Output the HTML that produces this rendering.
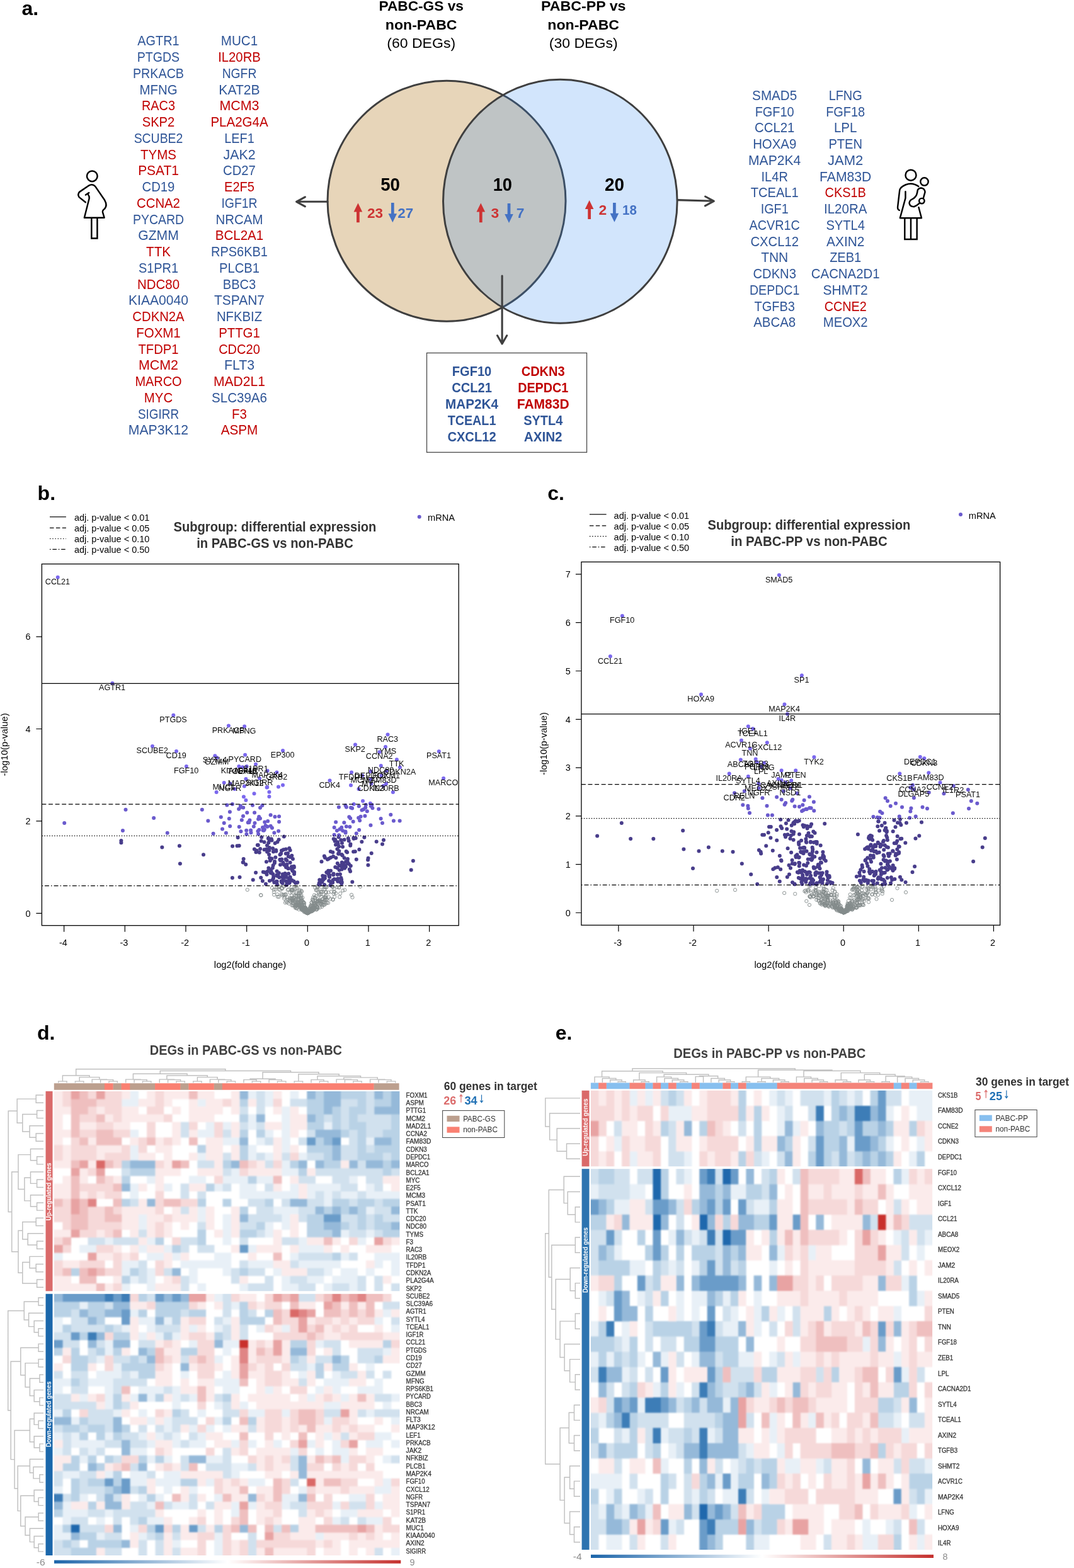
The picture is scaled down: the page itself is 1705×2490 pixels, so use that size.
<!DOCTYPE html>
<html lang="en"><head><meta charset="utf-8"><title>Figure: DEGs in PABC-GS and PABC-PP vs non-PABC</title>
<style>html,body{margin:0;padding:0;background:#fff}body{width:1705px;height:2490px;overflow:hidden}svg{display:block;font-family:"Liberation Sans",sans-serif}text{white-space:pre}</style>
</head><body>
<svg width="1705" height="2490" viewBox="0 0 1705 2490">
<rect width="1705" height="2490" fill="#fff"/>
<defs><filter id="soft" x="-2%" y="-2%" width="104%" height="104%" color-interpolation-filters="sRGB"><feGaussianBlur stdDeviation="1"/></filter></defs>
<g id="panel-a">
<text x="34.5" y="24.1" font-size="32" fill="#000" font-weight="bold">a.</text>
<g id="genes-gs">
<text x="251.5" y="72.4" font-size="22.1" fill="#2F5597" text-anchor="middle" textLength="66.28" lengthAdjust="spacingAndGlyphs">AGTR1</text>
<text x="251.5" y="98.15" font-size="22.1" fill="#2F5597" text-anchor="middle" textLength="67.35" lengthAdjust="spacingAndGlyphs">PTGDS</text>
<text x="251.5" y="123.9" font-size="22.1" fill="#2F5597" text-anchor="middle" textLength="81.04" lengthAdjust="spacingAndGlyphs">PRKACB</text>
<text x="251.5" y="149.65" font-size="22.1" fill="#2F5597" text-anchor="middle" textLength="60.15" lengthAdjust="spacingAndGlyphs">MFNG</text>
<text x="251.5" y="175.4" font-size="22.1" fill="#C00000" text-anchor="middle" textLength="52.91" lengthAdjust="spacingAndGlyphs">RAC3</text>
<text x="251.5" y="201.15" font-size="22.1" fill="#C00000" text-anchor="middle" textLength="51.46" lengthAdjust="spacingAndGlyphs">SKP2</text>
<text x="251.5" y="226.9" font-size="22.1" fill="#2F5597" text-anchor="middle" textLength="77.75" lengthAdjust="spacingAndGlyphs">SCUBE2</text>
<text x="251.5" y="252.65" font-size="22.1" fill="#C00000" text-anchor="middle" textLength="56.81" lengthAdjust="spacingAndGlyphs">TYMS</text>
<text x="251.5" y="278.4" font-size="22.1" fill="#C00000" text-anchor="middle" textLength="64.73" lengthAdjust="spacingAndGlyphs">PSAT1</text>
<text x="251.5" y="304.15" font-size="22.1" fill="#2F5597" text-anchor="middle" textLength="51.83" lengthAdjust="spacingAndGlyphs">CD19</text>
<text x="251.5" y="329.9" font-size="22.1" fill="#C00000" text-anchor="middle" textLength="68.86" lengthAdjust="spacingAndGlyphs">CCNA2</text>
<text x="251.5" y="355.65" font-size="22.1" fill="#2F5597" text-anchor="middle" textLength="81.19" lengthAdjust="spacingAndGlyphs">PYCARD</text>
<text x="251.5" y="381.4" font-size="22.1" fill="#2F5597" text-anchor="middle" textLength="64.54" lengthAdjust="spacingAndGlyphs">GZMM</text>
<text x="251.5" y="407.15" font-size="22.1" fill="#C00000" text-anchor="middle" textLength="38.83" lengthAdjust="spacingAndGlyphs">TTK</text>
<text x="251.5" y="432.9" font-size="22.1" fill="#2F5597" text-anchor="middle" textLength="63.2" lengthAdjust="spacingAndGlyphs">S1PR1</text>
<text x="251.5" y="458.65" font-size="22.1" fill="#C00000" text-anchor="middle" textLength="67.03" lengthAdjust="spacingAndGlyphs">NDC80</text>
<text x="251.5" y="484.4" font-size="22.1" fill="#2F5597" text-anchor="middle" textLength="94.91" lengthAdjust="spacingAndGlyphs">KIAA0040</text>
<text x="251.5" y="510.15" font-size="22.1" fill="#C00000" text-anchor="middle" textLength="82.34" lengthAdjust="spacingAndGlyphs">CDKN2A</text>
<text x="251.5" y="535.9" font-size="22.1" fill="#C00000" text-anchor="middle" textLength="70.43" lengthAdjust="spacingAndGlyphs">FOXM1</text>
<text x="251.5" y="561.65" font-size="22.1" fill="#C00000" text-anchor="middle" textLength="63.94" lengthAdjust="spacingAndGlyphs">TFDP1</text>
<text x="251.5" y="587.4" font-size="22.1" fill="#C00000" text-anchor="middle" textLength="63.1" lengthAdjust="spacingAndGlyphs">MCM2</text>
<text x="251.5" y="613.15" font-size="22.1" fill="#C00000" text-anchor="middle" textLength="74.22" lengthAdjust="spacingAndGlyphs">MARCO</text>
<text x="251.5" y="638.9" font-size="22.1" fill="#C00000" text-anchor="middle" textLength="45.32" lengthAdjust="spacingAndGlyphs">MYC</text>
<text x="251.5" y="664.65" font-size="22.1" fill="#2F5597" text-anchor="middle" textLength="65.05" lengthAdjust="spacingAndGlyphs">SIGIRR</text>
<text x="251.5" y="690.4" font-size="22.1" fill="#2F5597" text-anchor="middle" textLength="95.3" lengthAdjust="spacingAndGlyphs">MAP3K12</text>
<text x="380" y="72.4" font-size="22.1" fill="#2F5597" text-anchor="middle" textLength="58.31" lengthAdjust="spacingAndGlyphs">MUC1</text>
<text x="380" y="98.15" font-size="22.1" fill="#C00000" text-anchor="middle" textLength="67.65" lengthAdjust="spacingAndGlyphs">IL20RB</text>
<text x="380" y="123.9" font-size="22.1" fill="#2F5597" text-anchor="middle" textLength="54.66" lengthAdjust="spacingAndGlyphs">NGFR</text>
<text x="380" y="149.65" font-size="22.1" fill="#2F5597" text-anchor="middle" textLength="65.27" lengthAdjust="spacingAndGlyphs">KAT2B</text>
<text x="380" y="175.4" font-size="22.1" fill="#C00000" text-anchor="middle" textLength="63.1" lengthAdjust="spacingAndGlyphs">MCM3</text>
<text x="380" y="201.15" font-size="22.1" fill="#C00000" text-anchor="middle" textLength="91.25" lengthAdjust="spacingAndGlyphs">PLA2G4A</text>
<text x="380" y="226.9" font-size="22.1" fill="#2F5597" text-anchor="middle" textLength="47.37" lengthAdjust="spacingAndGlyphs">LEF1</text>
<text x="380" y="252.65" font-size="22.1" fill="#2F5597" text-anchor="middle" textLength="51.03" lengthAdjust="spacingAndGlyphs">JAK2</text>
<text x="380" y="278.4" font-size="22.1" fill="#2F5597" text-anchor="middle" textLength="51.83" lengthAdjust="spacingAndGlyphs">CD27</text>
<text x="380" y="304.15" font-size="22.1" fill="#C00000" text-anchor="middle" textLength="47.87" lengthAdjust="spacingAndGlyphs">E2F5</text>
<text x="380" y="329.9" font-size="22.1" fill="#2F5597" text-anchor="middle" textLength="57.23" lengthAdjust="spacingAndGlyphs">IGF1R</text>
<text x="380" y="355.65" font-size="22.1" fill="#2F5597" text-anchor="middle" textLength="74.76" lengthAdjust="spacingAndGlyphs">NRCAM</text>
<text x="380" y="381.4" font-size="22.1" fill="#C00000" text-anchor="middle" textLength="76.51" lengthAdjust="spacingAndGlyphs">BCL2A1</text>
<text x="380" y="407.15" font-size="22.1" fill="#2F5597" text-anchor="middle" textLength="89.85" lengthAdjust="spacingAndGlyphs">RPS6KB1</text>
<text x="380" y="432.9" font-size="22.1" fill="#2F5597" text-anchor="middle" textLength="64.07" lengthAdjust="spacingAndGlyphs">PLCB1</text>
<text x="380" y="458.65" font-size="22.1" fill="#2F5597" text-anchor="middle" textLength="52.42" lengthAdjust="spacingAndGlyphs">BBC3</text>
<text x="380" y="484.4" font-size="22.1" fill="#2F5597" text-anchor="middle" textLength="79.94" lengthAdjust="spacingAndGlyphs">TSPAN7</text>
<text x="380" y="510.15" font-size="22.1" fill="#2F5597" text-anchor="middle" textLength="72.22" lengthAdjust="spacingAndGlyphs">NFKBIZ</text>
<text x="380" y="535.9" font-size="22.1" fill="#C00000" text-anchor="middle" textLength="65.42" lengthAdjust="spacingAndGlyphs">PTTG1</text>
<text x="380" y="561.65" font-size="22.1" fill="#C00000" text-anchor="middle" textLength="65.71" lengthAdjust="spacingAndGlyphs">CDC20</text>
<text x="380" y="587.4" font-size="22.1" fill="#2F5597" text-anchor="middle" textLength="47.97" lengthAdjust="spacingAndGlyphs">FLT3</text>
<text x="380" y="613.15" font-size="22.1" fill="#C00000" text-anchor="middle" textLength="81.96" lengthAdjust="spacingAndGlyphs">MAD2L1</text>
<text x="380" y="638.9" font-size="22.1" fill="#2F5597" text-anchor="middle" textLength="87.86" lengthAdjust="spacingAndGlyphs">SLC39A6</text>
<text x="380" y="664.65" font-size="22.1" fill="#C00000" text-anchor="middle" textLength="23.77" lengthAdjust="spacingAndGlyphs">F3</text>
<text x="380" y="690.4" font-size="22.1" fill="#C00000" text-anchor="middle" textLength="58.65" lengthAdjust="spacingAndGlyphs">ASPM</text>
</g>
<g id="genes-pp">
<text x="1229.7" y="158.9" font-size="22.1" fill="#2F5597" text-anchor="middle" textLength="71.16" lengthAdjust="spacingAndGlyphs">SMAD5</text>
<text x="1229.7" y="184.65" font-size="22.1" fill="#2F5597" text-anchor="middle" textLength="62.06" lengthAdjust="spacingAndGlyphs">FGF10</text>
<text x="1229.7" y="210.4" font-size="22.1" fill="#2F5597" text-anchor="middle" textLength="63.2" lengthAdjust="spacingAndGlyphs">CCL21</text>
<text x="1229.7" y="236.15" font-size="22.1" fill="#2F5597" text-anchor="middle" textLength="69.14" lengthAdjust="spacingAndGlyphs">HOXA9</text>
<text x="1229.7" y="261.9" font-size="22.1" fill="#2F5597" text-anchor="middle" textLength="83.32" lengthAdjust="spacingAndGlyphs">MAP2K4</text>
<text x="1229.7" y="287.65" font-size="22.1" fill="#2F5597" text-anchor="middle" textLength="42.39" lengthAdjust="spacingAndGlyphs">IL4R</text>
<text x="1229.7" y="313.4" font-size="22.1" fill="#2F5597" text-anchor="middle" textLength="76.1" lengthAdjust="spacingAndGlyphs">TCEAL1</text>
<text x="1229.7" y="339.15" font-size="22.1" fill="#2F5597" text-anchor="middle" textLength="44.1" lengthAdjust="spacingAndGlyphs">IGF1</text>
<text x="1229.7" y="364.9" font-size="22.1" fill="#2F5597" text-anchor="middle" textLength="80.36" lengthAdjust="spacingAndGlyphs">ACVR1C</text>
<text x="1229.7" y="390.65" font-size="22.1" fill="#2F5597" text-anchor="middle" textLength="76.57" lengthAdjust="spacingAndGlyphs">CXCL12</text>
<text x="1229.7" y="416.4" font-size="22.1" fill="#2F5597" text-anchor="middle" textLength="43.14" lengthAdjust="spacingAndGlyphs">TNN</text>
<text x="1229.7" y="442.15" font-size="22.1" fill="#2F5597" text-anchor="middle" textLength="68.43" lengthAdjust="spacingAndGlyphs">CDKN3</text>
<text x="1229.7" y="467.9" font-size="22.1" fill="#2F5597" text-anchor="middle" textLength="79.41" lengthAdjust="spacingAndGlyphs">DEPDC1</text>
<text x="1229.7" y="493.65" font-size="22.1" fill="#2F5597" text-anchor="middle" textLength="64.3" lengthAdjust="spacingAndGlyphs">TGFB3</text>
<text x="1229.7" y="519.4" font-size="22.1" fill="#2F5597" text-anchor="middle" textLength="66.97" lengthAdjust="spacingAndGlyphs">ABCA8</text>
<text x="1342.2" y="158.9" font-size="22.1" fill="#2F5597" text-anchor="middle" textLength="53" lengthAdjust="spacingAndGlyphs">LFNG</text>
<text x="1342.2" y="184.65" font-size="22.1" fill="#2F5597" text-anchor="middle" textLength="62.06" lengthAdjust="spacingAndGlyphs">FGF18</text>
<text x="1342.2" y="210.4" font-size="22.1" fill="#2F5597" text-anchor="middle" textLength="36.41" lengthAdjust="spacingAndGlyphs">LPL</text>
<text x="1342.2" y="236.15" font-size="22.1" fill="#2F5597" text-anchor="middle" textLength="53.51" lengthAdjust="spacingAndGlyphs">PTEN</text>
<text x="1342.2" y="261.9" font-size="22.1" fill="#2F5597" text-anchor="middle" textLength="56.28" lengthAdjust="spacingAndGlyphs">JAM2</text>
<text x="1342.2" y="287.65" font-size="22.1" fill="#2F5597" text-anchor="middle" textLength="82.27" lengthAdjust="spacingAndGlyphs">FAM83D</text>
<text x="1342.2" y="313.4" font-size="22.1" fill="#C00000" text-anchor="middle" textLength="65.17" lengthAdjust="spacingAndGlyphs">CKS1B</text>
<text x="1342.2" y="339.15" font-size="22.1" fill="#2F5597" text-anchor="middle" textLength="68.28" lengthAdjust="spacingAndGlyphs">IL20RA</text>
<text x="1342.2" y="364.9" font-size="22.1" fill="#2F5597" text-anchor="middle" textLength="61.65" lengthAdjust="spacingAndGlyphs">SYTL4</text>
<text x="1342.2" y="390.65" font-size="22.1" fill="#2F5597" text-anchor="middle" textLength="60.27" lengthAdjust="spacingAndGlyphs">AXIN2</text>
<text x="1342.2" y="416.4" font-size="22.1" fill="#2F5597" text-anchor="middle" textLength="50.15" lengthAdjust="spacingAndGlyphs">ZEB1</text>
<text x="1342.2" y="442.15" font-size="22.1" fill="#2F5597" text-anchor="middle" textLength="108.74" lengthAdjust="spacingAndGlyphs">CACNA2D1</text>
<text x="1342.2" y="467.9" font-size="22.1" fill="#2F5597" text-anchor="middle" textLength="71.19" lengthAdjust="spacingAndGlyphs">SHMT2</text>
<text x="1342.2" y="493.65" font-size="22.1" fill="#C00000" text-anchor="middle" textLength="67.07" lengthAdjust="spacingAndGlyphs">CCNE2</text>
<text x="1342.2" y="519.4" font-size="22.1" fill="#2F5597" text-anchor="middle" textLength="70.76" lengthAdjust="spacingAndGlyphs">MEOX2</text>
</g>
<text x="668.7" y="17.3" font-size="22.8" fill="#000" font-weight="bold" text-anchor="middle" textLength="134.5" lengthAdjust="spacingAndGlyphs">PABC-GS vs</text>
<text x="668.7" y="46.5" font-size="22.8" fill="#000" font-weight="bold" text-anchor="middle" textLength="113.7" lengthAdjust="spacingAndGlyphs">non-PABC</text>
<text x="668.7" y="76.4" font-size="22.4" fill="#000" text-anchor="middle" textLength="108.8" lengthAdjust="spacingAndGlyphs">(60 DEGs)</text>
<text x="926.2" y="17.3" font-size="22.8" fill="#000" font-weight="bold" text-anchor="middle" textLength="134.5" lengthAdjust="spacingAndGlyphs">PABC-PP vs</text>
<text x="926.2" y="46.5" font-size="22.8" fill="#000" font-weight="bold" text-anchor="middle" textLength="113.7" lengthAdjust="spacingAndGlyphs">non-PABC</text>
<text x="926.2" y="76.4" font-size="22.4" fill="#000" text-anchor="middle" textLength="108.8" lengthAdjust="spacingAndGlyphs">(30 DEGs)</text>
<g id="venn">
<ellipse cx="709" cy="319.3" rx="189" ry="191" fill="#E7D5B9" stroke="#3F3F3F" stroke-width="3"/>
<ellipse cx="889.3" cy="319.8" rx="185.8" ry="193.5" fill="rgb(50,137,241)" fill-opacity="0.22" stroke="none"/>
<ellipse cx="889.3" cy="319.8" rx="185.8" ry="193.5" fill="none" stroke="#3F3F3F" stroke-width="3"/>
</g>
<path d="M520 320.3H471.5M484.3 312.8L470.6 320.3L484.3 327.8" fill="none" stroke="#3F3F3F" stroke-width="3.1" stroke-linecap="round" stroke-linejoin="round"/>
<path d="M1076 317.6L1132.5 319.3M1119.6 312L1133.3 319.4L1119.4 326.8" fill="none" stroke="#3F3F3F" stroke-width="3.1" stroke-linecap="round" stroke-linejoin="round"/>
<path d="M797.1 438V545M789.5 532.8L797.1 546L804.7 532.8" fill="none" stroke="#3F3F3F" stroke-width="3.1" stroke-linecap="round" stroke-linejoin="round"/>
<text x="619.6" y="303.2" font-size="29.3" fill="#000" font-weight="bold" text-anchor="middle" textLength="30.7" lengthAdjust="spacingAndGlyphs">50</text>
<text x="797.8" y="303.2" font-size="29.3" fill="#000" font-weight="bold" text-anchor="middle" textLength="30.3" lengthAdjust="spacingAndGlyphs">10</text>
<text x="975.5" y="303.2" font-size="29.3" fill="#000" font-weight="bold" text-anchor="middle" textLength="31" lengthAdjust="spacingAndGlyphs">20</text>
<path d="M568.4 322.6L575.2 336.6H570.75V353.3H566.05V336.6H561.6Z" fill="#CD3333"/>
<text x="595.5" y="345.8" font-size="22.8" fill="#CD3333" font-weight="bold" text-anchor="middle" textLength="25" lengthAdjust="spacingAndGlyphs">23</text>
<path d="M623.3 353.3L630.1 339.3H625.65V322H620.95V339.3H616.5Z" fill="#4472C4"/>
<text x="643.7" y="345.8" font-size="22.8" fill="#4472C4" font-weight="bold" text-anchor="middle" textLength="24.9" lengthAdjust="spacingAndGlyphs">27</text>
<path d="M763.3 322.6L770.1 336.6H765.65V353.3H760.95V336.6H756.5Z" fill="#CD3333"/>
<text x="785.8" y="345.8" font-size="22.8" fill="#CD3333" font-weight="bold" text-anchor="middle">3</text>
<path d="M808 354L814.8 340H810.35V323H805.65V340H801.2Z" fill="#4472C4"/>
<text x="826.2" y="345.8" font-size="22.8" fill="#4472C4" font-weight="bold" text-anchor="middle">7</text>
<path d="M935.6 317.9L942.4 331.9H937.95V348H933.25V331.9H928.8Z" fill="#CD3333"/>
<text x="956.8" y="340.9" font-size="22.8" fill="#CD3333" font-weight="bold" text-anchor="middle">2</text>
<path d="M975.4 352.8L982.2 338.8H977.75V322H973.05V338.8H968.6Z" fill="#4472C4"/>
<text x="999.5" y="340.9" font-size="22.8" fill="#4472C4" font-weight="bold" text-anchor="middle" textLength="22.8" lengthAdjust="spacingAndGlyphs">18</text>
<rect x="677.5" y="560.5" width="254" height="157.8" fill="#fff" stroke="#4A4A4A" stroke-width="1.3"/>
<g id="shared-genes">
<text x="749" y="597.3" font-size="22" fill="#2F5597" font-weight="bold" text-anchor="middle" textLength="62.56" lengthAdjust="spacingAndGlyphs">FGF10</text>
<text x="749" y="623.23" font-size="22" fill="#2F5597" font-weight="bold" text-anchor="middle" textLength="63.7" lengthAdjust="spacingAndGlyphs">CCL21</text>
<text x="749" y="649.16" font-size="22" fill="#2F5597" font-weight="bold" text-anchor="middle" textLength="83.99" lengthAdjust="spacingAndGlyphs">MAP2K4</text>
<text x="749" y="675.09" font-size="22" fill="#2F5597" font-weight="bold" text-anchor="middle" textLength="76.71" lengthAdjust="spacingAndGlyphs">TCEAL1</text>
<text x="749" y="701.02" font-size="22" fill="#2F5597" font-weight="bold" text-anchor="middle" textLength="77.18" lengthAdjust="spacingAndGlyphs">CXCL12</text>
<text x="862.2" y="597.3" font-size="22" fill="#C00000" font-weight="bold" text-anchor="middle" textLength="68.97" lengthAdjust="spacingAndGlyphs">CDKN3</text>
<text x="862.2" y="623.23" font-size="22" fill="#C00000" font-weight="bold" text-anchor="middle" textLength="80.05" lengthAdjust="spacingAndGlyphs">DEPDC1</text>
<text x="862.2" y="649.16" font-size="22" fill="#C00000" font-weight="bold" text-anchor="middle" textLength="82.93" lengthAdjust="spacingAndGlyphs">FAM83D</text>
<text x="862.2" y="675.09" font-size="22" fill="#2F5597" font-weight="bold" text-anchor="middle" textLength="62.14" lengthAdjust="spacingAndGlyphs">SYTL4</text>
<text x="862.2" y="701.02" font-size="22" fill="#2F5597" font-weight="bold" text-anchor="middle" textLength="60.75" lengthAdjust="spacingAndGlyphs">AXIN2</text>
</g>
<g id="icon-pregnant" transform="translate(100,240) scale(0.06887)" fill="none" stroke="#000" stroke-linecap="round" stroke-linejoin="round" stroke-width="36"><circle cx="672" cy="578" r="121"/><path d="M520 1180L372 1062Q330 1000 378 942L600 792Q680 745 745 815L960 1130Q1030 1250 960 1330Q905 1370 915 1410L952 1535H492L605 1090Q610 1040 580 1000M522 1010L598 960" stroke-linejoin="round"/><path d="M658 1535V2010H790V1535" stroke-linejoin="miter" stroke-linecap="butt"/></g>
<g id="icon-mother" transform="translate(1400,250) scale(0.06456)" fill="none" stroke="#000" stroke-linecap="round" stroke-linejoin="round" stroke-width="38"><circle cx="712" cy="437" r="132"/><circle cx="1045" cy="595" r="96"/><path d="M902 712C820 655 700 625 590 670C530 695 480 730 458 760Q440 782 436 815L388 1225Q385 1280 430 1300"/><path d="M580 840V1000L447 1490H975L905 1228"/><path d="M880 800Q910 750 965 750Q1050 760 1062 850L1020 1000M920 1130Q860 1190 790 1212Q690 1210 675 1130Q675 1060 740 1030Q850 980 870 860L880 800"/><circle cx="981" cy="1070" r="65"/><path d="M562 1490V2015H862V1490M712 1490V2015" stroke-linejoin="miter" stroke-linecap="butt"/></g>
</g>
<g id="panel-b">
<text x="59.6" y="793.9" font-size="32" fill="#000" font-weight="bold">b.</text>
<path d="M79 820.8H104.9" stroke="#000" stroke-width="1.2"/>
<text x="117.9" y="826.6" font-size="14.4" fill="#000" textLength="119.4" lengthAdjust="spacingAndGlyphs">adj. p-value &lt; 0.01</text>
<path d="M79 838.4H104.9" stroke="#000" stroke-width="1.2" stroke-dasharray="6.5 3.4"/>
<text x="117.9" y="844.2" font-size="14.4" fill="#000" textLength="119.4" lengthAdjust="spacingAndGlyphs">adj. p-value &lt; 0.05</text>
<path d="M79 855.5H104.9" stroke="#000" stroke-width="1.2" stroke-dasharray="1.5 2.7"/>
<text x="117.9" y="861" font-size="14.4" fill="#000" textLength="119.4" lengthAdjust="spacingAndGlyphs">adj. p-value &lt; 0.10</text>
<path d="M79 872.3H104.9" stroke="#000" stroke-width="1.2" stroke-dasharray="1.5 2.9 6.5 2.9"/>
<text x="117.9" y="878.1" font-size="14.4" fill="#000" textLength="119.4" lengthAdjust="spacingAndGlyphs">adj. p-value &lt; 0.50</text>
<text x="436.5" y="844.2" font-size="21.2" fill="#333" font-weight="bold" text-anchor="middle" textLength="321.8" lengthAdjust="spacingAndGlyphs">Subgroup: differential expression</text>
<text x="436.5" y="870" font-size="21.2" fill="#333" font-weight="bold" text-anchor="middle" textLength="248.6" lengthAdjust="spacingAndGlyphs">in PABC-GS vs non-PABC</text>
<circle cx="665.7" cy="820.8" r="3" fill="#6A5ACD"/>
<text x="679.1" y="826.6" font-size="14.4" fill="#000" textLength="43" lengthAdjust="spacingAndGlyphs">mRNA</text>
<text transform="translate(11.5 1182.4) rotate(-90)" font-size="14.4" text-anchor="middle" textLength="100" lengthAdjust="spacingAndGlyphs">-log10(p-value)</text>
<text x="397" y="1536.5" font-size="14.4" fill="#000" text-anchor="middle" textLength="114.3" lengthAdjust="spacingAndGlyphs">log2(fold change)</text>
<text x="100.32" y="1501.9" font-size="14.4" fill="#000" text-anchor="middle">-4</text>
<text x="196.99" y="1501.9" font-size="14.4" fill="#000" text-anchor="middle">-3</text>
<text x="293.66" y="1501.9" font-size="14.4" fill="#000" text-anchor="middle">-2</text>
<text x="390.33" y="1501.9" font-size="14.4" fill="#000" text-anchor="middle">-1</text>
<text x="487" y="1501.9" font-size="14.4" fill="#000" text-anchor="middle">0</text>
<text x="583.67" y="1501.9" font-size="14.4" fill="#000" text-anchor="middle">1</text>
<text x="680.34" y="1501.9" font-size="14.4" fill="#000" text-anchor="middle">2</text>
<text x="48.6" y="1455.5" font-size="14.4" fill="#000" text-anchor="end">0</text>
<text x="48.6" y="1309.1" font-size="14.4" fill="#000" text-anchor="end">2</text>
<text x="48.6" y="1162.7" font-size="14.4" fill="#000" text-anchor="end">4</text>
<text x="48.6" y="1016.3" font-size="14.4" fill="#000" text-anchor="end">6</text>
<path d="M101.62 1469.7v10M198.29 1469.7v10M294.96 1469.7v10M391.63 1469.7v10M488.3 1469.7v10M584.97 1469.7v10M681.64 1469.7v10M66.4 1450.3h-9M66.4 1303.9h-9M66.4 1157.5h-9M66.4 1011.1h-9" stroke="#000" stroke-width="1.2" fill="none"/>
<g fill="none" stroke="#838B8B" stroke-width="0.9">
<circle cx="392.7" cy="1413" r="2.6"/><circle cx="414" cy="1421.4" r="2.6"/><circle cx="414.4" cy="1421.6" r="2.6"/><circle cx="572" cy="1408" r="2.6"/><circle cx="558" cy="1421" r="2.6"/><circle cx="559.5" cy="1425" r="2.6"/><circle cx="466.2" cy="1426.32" r="2.6"/><circle cx="459.55" cy="1426.85" r="2.6"/><circle cx="488.81" cy="1449.17" r="2.6"/><circle cx="507.74" cy="1430.84" r="2.6"/><circle cx="477.95" cy="1426.89" r="2.6"/><circle cx="469.6" cy="1428.95" r="2.6"/><circle cx="516.86" cy="1422.51" r="2.6"/><circle cx="500.96" cy="1430.26" r="2.6"/><circle cx="482.87" cy="1441.95" r="2.6"/><circle cx="454.1" cy="1431.25" r="2.6"/><circle cx="473.92" cy="1425.44" r="2.6"/><circle cx="491.61" cy="1442.95" r="2.6"/><circle cx="480.33" cy="1425.52" r="2.6"/><circle cx="535.15" cy="1408.83" r="2.6"/><circle cx="494.6" cy="1433.38" r="2.6"/><circle cx="493.03" cy="1445.13" r="2.6"/><circle cx="494.65" cy="1433.55" r="2.6"/><circle cx="432.01" cy="1410.03" r="2.6"/><circle cx="521.27" cy="1417.2" r="2.6"/><circle cx="462.62" cy="1427.63" r="2.6"/><circle cx="447.98" cy="1421.56" r="2.6"/><circle cx="464.83" cy="1434.55" r="2.6"/><circle cx="500.76" cy="1442.13" r="2.6"/><circle cx="480.09" cy="1437.19" r="2.6"/><circle cx="496.18" cy="1441.83" r="2.6"/><circle cx="485.76" cy="1448.82" r="2.6"/><circle cx="483.08" cy="1434.18" r="2.6"/><circle cx="478.62" cy="1443.5" r="2.6"/><circle cx="484.28" cy="1442.32" r="2.6"/><circle cx="498.77" cy="1440.98" r="2.6"/><circle cx="487.92" cy="1449.56" r="2.6"/><circle cx="489.88" cy="1449.33" r="2.6"/><circle cx="496.63" cy="1441.18" r="2.6"/><circle cx="496.91" cy="1443.59" r="2.6"/><circle cx="499.79" cy="1437.18" r="2.6"/><circle cx="449.91" cy="1420.62" r="2.6"/><circle cx="451.15" cy="1426.96" r="2.6"/><circle cx="483.19" cy="1440.75" r="2.6"/><circle cx="473.91" cy="1432.32" r="2.6"/><circle cx="490.97" cy="1448.55" r="2.6"/><circle cx="501.64" cy="1422.82" r="2.6"/><circle cx="510.06" cy="1424.7" r="2.6"/><circle cx="464.46" cy="1426.73" r="2.6"/><circle cx="464.22" cy="1426.31" r="2.6"/><circle cx="482.67" cy="1448.02" r="2.6"/><circle cx="493.94" cy="1443.89" r="2.6"/><circle cx="519.19" cy="1433.19" r="2.6"/><circle cx="497.32" cy="1443.98" r="2.6"/><circle cx="499.99" cy="1426.39" r="2.6"/><circle cx="504.95" cy="1434.6" r="2.6"/><circle cx="507.75" cy="1441.19" r="2.6"/><circle cx="494.52" cy="1439.62" r="2.6"/><circle cx="518.3" cy="1408.88" r="2.6"/><circle cx="437.53" cy="1412.38" r="2.6"/><circle cx="492.56" cy="1447.26" r="2.6"/><circle cx="440.8" cy="1423.93" r="2.6"/><circle cx="504.42" cy="1412.86" r="2.6"/><circle cx="502.52" cy="1439.97" r="2.6"/><circle cx="478.87" cy="1443.25" r="2.6"/><circle cx="503.55" cy="1409.68" r="2.6"/><circle cx="465.31" cy="1428.11" r="2.6"/><circle cx="484.54" cy="1447.61" r="2.6"/><circle cx="484.39" cy="1441.03" r="2.6"/><circle cx="511.44" cy="1431.98" r="2.6"/><circle cx="496.41" cy="1442.31" r="2.6"/><circle cx="494.78" cy="1447.22" r="2.6"/><circle cx="478.56" cy="1438.47" r="2.6"/><circle cx="506.83" cy="1430.01" r="2.6"/><circle cx="508.7" cy="1434.4" r="2.6"/><circle cx="479.95" cy="1441.56" r="2.6"/><circle cx="510.21" cy="1416.37" r="2.6"/><circle cx="477.84" cy="1441.5" r="2.6"/><circle cx="516.51" cy="1428.04" r="2.6"/><circle cx="493.29" cy="1447.63" r="2.6"/><circle cx="463.15" cy="1416.17" r="2.6"/><circle cx="479.07" cy="1429.64" r="2.6"/><circle cx="511.9" cy="1416.2" r="2.6"/><circle cx="524.59" cy="1427.56" r="2.6"/><circle cx="482.22" cy="1442.22" r="2.6"/><circle cx="463.01" cy="1413.37" r="2.6"/><circle cx="494.61" cy="1445.04" r="2.6"/><circle cx="493.94" cy="1444.31" r="2.6"/><circle cx="475.68" cy="1437.4" r="2.6"/><circle cx="487.48" cy="1449.27" r="2.6"/><circle cx="469.03" cy="1441.94" r="2.6"/><circle cx="464.71" cy="1438.19" r="2.6"/><circle cx="479.03" cy="1415.92" r="2.6"/><circle cx="509.03" cy="1416.01" r="2.6"/><circle cx="466.25" cy="1437.37" r="2.6"/><circle cx="483.87" cy="1441.07" r="2.6"/><circle cx="499.89" cy="1424.94" r="2.6"/><circle cx="489.78" cy="1446.36" r="2.6"/><circle cx="485.43" cy="1442.26" r="2.6"/><circle cx="473.3" cy="1432.83" r="2.6"/><circle cx="516.05" cy="1425.21" r="2.6"/><circle cx="531.11" cy="1424.24" r="2.6"/><circle cx="483.7" cy="1444.42" r="2.6"/><circle cx="482.09" cy="1442.97" r="2.6"/><circle cx="462.73" cy="1408.72" r="2.6"/><circle cx="489.27" cy="1449.75" r="2.6"/><circle cx="471.62" cy="1422.12" r="2.6"/><circle cx="504.69" cy="1442.03" r="2.6"/><circle cx="476.6" cy="1431.47" r="2.6"/><circle cx="478.83" cy="1442.66" r="2.6"/><circle cx="493.46" cy="1446" r="2.6"/><circle cx="498.6" cy="1440.97" r="2.6"/><circle cx="504.45" cy="1431.57" r="2.6"/><circle cx="484.15" cy="1444.57" r="2.6"/><circle cx="482.75" cy="1446.12" r="2.6"/><circle cx="509.23" cy="1432.1" r="2.6"/><circle cx="488.63" cy="1450.15" r="2.6"/><circle cx="482.9" cy="1436.97" r="2.6"/><circle cx="459.43" cy="1429.77" r="2.6"/><circle cx="440.2" cy="1420.29" r="2.6"/><circle cx="487.51" cy="1448.67" r="2.6"/><circle cx="457.95" cy="1412.33" r="2.6"/><circle cx="483.53" cy="1446.95" r="2.6"/><circle cx="476.69" cy="1425.97" r="2.6"/><circle cx="529.78" cy="1419.44" r="2.6"/><circle cx="494.97" cy="1443.97" r="2.6"/><circle cx="512.71" cy="1431.77" r="2.6"/><circle cx="527.49" cy="1407.98" r="2.6"/><circle cx="488.29" cy="1450.29" r="2.6"/><circle cx="515.41" cy="1429.33" r="2.6"/><circle cx="515.93" cy="1412.16" r="2.6"/><circle cx="515.45" cy="1429.01" r="2.6"/><circle cx="488.23" cy="1450.24" r="2.6"/><circle cx="462.24" cy="1425.88" r="2.6"/><circle cx="482.4" cy="1433.38" r="2.6"/><circle cx="496.8" cy="1428.54" r="2.6"/><circle cx="499.5" cy="1442.46" r="2.6"/><circle cx="456.35" cy="1425.07" r="2.6"/><circle cx="475.73" cy="1413.58" r="2.6"/><circle cx="518.33" cy="1408.16" r="2.6"/><circle cx="540.16" cy="1418.85" r="2.6"/><circle cx="495.09" cy="1447.14" r="2.6"/><circle cx="528.68" cy="1408.74" r="2.6"/><circle cx="499.02" cy="1421.5" r="2.6"/><circle cx="467.24" cy="1429.18" r="2.6"/><circle cx="468.87" cy="1429.1" r="2.6"/><circle cx="500.47" cy="1437.15" r="2.6"/><circle cx="498.48" cy="1435.22" r="2.6"/><circle cx="505.7" cy="1417.05" r="2.6"/><circle cx="469.64" cy="1438.46" r="2.6"/><circle cx="447.86" cy="1411.29" r="2.6"/><circle cx="499.15" cy="1435.92" r="2.6"/><circle cx="458.79" cy="1434.85" r="2.6"/><circle cx="464.34" cy="1429.22" r="2.6"/><circle cx="500.06" cy="1409.4" r="2.6"/><circle cx="444.76" cy="1413.47" r="2.6"/><circle cx="480.92" cy="1444.12" r="2.6"/><circle cx="479.42" cy="1439.74" r="2.6"/><circle cx="494.69" cy="1436.45" r="2.6"/><circle cx="434.71" cy="1412.85" r="2.6"/><circle cx="439.37" cy="1409.3" r="2.6"/><circle cx="483.68" cy="1444.7" r="2.6"/><circle cx="471.4" cy="1437.15" r="2.6"/><circle cx="470.6" cy="1406.64" r="2.6"/><circle cx="491.41" cy="1447.38" r="2.6"/><circle cx="470.08" cy="1437.53" r="2.6"/><circle cx="487.08" cy="1449.75" r="2.6"/><circle cx="476.61" cy="1431.13" r="2.6"/><circle cx="463.92" cy="1413.81" r="2.6"/><circle cx="504.27" cy="1430.32" r="2.6"/><circle cx="504.37" cy="1428.1" r="2.6"/><circle cx="478.49" cy="1426.32" r="2.6"/><circle cx="497.43" cy="1441.72" r="2.6"/><circle cx="504.33" cy="1407.29" r="2.6"/><circle cx="510.18" cy="1408.78" r="2.6"/><circle cx="544.24" cy="1414.17" r="2.6"/><circle cx="496.98" cy="1442.17" r="2.6"/><circle cx="463.7" cy="1412.47" r="2.6"/><circle cx="486.65" cy="1449.37" r="2.6"/><circle cx="517.57" cy="1434.41" r="2.6"/><circle cx="450.83" cy="1407.77" r="2.6"/><circle cx="482.92" cy="1443.9" r="2.6"/><circle cx="530.83" cy="1416.78" r="2.6"/><circle cx="503.31" cy="1439.83" r="2.6"/><circle cx="517.88" cy="1417.26" r="2.6"/><circle cx="493.26" cy="1438.04" r="2.6"/><circle cx="474.61" cy="1444.18" r="2.6"/><circle cx="468.57" cy="1438.12" r="2.6"/><circle cx="478.07" cy="1429.57" r="2.6"/><circle cx="527.42" cy="1407.78" r="2.6"/><circle cx="497.56" cy="1442.81" r="2.6"/><circle cx="511.05" cy="1437.28" r="2.6"/><circle cx="499.07" cy="1443.9" r="2.6"/><circle cx="494.56" cy="1444.41" r="2.6"/><circle cx="487.35" cy="1449.78" r="2.6"/><circle cx="507.2" cy="1421.38" r="2.6"/><circle cx="518.11" cy="1428.95" r="2.6"/><circle cx="489.84" cy="1447.31" r="2.6"/><circle cx="483.63" cy="1446.02" r="2.6"/><circle cx="493.42" cy="1443.74" r="2.6"/><circle cx="547.26" cy="1413.34" r="2.6"/><circle cx="479.88" cy="1437.28" r="2.6"/><circle cx="484.54" cy="1444.57" r="2.6"/><circle cx="464.17" cy="1430.96" r="2.6"/><circle cx="500.52" cy="1438.31" r="2.6"/><circle cx="479.25" cy="1445.25" r="2.6"/><circle cx="503.55" cy="1438.67" r="2.6"/><circle cx="434.95" cy="1416.56" r="2.6"/><circle cx="487.41" cy="1448.19" r="2.6"/><circle cx="506.69" cy="1432.98" r="2.6"/><circle cx="479.52" cy="1432.56" r="2.6"/><circle cx="453.4" cy="1420.9" r="2.6"/><circle cx="464.2" cy="1429.39" r="2.6"/><circle cx="477.6" cy="1423.6" r="2.6"/><circle cx="467.63" cy="1411.89" r="2.6"/><circle cx="479.36" cy="1438.74" r="2.6"/><circle cx="478.24" cy="1443.56" r="2.6"/><circle cx="483.91" cy="1446" r="2.6"/><circle cx="490.77" cy="1447.42" r="2.6"/><circle cx="504.02" cy="1432.31" r="2.6"/><circle cx="485.2" cy="1441.51" r="2.6"/><circle cx="478.37" cy="1437.67" r="2.6"/><circle cx="518.52" cy="1428.17" r="2.6"/><circle cx="521.86" cy="1424.76" r="2.6"/><circle cx="492.06" cy="1441.19" r="2.6"/><circle cx="526" cy="1416.01" r="2.6"/><circle cx="514.93" cy="1433.58" r="2.6"/><circle cx="476.49" cy="1419.2" r="2.6"/><circle cx="473.48" cy="1428.8" r="2.6"/><circle cx="484.95" cy="1448.66" r="2.6"/><circle cx="487.95" cy="1449.93" r="2.6"/><circle cx="451.8" cy="1424.57" r="2.6"/><circle cx="494.82" cy="1444.54" r="2.6"/><circle cx="515.89" cy="1408.82" r="2.6"/><circle cx="497.41" cy="1445.64" r="2.6"/><circle cx="486.12" cy="1446.15" r="2.6"/><circle cx="509.69" cy="1432" r="2.6"/><circle cx="496.61" cy="1446.1" r="2.6"/><circle cx="497.76" cy="1443.26" r="2.6"/><circle cx="500.42" cy="1437.32" r="2.6"/><circle cx="478.22" cy="1432.2" r="2.6"/><circle cx="451.38" cy="1421.09" r="2.6"/><circle cx="513.87" cy="1420.54" r="2.6"/><circle cx="479.96" cy="1430.81" r="2.6"/><circle cx="504.23" cy="1407.85" r="2.6"/><circle cx="488.79" cy="1449.05" r="2.6"/><circle cx="488.22" cy="1450.24" r="2.6"/><circle cx="486.95" cy="1449.53" r="2.6"/><circle cx="502.1" cy="1444.59" r="2.6"/><circle cx="446.98" cy="1410.26" r="2.6"/><circle cx="490.24" cy="1449.13" r="2.6"/><circle cx="515.11" cy="1424.58" r="2.6"/><circle cx="455.85" cy="1433.32" r="2.6"/><circle cx="471.55" cy="1433.15" r="2.6"/><circle cx="473.02" cy="1436.58" r="2.6"/><circle cx="481.38" cy="1441.88" r="2.6"/><circle cx="528.81" cy="1428.73" r="2.6"/><circle cx="494.6" cy="1444.41" r="2.6"/><circle cx="471.08" cy="1442.57" r="2.6"/><circle cx="469.08" cy="1422.12" r="2.6"/><circle cx="492.15" cy="1447.87" r="2.6"/><circle cx="463.28" cy="1437.22" r="2.6"/><circle cx="537.66" cy="1409.13" r="2.6"/><circle cx="488.25" cy="1450.25" r="2.6"/><circle cx="471.26" cy="1437.83" r="2.6"/><circle cx="517.25" cy="1416.34" r="2.6"/><circle cx="510.03" cy="1434.54" r="2.6"/><circle cx="468.51" cy="1440.13" r="2.6"/><circle cx="451.08" cy="1406.72" r="2.6"/><circle cx="470.46" cy="1416.73" r="2.6"/><circle cx="512.02" cy="1427.77" r="2.6"/><circle cx="488.84" cy="1450.07" r="2.6"/><circle cx="470.77" cy="1435.7" r="2.6"/><circle cx="512.25" cy="1427.65" r="2.6"/><circle cx="469.1" cy="1439.84" r="2.6"/><circle cx="492.27" cy="1442.34" r="2.6"/><circle cx="503.4" cy="1441.16" r="2.6"/><circle cx="528.17" cy="1428.17" r="2.6"/><circle cx="474.12" cy="1437.74" r="2.6"/><circle cx="470.64" cy="1427.69" r="2.6"/><circle cx="514.05" cy="1412.46" r="2.6"/><circle cx="530.52" cy="1411.31" r="2.6"/><circle cx="509.23" cy="1430.85" r="2.6"/><circle cx="499.8" cy="1434.25" r="2.6"/><circle cx="482.05" cy="1446.13" r="2.6"/><circle cx="512.75" cy="1436.91" r="2.6"/><circle cx="485.01" cy="1444.16" r="2.6"/><circle cx="435.03" cy="1420.78" r="2.6"/><circle cx="484.36" cy="1448.42" r="2.6"/><circle cx="453.41" cy="1419.89" r="2.6"/><circle cx="483.71" cy="1443.87" r="2.6"/><circle cx="483.09" cy="1441.52" r="2.6"/><circle cx="476.36" cy="1436.76" r="2.6"/><circle cx="460.54" cy="1430.14" r="2.6"/><circle cx="442.15" cy="1408.51" r="2.6"/><circle cx="485.61" cy="1443.34" r="2.6"/><circle cx="468.57" cy="1432.4" r="2.6"/><circle cx="474.08" cy="1434.36" r="2.6"/><circle cx="533.19" cy="1418.49" r="2.6"/><circle cx="494.48" cy="1443.54" r="2.6"/><circle cx="477.44" cy="1440.55" r="2.6"/><circle cx="497.26" cy="1425.06" r="2.6"/><circle cx="482.14" cy="1442.15" r="2.6"/><circle cx="481.54" cy="1432.24" r="2.6"/><circle cx="514.02" cy="1436.83" r="2.6"/><circle cx="515.7" cy="1436.52" r="2.6"/><circle cx="493.77" cy="1445.97" r="2.6"/><circle cx="476.06" cy="1439.69" r="2.6"/><circle cx="509.5" cy="1435.94" r="2.6"/><circle cx="476.7" cy="1417.3" r="2.6"/><circle cx="465.19" cy="1413.75" r="2.6"/><circle cx="493.21" cy="1439.06" r="2.6"/><circle cx="477.64" cy="1440.79" r="2.6"/><circle cx="473.95" cy="1433.87" r="2.6"/><circle cx="501.21" cy="1437.07" r="2.6"/><circle cx="490.21" cy="1448.58" r="2.6"/><circle cx="469.97" cy="1435.28" r="2.6"/><circle cx="480.54" cy="1443.77" r="2.6"/><circle cx="504.4" cy="1441.13" r="2.6"/><circle cx="496.52" cy="1444.51" r="2.6"/><circle cx="490.89" cy="1447.67" r="2.6"/><circle cx="511.15" cy="1439.85" r="2.6"/><circle cx="490.36" cy="1446.7" r="2.6"/><circle cx="504.22" cy="1431.54" r="2.6"/><circle cx="471.69" cy="1410.04" r="2.6"/><circle cx="517.69" cy="1425.11" r="2.6"/><circle cx="516.52" cy="1425.53" r="2.6"/><circle cx="530.53" cy="1415.93" r="2.6"/><circle cx="456.77" cy="1413.33" r="2.6"/><circle cx="495.49" cy="1444.46" r="2.6"/><circle cx="491.01" cy="1446.29" r="2.6"/><circle cx="447.56" cy="1410.45" r="2.6"/><circle cx="504.66" cy="1431.3" r="2.6"/><circle cx="469.72" cy="1410.92" r="2.6"/><circle cx="473.07" cy="1427.82" r="2.6"/><circle cx="474.65" cy="1422.91" r="2.6"/><circle cx="497.44" cy="1442.9" r="2.6"/><circle cx="478.88" cy="1441.98" r="2.6"/><circle cx="462.84" cy="1422.32" r="2.6"/><circle cx="475.47" cy="1438.27" r="2.6"/><circle cx="481.4" cy="1433.35" r="2.6"/><circle cx="484.86" cy="1445.37" r="2.6"/><circle cx="497.03" cy="1437.62" r="2.6"/><circle cx="442.78" cy="1424.14" r="2.6"/><circle cx="489.43" cy="1447.4" r="2.6"/><circle cx="494.45" cy="1443.71" r="2.6"/><circle cx="506.54" cy="1419.49" r="2.6"/><circle cx="473.38" cy="1435.4" r="2.6"/><circle cx="452.91" cy="1433.42" r="2.6"/><circle cx="502.34" cy="1443.47" r="2.6"/><circle cx="482.74" cy="1443.57" r="2.6"/><circle cx="526.32" cy="1406.57" r="2.6"/><circle cx="470.14" cy="1422.86" r="2.6"/><circle cx="475.93" cy="1441.67" r="2.6"/><circle cx="492.38" cy="1443.6" r="2.6"/><circle cx="457.07" cy="1428.55" r="2.6"/><circle cx="503.27" cy="1432.81" r="2.6"/><circle cx="486.65" cy="1448.11" r="2.6"/><circle cx="538.48" cy="1409.52" r="2.6"/><circle cx="497.29" cy="1430.51" r="2.6"/><circle cx="471.48" cy="1442.14" r="2.6"/><circle cx="461.39" cy="1432.38" r="2.6"/><circle cx="474.91" cy="1422.17" r="2.6"/><circle cx="477.78" cy="1440.56" r="2.6"/><circle cx="499.26" cy="1434.06" r="2.6"/><circle cx="446.9" cy="1419.89" r="2.6"/><circle cx="503.26" cy="1444.04" r="2.6"/><circle cx="460.25" cy="1417.51" r="2.6"/><circle cx="497.53" cy="1431.57" r="2.6"/><circle cx="490.08" cy="1448.51" r="2.6"/><circle cx="506.15" cy="1429.72" r="2.6"/><circle cx="478.4" cy="1414.49" r="2.6"/><circle cx="490.29" cy="1449.08" r="2.6"/><circle cx="467.4" cy="1421.7" r="2.6"/><circle cx="539.14" cy="1424.39" r="2.6"/><circle cx="501.78" cy="1413.76" r="2.6"/><circle cx="466.88" cy="1431.49" r="2.6"/><circle cx="484.78" cy="1448.38" r="2.6"/><circle cx="491.92" cy="1446.18" r="2.6"/><circle cx="475.7" cy="1415.6" r="2.6"/><circle cx="478.34" cy="1421.65" r="2.6"/><circle cx="496.01" cy="1428.62" r="2.6"/><circle cx="481.98" cy="1436.69" r="2.6"/><circle cx="502.74" cy="1413.16" r="2.6"/><circle cx="462.49" cy="1413.79" r="2.6"/><circle cx="472.69" cy="1435.72" r="2.6"/><circle cx="465.57" cy="1433.98" r="2.6"/><circle cx="509.15" cy="1420.01" r="2.6"/><circle cx="487.98" cy="1449.91" r="2.6"/><circle cx="490.7" cy="1448.8" r="2.6"/><circle cx="442.97" cy="1412.29" r="2.6"/><circle cx="442.47" cy="1407.36" r="2.6"/><circle cx="521.06" cy="1433.86" r="2.6"/><circle cx="470.21" cy="1418.84" r="2.6"/><circle cx="493.5" cy="1443.51" r="2.6"/><circle cx="489.05" cy="1449.75" r="2.6"/><circle cx="490.31" cy="1446.19" r="2.6"/><circle cx="486.56" cy="1449.59" r="2.6"/><circle cx="499.47" cy="1441.13" r="2.6"/><circle cx="474.08" cy="1418.72" r="2.6"/><circle cx="480.63" cy="1445.02" r="2.6"/><circle cx="491.04" cy="1443" r="2.6"/><circle cx="496.1" cy="1438.99" r="2.6"/><circle cx="484.79" cy="1447.87" r="2.6"/><circle cx="516.1" cy="1408.27" r="2.6"/><circle cx="485.73" cy="1443.59" r="2.6"/>
</g>
<g fill="#483D8B"><circle cx="459.38" cy="1402.2" r="3"/><circle cx="425.98" cy="1331.5" r="3"/><circle cx="420.49" cy="1385.28" r="3"/><circle cx="454.07" cy="1377.22" r="3"/><circle cx="386.64" cy="1364.08" r="3"/><circle cx="444.53" cy="1357.36" r="3"/><circle cx="427.95" cy="1398.77" r="3"/><circle cx="439.92" cy="1404.58" r="3"/><circle cx="434.33" cy="1392.26" r="3"/><circle cx="427.09" cy="1356.99" r="3"/><circle cx="467.18" cy="1385.01" r="3"/><circle cx="431.47" cy="1334.42" r="3"/><circle cx="450.36" cy="1392.44" r="3"/><circle cx="427.6" cy="1334.87" r="3"/><circle cx="452.44" cy="1387.09" r="3"/><circle cx="422.93" cy="1368.42" r="3"/><circle cx="424.06" cy="1352.75" r="3"/><circle cx="444.35" cy="1364.9" r="3"/><circle cx="446.05" cy="1355.58" r="3"/><circle cx="430.65" cy="1384.36" r="3"/><circle cx="439.6" cy="1383.57" r="3"/><circle cx="469.1" cy="1402.37" r="3"/><circle cx="446.95" cy="1400.64" r="3"/><circle cx="457.86" cy="1401.4" r="3"/><circle cx="454.79" cy="1405.57" r="3"/><circle cx="447.15" cy="1350.81" r="3"/><circle cx="409.81" cy="1342.03" r="3"/><circle cx="456.93" cy="1354.99" r="3"/><circle cx="427.45" cy="1350.44" r="3"/><circle cx="435.89" cy="1370.41" r="3"/><circle cx="440.45" cy="1337.01" r="3"/><circle cx="455.55" cy="1372.63" r="3"/><circle cx="439.91" cy="1390.92" r="3"/><circle cx="406.42" cy="1353.19" r="3"/><circle cx="455.47" cy="1403.93" r="3"/><circle cx="423.16" cy="1348.62" r="3"/><circle cx="463.44" cy="1397.64" r="3"/><circle cx="415.24" cy="1329.42" r="3"/><circle cx="401.71" cy="1397.35" r="3"/><circle cx="439.67" cy="1399.78" r="3"/><circle cx="379.65" cy="1343.07" r="3"/><circle cx="454.37" cy="1388.75" r="3"/><circle cx="447.38" cy="1350.75" r="3"/><circle cx="449.44" cy="1369.87" r="3"/><circle cx="433.64" cy="1374.36" r="3"/><circle cx="458.64" cy="1395.21" r="3"/><circle cx="457.82" cy="1359.91" r="3"/><circle cx="433.19" cy="1388.02" r="3"/><circle cx="453.83" cy="1355.43" r="3"/><circle cx="436.6" cy="1339.11" r="3"/><circle cx="458.06" cy="1401.7" r="3"/><circle cx="460.72" cy="1393.34" r="3"/><circle cx="442.84" cy="1386.32" r="3"/><circle cx="450.82" cy="1328.6" r="3"/><circle cx="426" cy="1330.91" r="3"/><circle cx="457.69" cy="1379.36" r="3"/><circle cx="433.97" cy="1352.6" r="3"/><circle cx="417.83" cy="1384.76" r="3"/><circle cx="369.07" cy="1343.82" r="3"/><circle cx="446.61" cy="1399.18" r="3"/><circle cx="466.51" cy="1399.48" r="3"/><circle cx="459.07" cy="1395.33" r="3"/><circle cx="466.83" cy="1377.38" r="3"/><circle cx="428.07" cy="1362.59" r="3"/><circle cx="433.93" cy="1394.91" r="3"/><circle cx="390.2" cy="1372.76" r="3"/><circle cx="460.4" cy="1399.88" r="3"/><circle cx="437.29" cy="1361.52" r="3"/><circle cx="386.27" cy="1369.16" r="3"/><circle cx="448.35" cy="1402.39" r="3"/><circle cx="463.28" cy="1358.68" r="3"/><circle cx="424.82" cy="1383.66" r="3"/><circle cx="442.65" cy="1333.26" r="3"/><circle cx="447.72" cy="1392.84" r="3"/><circle cx="433.02" cy="1347.23" r="3"/><circle cx="444.98" cy="1373.27" r="3"/><circle cx="435.34" cy="1401.14" r="3"/><circle cx="460.58" cy="1350.33" r="3"/><circle cx="460.71" cy="1360.95" r="3"/><circle cx="427.74" cy="1345.99" r="3"/><circle cx="455.36" cy="1366.49" r="3"/><circle cx="436" cy="1368.05" r="3"/><circle cx="432.76" cy="1378.23" r="3"/><circle cx="459.26" cy="1347.1" r="3"/><circle cx="453.88" cy="1348.39" r="3"/><circle cx="456.12" cy="1377.64" r="3"/><circle cx="466.64" cy="1375.85" r="3"/><circle cx="423.99" cy="1342.48" r="3"/><circle cx="430.07" cy="1381.37" r="3"/><circle cx="459.08" cy="1398.23" r="3"/><circle cx="443.34" cy="1393.2" r="3"/><circle cx="451.7" cy="1392.67" r="3"/><circle cx="460.31" cy="1392.87" r="3"/><circle cx="449.83" cy="1395.4" r="3"/><circle cx="407.72" cy="1350.71" r="3"/><circle cx="453.54" cy="1364.55" r="3"/><circle cx="450.14" cy="1349.26" r="3"/><circle cx="447.15" cy="1364.55" r="3"/><circle cx="451.78" cy="1373.84" r="3"/><circle cx="403.85" cy="1348.47" r="3"/><circle cx="421.94" cy="1403.71" r="3"/><circle cx="419.5" cy="1337.19" r="3"/><circle cx="453.85" cy="1399.27" r="3"/><circle cx="472.24" cy="1401.35" r="3"/><circle cx="438.13" cy="1349.94" r="3"/><circle cx="441.54" cy="1390.23" r="3"/><circle cx="462.98" cy="1380.02" r="3"/><circle cx="458.11" cy="1401.95" r="3"/><circle cx="429.85" cy="1386.34" r="3"/><circle cx="438.34" cy="1351.78" r="3"/><circle cx="423.52" cy="1388.85" r="3"/><circle cx="416.86" cy="1398.89" r="3"/><circle cx="414.62" cy="1335.62" r="3"/><circle cx="431.41" cy="1363.58" r="3"/><circle cx="413.1" cy="1348" r="3"/><circle cx="426.4" cy="1378.43" r="3"/><circle cx="460.61" cy="1369.86" r="3"/><circle cx="450.4" cy="1372.62" r="3"/><circle cx="448.73" cy="1388.35" r="3"/><circle cx="457.28" cy="1400.9" r="3"/><circle cx="462.98" cy="1376.32" r="3"/><circle cx="432.57" cy="1397.23" r="3"/><circle cx="464.91" cy="1364.1" r="3"/><circle cx="406.05" cy="1385.86" r="3"/><circle cx="464.93" cy="1383.14" r="3"/><circle cx="458.09" cy="1387.29" r="3"/><circle cx="408.79" cy="1341.93" r="3"/><circle cx="411.8" cy="1353.82" r="3"/><circle cx="438.86" cy="1399.66" r="3"/><circle cx="414.21" cy="1393.84" r="3"/><circle cx="464.1" cy="1382.38" r="3"/><circle cx="430.77" cy="1332.14" r="3"/><circle cx="426.37" cy="1338.27" r="3"/><circle cx="419.57" cy="1349.33" r="3"/><circle cx="467" cy="1388.05" r="3"/><circle cx="445.36" cy="1366.5" r="3"/><circle cx="454.57" cy="1392.97" r="3"/><circle cx="448.06" cy="1399.33" r="3"/><circle cx="428.92" cy="1366.84" r="3"/><circle cx="439.25" cy="1389.57" r="3"/><circle cx="542.41" cy="1357.01" r="3"/><circle cx="518.37" cy="1385.32" r="3"/><circle cx="540.28" cy="1400.48" r="3"/><circle cx="584.4" cy="1373.79" r="3"/><circle cx="542.92" cy="1338.81" r="3"/><circle cx="574.33" cy="1336.79" r="3"/><circle cx="608.97" cy="1333.89" r="3"/><circle cx="542.21" cy="1403.25" r="3"/><circle cx="515.76" cy="1394.71" r="3"/><circle cx="532.26" cy="1376.99" r="3"/><circle cx="556.19" cy="1342.64" r="3"/><circle cx="553.95" cy="1371.9" r="3"/><circle cx="524.88" cy="1352.34" r="3"/><circle cx="508.14" cy="1404.84" r="3"/><circle cx="514.84" cy="1359.41" r="3"/><circle cx="553.74" cy="1335.36" r="3"/><circle cx="548.23" cy="1375.09" r="3"/><circle cx="541.4" cy="1394.05" r="3"/><circle cx="533.3" cy="1362.27" r="3"/><circle cx="526.55" cy="1400.78" r="3"/><circle cx="531.61" cy="1335.73" r="3"/><circle cx="522.14" cy="1363.44" r="3"/><circle cx="532.21" cy="1333.13" r="3"/><circle cx="522.15" cy="1398.63" r="3"/><circle cx="538.11" cy="1355.78" r="3"/><circle cx="544.01" cy="1344.74" r="3"/><circle cx="561.13" cy="1352.42" r="3"/><circle cx="525.12" cy="1400.69" r="3"/><circle cx="528.15" cy="1401.57" r="3"/><circle cx="525" cy="1382.78" r="3"/><circle cx="538.33" cy="1351.44" r="3"/><circle cx="541.24" cy="1333.97" r="3"/><circle cx="535.77" cy="1371.11" r="3"/><circle cx="542.66" cy="1401.42" r="3"/><circle cx="584.56" cy="1362.79" r="3"/><circle cx="549.14" cy="1368.25" r="3"/><circle cx="548.83" cy="1376.39" r="3"/><circle cx="515.91" cy="1361.88" r="3"/><circle cx="544.01" cy="1371.17" r="3"/><circle cx="506.17" cy="1404.41" r="3"/><circle cx="570.31" cy="1349.03" r="3"/><circle cx="512.23" cy="1390.65" r="3"/><circle cx="529.07" cy="1360.1" r="3"/><circle cx="565.76" cy="1364.67" r="3"/><circle cx="547.12" cy="1378.74" r="3"/><circle cx="522.43" cy="1390.83" r="3"/><circle cx="512.35" cy="1396" r="3"/><circle cx="537.08" cy="1355.81" r="3"/><circle cx="525.11" cy="1361.81" r="3"/><circle cx="597.66" cy="1336.45" r="3"/><circle cx="519.89" cy="1364.76" r="3"/><circle cx="530.68" cy="1395.96" r="3"/><circle cx="536" cy="1337.3" r="3"/><circle cx="578.36" cy="1329.68" r="3"/><circle cx="543.66" cy="1358.59" r="3"/><circle cx="556.79" cy="1374.95" r="3"/><circle cx="561.57" cy="1331.7" r="3"/><circle cx="536.44" cy="1395.32" r="3"/><circle cx="521.21" cy="1387.08" r="3"/><circle cx="528.39" cy="1397.83" r="3"/><circle cx="536.29" cy="1399.75" r="3"/><circle cx="551.94" cy="1364.11" r="3"/><circle cx="524.35" cy="1405.63" r="3"/><circle cx="537.64" cy="1329.35" r="3"/><circle cx="523.18" cy="1392.63" r="3"/><circle cx="559.29" cy="1400.42" r="3"/><circle cx="529.69" cy="1332.24" r="3"/><circle cx="556.41" cy="1340.49" r="3"/><circle cx="546.65" cy="1362.58" r="3"/><circle cx="563.76" cy="1352.14" r="3"/><circle cx="538.42" cy="1374.49" r="3"/><circle cx="507.3" cy="1397.32" r="3"/><circle cx="542.45" cy="1400.13" r="3"/><circle cx="535.48" cy="1378.19" r="3"/><circle cx="535.64" cy="1388.79" r="3"/><circle cx="542.06" cy="1396.73" r="3"/><circle cx="522.89" cy="1383.66" r="3"/><circle cx="506.82" cy="1401.97" r="3"/><circle cx="536.62" cy="1340.23" r="3"/><circle cx="556.09" cy="1383.76" r="3"/><circle cx="528.29" cy="1353.61" r="3"/><circle cx="561.37" cy="1330.57" r="3"/><circle cx="554.84" cy="1380.46" r="3"/><circle cx="545.15" cy="1371.21" r="3"/><circle cx="544.79" cy="1376.66" r="3"/><circle cx="539.94" cy="1388.18" r="3"/><circle cx="564.71" cy="1331.01" r="3"/><circle cx="533" cy="1341.51" r="3"/><circle cx="515.8" cy="1391.38" r="3"/><circle cx="535.4" cy="1348.31" r="3"/><circle cx="510.5" cy="1368.25" r="3"/><circle cx="541" cy="1375.27" r="3"/><circle cx="538.07" cy="1344.27" r="3"/><circle cx="551.11" cy="1353.57" r="3"/><circle cx="589.69" cy="1355" r="3"/><circle cx="542.59" cy="1380.52" r="3"/><circle cx="513.25" cy="1397.1" r="3"/><circle cx="542.58" cy="1373.12" r="3"/><circle cx="542.82" cy="1369.47" r="3"/><circle cx="520.65" cy="1386.7" r="3"/><circle cx="534.45" cy="1396.71" r="3"/><circle cx="513.32" cy="1393.76" r="3"/><circle cx="552.82" cy="1331.24" r="3"/><circle cx="521.18" cy="1382.87" r="3"/><circle cx="551.67" cy="1368.27" r="3"/><circle cx="529.51" cy="1387.55" r="3"/><circle cx="538.6" cy="1381.79" r="3"/><circle cx="584.05" cy="1365.39" r="3"/><circle cx="551.23" cy="1371.12" r="3"/><circle cx="549.62" cy="1351.94" r="3"/><circle cx="515.07" cy="1405.03" r="3"/><circle cx="546.54" cy="1333.43" r="3"/><circle cx="511.39" cy="1400.43" r="3"/><circle cx="523.44" cy="1389.7" r="3"/><circle cx="529.22" cy="1389.27" r="3"/><circle cx="192.4" cy="1335.1" r="3"/><circle cx="192.4" cy="1338.3" r="3"/><circle cx="257.3" cy="1345.4" r="3"/><circle cx="284.9" cy="1343.2" r="3"/><circle cx="323" cy="1357.3" r="3"/><circle cx="285.9" cy="1371.6" r="3"/><circle cx="377.6" cy="1330" r="3"/><circle cx="376.5" cy="1343.2" r="3"/><circle cx="385.7" cy="1369.5" r="3"/><circle cx="368.9" cy="1394.1" r="3"/><circle cx="380.5" cy="1393" r="3"/><circle cx="655.9" cy="1367" r="3"/><circle cx="652.7" cy="1381.4" r="3"/><circle cx="607" cy="1340.5" r="3"/></g>
<g fill="#6A5ACD"><circle cx="413.07" cy="1282.87" r="3"/><circle cx="394.84" cy="1305.61" r="3"/><circle cx="402.83" cy="1312.47" r="3"/><circle cx="413" cy="1299.66" r="3"/><circle cx="425.14" cy="1303.92" r="3"/><circle cx="416.38" cy="1278.97" r="3"/><circle cx="411.15" cy="1297.05" r="3"/><circle cx="398.08" cy="1318.41" r="3"/><circle cx="421.49" cy="1311.07" r="3"/><circle cx="396.41" cy="1302.52" r="3"/><circle cx="404.06" cy="1290.38" r="3"/><circle cx="400.97" cy="1278.69" r="3"/><circle cx="393.76" cy="1306.24" r="3"/><circle cx="404.47" cy="1307.08" r="3"/><circle cx="395.47" cy="1306.04" r="3"/><circle cx="410.07" cy="1300.86" r="3"/><circle cx="386.18" cy="1282.49" r="3"/><circle cx="391.16" cy="1318.76" r="3"/><circle cx="392.25" cy="1290.47" r="3"/><circle cx="436.46" cy="1296.99" r="3"/><circle cx="442.11" cy="1319.85" r="3"/><circle cx="411.39" cy="1317.64" r="3"/><circle cx="419.94" cy="1316.88" r="3"/><circle cx="398.45" cy="1322.26" r="3"/><circle cx="443.04" cy="1304.97" r="3"/><circle cx="416.98" cy="1314.05" r="3"/><circle cx="417.58" cy="1318.62" r="3"/><circle cx="410.16" cy="1324.55" r="3"/><circle cx="429.6" cy="1294.21" r="3"/><circle cx="431.95" cy="1314.86" r="3"/><circle cx="424.45" cy="1312.86" r="3"/><circle cx="385.97" cy="1295.92" r="3"/><circle cx="435.35" cy="1322.44" r="3"/><circle cx="443.04" cy="1296.4" r="3"/><circle cx="379.12" cy="1284.64" r="3"/><circle cx="418.9" cy="1318.75" r="3"/><circle cx="429.66" cy="1311.71" r="3"/><circle cx="409.43" cy="1320.11" r="3"/><circle cx="391.39" cy="1324.72" r="3"/><circle cx="420.24" cy="1305.57" r="3"/><circle cx="559.1" cy="1283.46" r="3"/><circle cx="548.44" cy="1279.12" r="3"/><circle cx="601.2" cy="1284.71" r="3"/><circle cx="556.21" cy="1299.44" r="3"/><circle cx="538.08" cy="1326.24" r="3"/><circle cx="548.45" cy="1320.44" r="3"/><circle cx="557.03" cy="1282.48" r="3"/><circle cx="569.79" cy="1280.25" r="3"/><circle cx="542.24" cy="1313.91" r="3"/><circle cx="574.47" cy="1286.54" r="3"/><circle cx="533.14" cy="1305.5" r="3"/><circle cx="548.56" cy="1322.43" r="3"/><circle cx="579.4" cy="1295.82" r="3"/><circle cx="544.17" cy="1319.37" r="3"/><circle cx="570.12" cy="1318.09" r="3"/><circle cx="569.15" cy="1298.63" r="3"/><circle cx="565.76" cy="1323.51" r="3"/><circle cx="530.57" cy="1325.67" r="3"/><circle cx="588.45" cy="1310.42" r="3"/><circle cx="555.39" cy="1313.12" r="3"/><circle cx="554.34" cy="1297.28" r="3"/><circle cx="591.38" cy="1283.2" r="3"/><circle cx="571.13" cy="1303.03" r="3"/><circle cx="588.83" cy="1279.9" r="3"/><circle cx="546.31" cy="1306.23" r="3"/><circle cx="560.67" cy="1304.68" r="3"/><circle cx="534.94" cy="1319.11" r="3"/><circle cx="530.65" cy="1313.88" r="3"/><circle cx="580.2" cy="1282.52" r="3"/><circle cx="539.5" cy="1316.71" r="3"/><circle cx="549.85" cy="1312.5" r="3"/><circle cx="572.58" cy="1296.78" r="3"/><circle cx="199.5" cy="1285.7" r="3"/><circle cx="102.2" cy="1307" r="3"/><circle cx="244.1" cy="1298.9" r="3"/><circle cx="194.9" cy="1318.9" r="3"/><circle cx="265.7" cy="1322.7" r="3"/><circle cx="320.8" cy="1285.7" r="3"/><circle cx="330.3" cy="1303.5" r="3"/><circle cx="338.6" cy="1323.8" r="3"/><circle cx="350.8" cy="1297.6" r="3"/><circle cx="355.7" cy="1307" r="3"/><circle cx="353" cy="1316.5" r="3"/><circle cx="358.9" cy="1322.7" r="3"/><circle cx="360.3" cy="1278.4" r="3"/><circle cx="368.9" cy="1277" r="3"/><circle cx="364.9" cy="1289.2" r="3"/><circle cx="363.8" cy="1300" r="3"/><circle cx="365.1" cy="1311.9" r="3"/><circle cx="381.9" cy="1281.9" r="3"/><circle cx="383.8" cy="1302.2" r="3"/><circle cx="379.7" cy="1313" r="3"/><circle cx="382.4" cy="1320.3" r="3"/><circle cx="381.8" cy="1279.8" r="3"/><circle cx="580.8" cy="1277.9" r="3"/><circle cx="590.4" cy="1277.9" r="3"/><circle cx="537.9" cy="1281.7" r="3"/><circle cx="549.9" cy="1281.7" r="3"/><circle cx="577.1" cy="1285.3" r="3"/><circle cx="582.8" cy="1288.3" r="3"/><circle cx="620.3" cy="1293.8" r="3"/><circle cx="624.9" cy="1303.5" r="3"/><circle cx="634.6" cy="1303.5" r="3"/><circle cx="604.6" cy="1300" r="3"/><circle cx="607" cy="1307" r="3"/></g>
<g fill="#7B68EE"><circle cx="91.7" cy="916.7" r="3"/><circle cx="178.4" cy="1085" r="3"/><circle cx="275.3" cy="1135.7" r="3"/><circle cx="362.9" cy="1152.6" r="3"/><circle cx="388.1" cy="1153.6" r="3"/><circle cx="242" cy="1184.9" r="3"/><circle cx="280" cy="1193.1" r="3"/><circle cx="341.3" cy="1200.3" r="3"/><circle cx="344.3" cy="1203.3" r="3"/><circle cx="389.1" cy="1198.8" r="3"/><circle cx="295.9" cy="1217" r="3"/><circle cx="449" cy="1192" r="3"/><circle cx="406" cy="1213.7" r="3"/><circle cx="379.3" cy="1216.9" r="3"/><circle cx="385" cy="1218.3" r="3"/><circle cx="391.6" cy="1216.9" r="3"/><circle cx="424.6" cy="1224" r="3"/><circle cx="439.4" cy="1226.5" r="3"/><circle cx="390.4" cy="1237" r="3"/><circle cx="412" cy="1236" r="3"/><circle cx="355.7" cy="1243.1" r="3"/><circle cx="365.5" cy="1244.6" r="3"/><circle cx="615.5" cy="1166.6" r="3"/><circle cx="564" cy="1182.4" r="3"/><circle cx="612" cy="1185.9" r="3"/><circle cx="602.5" cy="1194.2" r="3"/><circle cx="629.9" cy="1206.3" r="3"/><circle cx="604.8" cy="1215.9" r="3"/><circle cx="634.9" cy="1218.4" r="3"/><circle cx="558" cy="1226.6" r="3"/><circle cx="588.5" cy="1225" r="3"/><circle cx="613.5" cy="1224.4" r="3"/><circle cx="575.3" cy="1231.5" r="3"/><circle cx="605.5" cy="1231.5" r="3"/><circle cx="588.4" cy="1237.5" r="3"/><circle cx="589.4" cy="1244.5" r="3"/><circle cx="613" cy="1244.5" r="3"/><circle cx="523.5" cy="1239.5" r="3"/><circle cx="696.8" cy="1193.2" r="3"/><circle cx="704.1" cy="1236" r="3"/><circle cx="343.6" cy="1257.9" r="3"/><circle cx="387.9" cy="1248.4" r="3"/><circle cx="403.5" cy="1260.2" r="3"/><circle cx="386.9" cy="1265.2" r="3"/><circle cx="390.4" cy="1270.7" r="3"/><circle cx="423.6" cy="1250.6" r="3"/><circle cx="427.4" cy="1257.7" r="3"/><circle cx="427.4" cy="1265" r="3"/><circle cx="442" cy="1249.4" r="3"/><circle cx="449" cy="1246.8" r="3"/><circle cx="372.3" cy="1253.1" r="3"/><circle cx="557" cy="1247" r="3"/><circle cx="569.5" cy="1253.1" r="3"/><circle cx="623.9" cy="1258.1" r="3"/><circle cx="608.5" cy="1248" r="3"/><circle cx="576" cy="1272" r="3"/><circle cx="424.3" cy="1250" r="3"/><circle cx="561.7" cy="1276.9" r="3"/><circle cx="587.9" cy="1275.7" r="3"/></g>
<path d="M66.4 1085.4H728.2" stroke="#000" stroke-width="1.25"/>
<path d="M66.4 1277H728.2" stroke="#000" stroke-width="1.25" stroke-dasharray="6.9 3.7"/>
<path d="M66.4 1327.3H728.2" stroke="#000" stroke-width="1.25" stroke-dasharray="1.45 2.5"/>
<path d="M66.4 1406.5H728.2" stroke="#000" stroke-width="1.25" stroke-dasharray="1.5 3.1 6.9 3.1"/>
<rect x="66.4" y="895.6" width="661.8" height="574.1" fill="none" stroke="#000" stroke-width="1.3"/>
<g font-size="12.6" text-anchor="middle" fill="#0A0A0A">
<text x="91.4" y="927.8">CCL21</text>
<text x="178.1" y="1096.1">AGTR1</text>
<text x="275" y="1146.8">PTGDS</text>
<text x="362.6" y="1163.7">PRKACB</text>
<text x="387.8" y="1164.7">MFNG</text>
<text x="241.7" y="1196">SCUBE2</text>
<text x="279.7" y="1204.2">CD19</text>
<text x="341" y="1211.4">SYTL4</text>
<text x="344" y="1214.4">GZMM</text>
<text x="388.8" y="1209.9">PYCARD</text>
<text x="295.6" y="1228.1">FGF10</text>
<text x="448.7" y="1203.1">EP300</text>
<text x="405.7" y="1224.8">S1PR1</text>
<text x="379" y="1228">KIAA0040</text>
<text x="384.7" y="1229.4">TCEAL1</text>
<text x="391.3" y="1228">IGF1R</text>
<text x="424.3" y="1235.1">MAP2K4</text>
<text x="439.1" y="1237.6">GRB2</text>
<text x="390.1" y="1248.1">MAP3K12</text>
<text x="411.7" y="1247.1">SIGIRR</text>
<text x="355.4" y="1254.2">MUC1</text>
<text x="365.2" y="1255.7">NGFR</text>
<text x="615.2" y="1177.7">RAC3</text>
<text x="563.7" y="1193.5">SKP2</text>
<text x="611.7" y="1197">TYMS</text>
<text x="602.2" y="1205.3">CCNA2</text>
<text x="629.6" y="1217.4">TTK</text>
<text x="604.5" y="1227">NDC80</text>
<text x="634.6" y="1229.5">CDKN2A</text>
<text x="557.7" y="1237.7">TFDP1</text>
<text x="588.2" y="1236.1">DEPDC1</text>
<text x="613.2" y="1235.5">FOXM1</text>
<text x="575" y="1242.6">MCM2</text>
<text x="605.2" y="1242.6">FAM83D</text>
<text x="588.1" y="1248.6">MYC</text>
<text x="589.1" y="1255.6">CDKN3</text>
<text x="612.7" y="1255.6">IL20RB</text>
<text x="523.2" y="1250.6">CDK4</text>
<text x="696.5" y="1204.3">PSAT1</text>
<text x="703.8" y="1247.1">MARCO</text>
</g>
</g>
<g id="panel-c">
<text x="869.3" y="793.9" font-size="32" fill="#000" font-weight="bold">c.</text>
<path d="M935.9 816.8H962.6" stroke="#000" stroke-width="1.2"/>
<text x="974.6" y="823.6" font-size="14.4" fill="#000" textLength="119.4" lengthAdjust="spacingAndGlyphs">adj. p-value &lt; 0.01</text>
<path d="M935.9 834.9H962.6" stroke="#000" stroke-width="1.2" stroke-dasharray="6.5 3.4"/>
<text x="974.6" y="841.2" font-size="14.4" fill="#000" textLength="119.4" lengthAdjust="spacingAndGlyphs">adj. p-value &lt; 0.05</text>
<path d="M935.9 851.7H962.6" stroke="#000" stroke-width="1.2" stroke-dasharray="1.5 2.7"/>
<text x="974.6" y="858" font-size="14.4" fill="#000" textLength="119.4" lengthAdjust="spacingAndGlyphs">adj. p-value &lt; 0.10</text>
<path d="M935.9 868.6H962.6" stroke="#000" stroke-width="1.2" stroke-dasharray="1.5 2.9 6.5 2.9"/>
<text x="974.6" y="874.8" font-size="14.4" fill="#000" textLength="119.4" lengthAdjust="spacingAndGlyphs">adj. p-value &lt; 0.50</text>
<text x="1284.5" y="841.2" font-size="21.2" fill="#333" font-weight="bold" text-anchor="middle" textLength="321.8" lengthAdjust="spacingAndGlyphs">Subgroup: differential expression</text>
<text x="1284.5" y="866.8" font-size="21.2" fill="#333" font-weight="bold" text-anchor="middle" textLength="248.4" lengthAdjust="spacingAndGlyphs">in PABC-PP vs non-PABC</text>
<circle cx="1525" cy="817" r="3" fill="#6A5ACD"/>
<text x="1537.8" y="823.6" font-size="14.4" fill="#000" textLength="43" lengthAdjust="spacingAndGlyphs">mRNA</text>
<text transform="translate(867.5 1181) rotate(-90)" font-size="14.4" text-anchor="middle" textLength="100" lengthAdjust="spacingAndGlyphs">-log10(p-value)</text>
<text x="1254.6" y="1536.5" font-size="14.4" fill="#000" text-anchor="middle" textLength="114.3" lengthAdjust="spacingAndGlyphs">log2(fold change)</text>
<text x="980.6" y="1501.9" font-size="14.4" fill="#000" text-anchor="middle">-3</text>
<text x="1099.7" y="1501.9" font-size="14.4" fill="#000" text-anchor="middle">-2</text>
<text x="1218.8" y="1501.9" font-size="14.4" fill="#000" text-anchor="middle">-1</text>
<text x="1337.9" y="1501.9" font-size="14.4" fill="#000" text-anchor="middle">0</text>
<text x="1457" y="1501.9" font-size="14.4" fill="#000" text-anchor="middle">1</text>
<text x="1576.1" y="1501.9" font-size="14.4" fill="#000" text-anchor="middle">2</text>
<text x="905.7" y="1454.7" font-size="14.4" fill="#000" text-anchor="end">0</text>
<text x="905.7" y="1377.9" font-size="14.4" fill="#000" text-anchor="end">1</text>
<text x="905.7" y="1301.1" font-size="14.4" fill="#000" text-anchor="end">2</text>
<text x="905.7" y="1224.3" font-size="14.4" fill="#000" text-anchor="end">3</text>
<text x="905.7" y="1147.5" font-size="14.4" fill="#000" text-anchor="end">4</text>
<text x="905.7" y="1070.7" font-size="14.4" fill="#000" text-anchor="end">5</text>
<text x="905.7" y="993.9" font-size="14.4" fill="#000" text-anchor="end">6</text>
<text x="905.7" y="917.1" font-size="14.4" fill="#000" text-anchor="end">7</text>
<path d="M981.9 1469.2v10M1101 1469.2v10M1220.1 1469.2v10M1339.2 1469.2v10M1458.3 1469.2v10M1577.4 1469.2v10M922.9 1449.5h-9M922.9 1372.7h-9M922.9 1295.9h-9M922.9 1219.1h-9M922.9 1142.3h-9M922.9 1065.5h-9M922.9 988.7h-9M922.9 911.9h-9" stroke="#000" stroke-width="1.2" fill="none"/>
<g fill="none" stroke="#838B8B" stroke-width="0.9">
<circle cx="1138.1" cy="1414.6" r="2.6"/><circle cx="1167" cy="1413.2" r="2.6"/><circle cx="1245.1" cy="1418.1" r="2.6"/><circle cx="1262.2" cy="1419.5" r="2.6"/><circle cx="1280.3" cy="1431" r="2.6"/><circle cx="1285" cy="1437" r="2.6"/><circle cx="1424.5" cy="1410.5" r="2.6"/><circle cx="1438" cy="1417" r="2.6"/><circle cx="1416" cy="1429" r="2.6"/><circle cx="1399.5" cy="1410" r="2.6"/><circle cx="1394" cy="1421" r="2.6"/><circle cx="1307.69" cy="1426.04" r="2.6"/><circle cx="1339.76" cy="1448.75" r="2.6"/><circle cx="1347.22" cy="1438.84" r="2.6"/><circle cx="1336.01" cy="1447.94" r="2.6"/><circle cx="1310.29" cy="1424.76" r="2.6"/><circle cx="1333.73" cy="1437.97" r="2.6"/><circle cx="1328.11" cy="1432.04" r="2.6"/><circle cx="1342.72" cy="1447.75" r="2.6"/><circle cx="1390.04" cy="1416.73" r="2.6"/><circle cx="1348.06" cy="1436.51" r="2.6"/><circle cx="1317.46" cy="1435.14" r="2.6"/><circle cx="1288.3" cy="1417.72" r="2.6"/><circle cx="1321.99" cy="1429.99" r="2.6"/><circle cx="1332.61" cy="1444.61" r="2.6"/><circle cx="1344.86" cy="1446.04" r="2.6"/><circle cx="1384.17" cy="1420.61" r="2.6"/><circle cx="1316.58" cy="1437.1" r="2.6"/><circle cx="1332.73" cy="1444.41" r="2.6"/><circle cx="1290.99" cy="1415.66" r="2.6"/><circle cx="1336.92" cy="1447.23" r="2.6"/><circle cx="1301.83" cy="1433.51" r="2.6"/><circle cx="1329.79" cy="1442.77" r="2.6"/><circle cx="1289.4" cy="1420.88" r="2.6"/><circle cx="1365.26" cy="1424.74" r="2.6"/><circle cx="1352.75" cy="1441.68" r="2.6"/><circle cx="1322.8" cy="1410.18" r="2.6"/><circle cx="1327.74" cy="1443.54" r="2.6"/><circle cx="1335.37" cy="1444.06" r="2.6"/><circle cx="1362.48" cy="1424.73" r="2.6"/><circle cx="1386.6" cy="1407.78" r="2.6"/><circle cx="1295.04" cy="1409.56" r="2.6"/><circle cx="1354.19" cy="1442.9" r="2.6"/><circle cx="1295.8" cy="1413.32" r="2.6"/><circle cx="1353.66" cy="1431.29" r="2.6"/><circle cx="1312.94" cy="1432.91" r="2.6"/><circle cx="1363.98" cy="1416.7" r="2.6"/><circle cx="1354.73" cy="1410.55" r="2.6"/><circle cx="1351.87" cy="1439.69" r="2.6"/><circle cx="1360.52" cy="1408.43" r="2.6"/><circle cx="1379.58" cy="1426.98" r="2.6"/><circle cx="1339.87" cy="1448.76" r="2.6"/><circle cx="1363.35" cy="1437.86" r="2.6"/><circle cx="1341.61" cy="1448.16" r="2.6"/><circle cx="1322.52" cy="1432.71" r="2.6"/><circle cx="1339.24" cy="1449.45" r="2.6"/><circle cx="1314.85" cy="1431.07" r="2.6"/><circle cx="1313.33" cy="1422.23" r="2.6"/><circle cx="1389.67" cy="1413.84" r="2.6"/><circle cx="1300.09" cy="1416.02" r="2.6"/><circle cx="1326.88" cy="1441.38" r="2.6"/><circle cx="1345.98" cy="1436.09" r="2.6"/><circle cx="1390.47" cy="1411.7" r="2.6"/><circle cx="1347.89" cy="1440.49" r="2.6"/><circle cx="1351.28" cy="1443.06" r="2.6"/><circle cx="1305.62" cy="1435.54" r="2.6"/><circle cx="1322.57" cy="1433.43" r="2.6"/><circle cx="1369.79" cy="1436.1" r="2.6"/><circle cx="1361" cy="1432.87" r="2.6"/><circle cx="1371.83" cy="1427.58" r="2.6"/><circle cx="1326.1" cy="1438.11" r="2.6"/><circle cx="1375.97" cy="1418.34" r="2.6"/><circle cx="1351.28" cy="1426.19" r="2.6"/><circle cx="1363.49" cy="1427.72" r="2.6"/><circle cx="1349.2" cy="1440.37" r="2.6"/><circle cx="1349.89" cy="1433.85" r="2.6"/><circle cx="1311.49" cy="1437.59" r="2.6"/><circle cx="1304.59" cy="1436.57" r="2.6"/><circle cx="1351.41" cy="1435.45" r="2.6"/><circle cx="1378.4" cy="1416.27" r="2.6"/><circle cx="1296.33" cy="1429.01" r="2.6"/><circle cx="1314.87" cy="1438.72" r="2.6"/><circle cx="1343.92" cy="1447.28" r="2.6"/><circle cx="1343.93" cy="1444.36" r="2.6"/><circle cx="1333.52" cy="1446.96" r="2.6"/><circle cx="1347.09" cy="1437.08" r="2.6"/><circle cx="1325.85" cy="1438.95" r="2.6"/><circle cx="1400.21" cy="1412.28" r="2.6"/><circle cx="1366.09" cy="1424.87" r="2.6"/><circle cx="1351.36" cy="1442.86" r="2.6"/><circle cx="1305.02" cy="1415.58" r="2.6"/><circle cx="1364.53" cy="1415.93" r="2.6"/><circle cx="1320.18" cy="1422" r="2.6"/><circle cx="1296.7" cy="1421.12" r="2.6"/><circle cx="1294.76" cy="1414.69" r="2.6"/><circle cx="1326.99" cy="1432.73" r="2.6"/><circle cx="1364.28" cy="1433.86" r="2.6"/><circle cx="1384.47" cy="1405.81" r="2.6"/><circle cx="1299.41" cy="1429.79" r="2.6"/><circle cx="1351.58" cy="1439.52" r="2.6"/><circle cx="1331.44" cy="1443.19" r="2.6"/><circle cx="1318.56" cy="1429.81" r="2.6"/><circle cx="1310.52" cy="1412.56" r="2.6"/><circle cx="1391.52" cy="1427.64" r="2.6"/><circle cx="1337.39" cy="1447.64" r="2.6"/><circle cx="1340.55" cy="1446.98" r="2.6"/><circle cx="1330.98" cy="1431.19" r="2.6"/><circle cx="1319.62" cy="1420.52" r="2.6"/><circle cx="1330.65" cy="1437.26" r="2.6"/><circle cx="1303.29" cy="1429.71" r="2.6"/><circle cx="1349.72" cy="1420.41" r="2.6"/><circle cx="1375.21" cy="1421.51" r="2.6"/><circle cx="1315.97" cy="1439.94" r="2.6"/><circle cx="1328.11" cy="1433.25" r="2.6"/><circle cx="1315.2" cy="1422.02" r="2.6"/><circle cx="1305.37" cy="1427.87" r="2.6"/><circle cx="1307.86" cy="1411.41" r="2.6"/><circle cx="1341.82" cy="1444.74" r="2.6"/><circle cx="1358.88" cy="1419.28" r="2.6"/><circle cx="1339.79" cy="1448.95" r="2.6"/><circle cx="1307.69" cy="1423.13" r="2.6"/><circle cx="1344.92" cy="1441.57" r="2.6"/><circle cx="1340.44" cy="1448.71" r="2.6"/><circle cx="1344.38" cy="1439.89" r="2.6"/><circle cx="1348.34" cy="1435.06" r="2.6"/><circle cx="1313.43" cy="1421.61" r="2.6"/><circle cx="1337.34" cy="1446.96" r="2.6"/><circle cx="1338.71" cy="1449.26" r="2.6"/><circle cx="1315.02" cy="1418.43" r="2.6"/><circle cx="1339.5" cy="1449.25" r="2.6"/><circle cx="1326.06" cy="1430.59" r="2.6"/><circle cx="1334.03" cy="1446.84" r="2.6"/><circle cx="1353.53" cy="1435.61" r="2.6"/><circle cx="1337.89" cy="1447.88" r="2.6"/><circle cx="1307.97" cy="1434.99" r="2.6"/><circle cx="1299.72" cy="1430.46" r="2.6"/><circle cx="1301.71" cy="1417.12" r="2.6"/><circle cx="1312.17" cy="1423.81" r="2.6"/><circle cx="1328.15" cy="1422.93" r="2.6"/><circle cx="1356.43" cy="1429.34" r="2.6"/><circle cx="1328.58" cy="1419.97" r="2.6"/><circle cx="1357.2" cy="1436.56" r="2.6"/><circle cx="1362.01" cy="1408.6" r="2.6"/><circle cx="1359.18" cy="1433.9" r="2.6"/><circle cx="1345.4" cy="1443.57" r="2.6"/><circle cx="1294.23" cy="1413.02" r="2.6"/><circle cx="1309.97" cy="1438.75" r="2.6"/><circle cx="1314.27" cy="1428.39" r="2.6"/><circle cx="1344.08" cy="1445.81" r="2.6"/><circle cx="1366.67" cy="1422.15" r="2.6"/><circle cx="1332.1" cy="1442.81" r="2.6"/><circle cx="1336.55" cy="1443.46" r="2.6"/><circle cx="1348.27" cy="1442.69" r="2.6"/><circle cx="1313.15" cy="1424.94" r="2.6"/><circle cx="1309.44" cy="1427.93" r="2.6"/><circle cx="1329.12" cy="1438.05" r="2.6"/><circle cx="1307.71" cy="1417.96" r="2.6"/><circle cx="1357.88" cy="1431.48" r="2.6"/><circle cx="1329.53" cy="1440.21" r="2.6"/><circle cx="1394.71" cy="1414.09" r="2.6"/><circle cx="1359.51" cy="1429.48" r="2.6"/><circle cx="1344.31" cy="1442.72" r="2.6"/><circle cx="1339.51" cy="1449.26" r="2.6"/><circle cx="1335.48" cy="1447.74" r="2.6"/><circle cx="1350.38" cy="1442.9" r="2.6"/><circle cx="1362.34" cy="1427.93" r="2.6"/><circle cx="1278.79" cy="1414.22" r="2.6"/><circle cx="1325.71" cy="1425.27" r="2.6"/><circle cx="1338.09" cy="1448.23" r="2.6"/><circle cx="1303.98" cy="1433.7" r="2.6"/><circle cx="1340.88" cy="1448.31" r="2.6"/><circle cx="1302.08" cy="1423.07" r="2.6"/><circle cx="1337.44" cy="1447.21" r="2.6"/><circle cx="1345.17" cy="1438.31" r="2.6"/><circle cx="1351.23" cy="1436.8" r="2.6"/><circle cx="1324.85" cy="1441.6" r="2.6"/><circle cx="1333.18" cy="1441.24" r="2.6"/><circle cx="1353.29" cy="1442.12" r="2.6"/><circle cx="1349.39" cy="1441.92" r="2.6"/><circle cx="1354.11" cy="1438.39" r="2.6"/><circle cx="1337.93" cy="1448.28" r="2.6"/><circle cx="1307.4" cy="1415.31" r="2.6"/><circle cx="1345.74" cy="1443.62" r="2.6"/><circle cx="1327.9" cy="1444.09" r="2.6"/><circle cx="1337.76" cy="1448.32" r="2.6"/><circle cx="1340.54" cy="1447.39" r="2.6"/><circle cx="1378.6" cy="1411.96" r="2.6"/><circle cx="1362.97" cy="1424.78" r="2.6"/><circle cx="1399.82" cy="1414.35" r="2.6"/><circle cx="1352.81" cy="1444.66" r="2.6"/><circle cx="1315.79" cy="1438.18" r="2.6"/><circle cx="1306.51" cy="1431.75" r="2.6"/><circle cx="1372.9" cy="1419.98" r="2.6"/><circle cx="1296.54" cy="1418.55" r="2.6"/><circle cx="1341.3" cy="1448.65" r="2.6"/><circle cx="1338.39" cy="1447.86" r="2.6"/><circle cx="1301.92" cy="1434.76" r="2.6"/><circle cx="1349.93" cy="1439.18" r="2.6"/><circle cx="1334.09" cy="1446.22" r="2.6"/><circle cx="1308.8" cy="1437.17" r="2.6"/><circle cx="1334.75" cy="1438.68" r="2.6"/><circle cx="1378.34" cy="1425.69" r="2.6"/><circle cx="1339.45" cy="1449.36" r="2.6"/><circle cx="1328.97" cy="1437.79" r="2.6"/><circle cx="1286.85" cy="1425.02" r="2.6"/><circle cx="1357.63" cy="1407.61" r="2.6"/><circle cx="1323.65" cy="1437.91" r="2.6"/><circle cx="1310.59" cy="1433.88" r="2.6"/><circle cx="1361.69" cy="1418.61" r="2.6"/><circle cx="1366.08" cy="1437.82" r="2.6"/><circle cx="1284.63" cy="1406.65" r="2.6"/><circle cx="1336.51" cy="1446.55" r="2.6"/><circle cx="1361.49" cy="1412.32" r="2.6"/><circle cx="1361.19" cy="1416.82" r="2.6"/><circle cx="1354.04" cy="1412.16" r="2.6"/><circle cx="1345.68" cy="1438.39" r="2.6"/><circle cx="1369.91" cy="1427.01" r="2.6"/><circle cx="1314.43" cy="1425.49" r="2.6"/><circle cx="1359.02" cy="1441.7" r="2.6"/><circle cx="1318.68" cy="1421.08" r="2.6"/><circle cx="1296.27" cy="1424.91" r="2.6"/><circle cx="1338.67" cy="1448.65" r="2.6"/><circle cx="1300.91" cy="1421.87" r="2.6"/><circle cx="1305.08" cy="1433.99" r="2.6"/><circle cx="1384.99" cy="1419.94" r="2.6"/><circle cx="1365.37" cy="1437.05" r="2.6"/><circle cx="1357.11" cy="1421.22" r="2.6"/><circle cx="1285.81" cy="1423.96" r="2.6"/><circle cx="1282.46" cy="1413.04" r="2.6"/><circle cx="1344.01" cy="1444.75" r="2.6"/><circle cx="1331.01" cy="1432.28" r="2.6"/><circle cx="1349.45" cy="1444.09" r="2.6"/><circle cx="1328.95" cy="1440.1" r="2.6"/><circle cx="1338.26" cy="1448.23" r="2.6"/><circle cx="1389.24" cy="1421.03" r="2.6"/><circle cx="1402.92" cy="1407.69" r="2.6"/><circle cx="1323.83" cy="1436.92" r="2.6"/><circle cx="1368.08" cy="1413.95" r="2.6"/><circle cx="1334.49" cy="1444.32" r="2.6"/><circle cx="1291.49" cy="1423.77" r="2.6"/><circle cx="1321.91" cy="1439.71" r="2.6"/><circle cx="1349.13" cy="1425.74" r="2.6"/><circle cx="1309.76" cy="1436.93" r="2.6"/><circle cx="1371.18" cy="1418.77" r="2.6"/><circle cx="1319.21" cy="1432.69" r="2.6"/><circle cx="1358.56" cy="1438.25" r="2.6"/><circle cx="1283.34" cy="1415.28" r="2.6"/><circle cx="1295.52" cy="1422.14" r="2.6"/><circle cx="1324.4" cy="1424.78" r="2.6"/><circle cx="1323.39" cy="1435.26" r="2.6"/><circle cx="1322.96" cy="1432.67" r="2.6"/><circle cx="1332.69" cy="1441.22" r="2.6"/><circle cx="1339.03" cy="1449.41" r="2.6"/><circle cx="1307.94" cy="1411.34" r="2.6"/><circle cx="1342.5" cy="1444.92" r="2.6"/><circle cx="1317.78" cy="1435.42" r="2.6"/><circle cx="1333.72" cy="1445.55" r="2.6"/><circle cx="1356.31" cy="1409.62" r="2.6"/><circle cx="1286.68" cy="1406.51" r="2.6"/><circle cx="1335.4" cy="1447.97" r="2.6"/><circle cx="1332.22" cy="1436.11" r="2.6"/><circle cx="1334.96" cy="1444.21" r="2.6"/><circle cx="1313.47" cy="1428.76" r="2.6"/><circle cx="1374.18" cy="1420.95" r="2.6"/><circle cx="1326.48" cy="1432.97" r="2.6"/><circle cx="1299.23" cy="1426.12" r="2.6"/><circle cx="1320.23" cy="1420.61" r="2.6"/><circle cx="1336.25" cy="1445.65" r="2.6"/><circle cx="1368.79" cy="1433.69" r="2.6"/><circle cx="1290.93" cy="1423.4" r="2.6"/><circle cx="1366.47" cy="1424.15" r="2.6"/><circle cx="1335.16" cy="1446.34" r="2.6"/><circle cx="1340.19" cy="1448.56" r="2.6"/><circle cx="1361.09" cy="1417.02" r="2.6"/><circle cx="1291.21" cy="1422.86" r="2.6"/><circle cx="1324.2" cy="1437.04" r="2.6"/><circle cx="1305.58" cy="1420.12" r="2.6"/><circle cx="1341.06" cy="1448.3" r="2.6"/><circle cx="1401.29" cy="1415.49" r="2.6"/><circle cx="1360.44" cy="1422.6" r="2.6"/><circle cx="1346.9" cy="1430.67" r="2.6"/><circle cx="1309.88" cy="1435.23" r="2.6"/><circle cx="1352.62" cy="1431.24" r="2.6"/><circle cx="1321.59" cy="1413.84" r="2.6"/><circle cx="1389.41" cy="1408.84" r="2.6"/><circle cx="1361.84" cy="1428.53" r="2.6"/><circle cx="1299.37" cy="1421.65" r="2.6"/><circle cx="1325.22" cy="1415.51" r="2.6"/><circle cx="1345.94" cy="1446.11" r="2.6"/><circle cx="1325.25" cy="1416.92" r="2.6"/><circle cx="1299.98" cy="1418.6" r="2.6"/><circle cx="1326.57" cy="1442.6" r="2.6"/><circle cx="1335.08" cy="1445.62" r="2.6"/><circle cx="1294.32" cy="1415.8" r="2.6"/><circle cx="1365.18" cy="1428.64" r="2.6"/><circle cx="1355.36" cy="1421.54" r="2.6"/><circle cx="1390.78" cy="1417.38" r="2.6"/><circle cx="1310.87" cy="1434.73" r="2.6"/><circle cx="1363.78" cy="1410.12" r="2.6"/><circle cx="1321.86" cy="1441.31" r="2.6"/><circle cx="1336.3" cy="1445.82" r="2.6"/><circle cx="1356.1" cy="1406.48" r="2.6"/><circle cx="1325.75" cy="1439.88" r="2.6"/><circle cx="1373.99" cy="1421.22" r="2.6"/><circle cx="1284.03" cy="1413.18" r="2.6"/><circle cx="1344.87" cy="1438.31" r="2.6"/><circle cx="1340.95" cy="1447.9" r="2.6"/><circle cx="1378.26" cy="1410.44" r="2.6"/><circle cx="1279.55" cy="1416.85" r="2.6"/><circle cx="1335.92" cy="1443.89" r="2.6"/><circle cx="1359.78" cy="1415.85" r="2.6"/><circle cx="1355.58" cy="1412.92" r="2.6"/><circle cx="1365.2" cy="1422.13" r="2.6"/><circle cx="1349.26" cy="1435.1" r="2.6"/><circle cx="1285.24" cy="1423.61" r="2.6"/><circle cx="1310.18" cy="1418.45" r="2.6"/><circle cx="1377.74" cy="1427.04" r="2.6"/><circle cx="1307.83" cy="1416.21" r="2.6"/><circle cx="1341.67" cy="1447.89" r="2.6"/><circle cx="1312.56" cy="1413.51" r="2.6"/><circle cx="1370.93" cy="1437.22" r="2.6"/><circle cx="1310.45" cy="1436.89" r="2.6"/><circle cx="1336.57" cy="1444.37" r="2.6"/><circle cx="1347.72" cy="1443.83" r="2.6"/><circle cx="1383.02" cy="1412.33" r="2.6"/><circle cx="1320.24" cy="1439.12" r="2.6"/><circle cx="1345.62" cy="1434.8" r="2.6"/><circle cx="1305.89" cy="1422.38" r="2.6"/><circle cx="1358.83" cy="1440.23" r="2.6"/><circle cx="1382.85" cy="1406.51" r="2.6"/><circle cx="1354.36" cy="1438.65" r="2.6"/><circle cx="1377.11" cy="1409.2" r="2.6"/><circle cx="1309.54" cy="1437.74" r="2.6"/><circle cx="1379.03" cy="1432.47" r="2.6"/><circle cx="1352.76" cy="1412.96" r="2.6"/><circle cx="1277.33" cy="1415.18" r="2.6"/><circle cx="1346.04" cy="1446.68" r="2.6"/><circle cx="1340.5" cy="1447.03" r="2.6"/><circle cx="1321.52" cy="1438.71" r="2.6"/><circle cx="1305.99" cy="1422.02" r="2.6"/><circle cx="1345.23" cy="1442.26" r="2.6"/><circle cx="1364.27" cy="1437.02" r="2.6"/><circle cx="1361" cy="1413.81" r="2.6"/><circle cx="1368.74" cy="1418.38" r="2.6"/><circle cx="1366.69" cy="1419.58" r="2.6"/><circle cx="1365.22" cy="1421.96" r="2.6"/><circle cx="1348.06" cy="1441.14" r="2.6"/><circle cx="1307.28" cy="1408.39" r="2.6"/><circle cx="1338.28" cy="1448.44" r="2.6"/><circle cx="1360.44" cy="1435.01" r="2.6"/><circle cx="1359.47" cy="1441.27" r="2.6"/><circle cx="1335.94" cy="1442.8" r="2.6"/><circle cx="1335.15" cy="1446.6" r="2.6"/><circle cx="1354.92" cy="1441.04" r="2.6"/><circle cx="1360.52" cy="1441.16" r="2.6"/><circle cx="1313.29" cy="1429.76" r="2.6"/><circle cx="1400.71" cy="1419.21" r="2.6"/><circle cx="1342.96" cy="1447.3" r="2.6"/><circle cx="1324.57" cy="1422.19" r="2.6"/><circle cx="1314.26" cy="1437.8" r="2.6"/><circle cx="1307.04" cy="1416.66" r="2.6"/><circle cx="1362.3" cy="1438.3" r="2.6"/><circle cx="1335.87" cy="1444.06" r="2.6"/><circle cx="1335.39" cy="1445.44" r="2.6"/><circle cx="1309.78" cy="1431.47" r="2.6"/><circle cx="1347.36" cy="1440.37" r="2.6"/><circle cx="1340.35" cy="1448.88" r="2.6"/><circle cx="1311.06" cy="1418.68" r="2.6"/><circle cx="1325.61" cy="1439.18" r="2.6"/><circle cx="1328.27" cy="1445.57" r="2.6"/><circle cx="1329.77" cy="1441.93" r="2.6"/><circle cx="1325.26" cy="1440.52" r="2.6"/><circle cx="1320.57" cy="1434.1" r="2.6"/><circle cx="1384.5" cy="1409.17" r="2.6"/><circle cx="1303.75" cy="1428.01" r="2.6"/><circle cx="1361.12" cy="1428.87" r="2.6"/><circle cx="1352.08" cy="1433.43" r="2.6"/><circle cx="1369.88" cy="1407.73" r="2.6"/><circle cx="1333.72" cy="1441.08" r="2.6"/><circle cx="1331.39" cy="1446.72" r="2.6"/><circle cx="1310.69" cy="1427.6" r="2.6"/><circle cx="1375.7" cy="1411.69" r="2.6"/><circle cx="1330.49" cy="1433.95" r="2.6"/><circle cx="1315.14" cy="1422.79" r="2.6"/><circle cx="1314.42" cy="1430.18" r="2.6"/><circle cx="1359.2" cy="1423.4" r="2.6"/><circle cx="1368.57" cy="1408.79" r="2.6"/><circle cx="1369.11" cy="1429.02" r="2.6"/><circle cx="1312.12" cy="1421.48" r="2.6"/><circle cx="1285.95" cy="1422.93" r="2.6"/><circle cx="1332.29" cy="1445.43" r="2.6"/><circle cx="1343.86" cy="1446.97" r="2.6"/><circle cx="1330.48" cy="1434.31" r="2.6"/><circle cx="1328.76" cy="1429.76" r="2.6"/><circle cx="1377.27" cy="1418.17" r="2.6"/><circle cx="1359.96" cy="1410.31" r="2.6"/><circle cx="1333.35" cy="1446.17" r="2.6"/><circle cx="1341.47" cy="1448.61" r="2.6"/><circle cx="1322.5" cy="1435.26" r="2.6"/><circle cx="1329.8" cy="1441.81" r="2.6"/><circle cx="1325.3" cy="1438.74" r="2.6"/><circle cx="1332.62" cy="1445.97" r="2.6"/><circle cx="1353.31" cy="1443.91" r="2.6"/><circle cx="1363.84" cy="1427.78" r="2.6"/><circle cx="1361.85" cy="1418.68" r="2.6"/><circle cx="1372.12" cy="1430.74" r="2.6"/><circle cx="1369.07" cy="1436.51" r="2.6"/><circle cx="1300.28" cy="1407.03" r="2.6"/><circle cx="1340.7" cy="1447.81" r="2.6"/><circle cx="1337.61" cy="1447.95" r="2.6"/><circle cx="1345.76" cy="1437.77" r="2.6"/>
</g>
<g fill="#483D8B"><circle cx="1268.13" cy="1338.46" r="3"/><circle cx="1285.63" cy="1394.48" r="3"/><circle cx="1277.62" cy="1311.21" r="3"/><circle cx="1270.07" cy="1346.8" r="3"/><circle cx="1245.9" cy="1325.86" r="3"/><circle cx="1274.56" cy="1310.31" r="3"/><circle cx="1265.42" cy="1357.29" r="3"/><circle cx="1275.79" cy="1313.08" r="3"/><circle cx="1268.23" cy="1340.96" r="3"/><circle cx="1267.84" cy="1394" r="3"/><circle cx="1279.35" cy="1400.72" r="3"/><circle cx="1287" cy="1390.38" r="3"/><circle cx="1291.63" cy="1376.93" r="3"/><circle cx="1306.36" cy="1353.07" r="3"/><circle cx="1270.28" cy="1395.19" r="3"/><circle cx="1249.8" cy="1392.79" r="3"/><circle cx="1302.35" cy="1386.5" r="3"/><circle cx="1304.03" cy="1389.4" r="3"/><circle cx="1272.42" cy="1400.62" r="3"/><circle cx="1296.5" cy="1353.44" r="3"/><circle cx="1296.72" cy="1336.99" r="3"/><circle cx="1268.67" cy="1361.13" r="3"/><circle cx="1266.04" cy="1304.41" r="3"/><circle cx="1294.44" cy="1389.6" r="3"/><circle cx="1261.74" cy="1371.35" r="3"/><circle cx="1298.81" cy="1373.09" r="3"/><circle cx="1286.5" cy="1402.15" r="3"/><circle cx="1282.72" cy="1364.52" r="3"/><circle cx="1282.55" cy="1312.82" r="3"/><circle cx="1239.58" cy="1312.35" r="3"/><circle cx="1296.32" cy="1403.91" r="3"/><circle cx="1272.29" cy="1385.62" r="3"/><circle cx="1260.84" cy="1305.62" r="3"/><circle cx="1256.06" cy="1353.79" r="3"/><circle cx="1306.48" cy="1358.06" r="3"/><circle cx="1254.98" cy="1378.5" r="3"/><circle cx="1279.96" cy="1374.82" r="3"/><circle cx="1258.04" cy="1401.25" r="3"/><circle cx="1302.05" cy="1393.34" r="3"/><circle cx="1312.52" cy="1388.74" r="3"/><circle cx="1274.29" cy="1389.8" r="3"/><circle cx="1295.79" cy="1384.99" r="3"/><circle cx="1257.74" cy="1371.47" r="3"/><circle cx="1281.97" cy="1385.59" r="3"/><circle cx="1259.58" cy="1333.67" r="3"/><circle cx="1274.3" cy="1392.18" r="3"/><circle cx="1276.34" cy="1345.98" r="3"/><circle cx="1286.12" cy="1357.21" r="3"/><circle cx="1261.37" cy="1403.73" r="3"/><circle cx="1260.17" cy="1321.19" r="3"/><circle cx="1273.95" cy="1397.01" r="3"/><circle cx="1301.51" cy="1379.22" r="3"/><circle cx="1293.22" cy="1360.42" r="3"/><circle cx="1273.33" cy="1404.01" r="3"/><circle cx="1316.74" cy="1393.03" r="3"/><circle cx="1283.47" cy="1323.1" r="3"/><circle cx="1313.83" cy="1390.95" r="3"/><circle cx="1319.51" cy="1402.45" r="3"/><circle cx="1274.39" cy="1346.5" r="3"/><circle cx="1310.83" cy="1367.03" r="3"/><circle cx="1280.5" cy="1351.71" r="3"/><circle cx="1239.17" cy="1380.54" r="3"/><circle cx="1268.66" cy="1303.33" r="3"/><circle cx="1261.7" cy="1404.28" r="3"/><circle cx="1277.21" cy="1346.74" r="3"/><circle cx="1306.94" cy="1396.21" r="3"/><circle cx="1271.71" cy="1352.38" r="3"/><circle cx="1289.36" cy="1396" r="3"/><circle cx="1280.68" cy="1396.09" r="3"/><circle cx="1272.73" cy="1353.66" r="3"/><circle cx="1300.27" cy="1374.78" r="3"/><circle cx="1262.99" cy="1303.57" r="3"/><circle cx="1289.52" cy="1358.4" r="3"/><circle cx="1268.94" cy="1324.66" r="3"/><circle cx="1289.59" cy="1363.46" r="3"/><circle cx="1318.04" cy="1400.85" r="3"/><circle cx="1285.24" cy="1356.31" r="3"/><circle cx="1288.52" cy="1397.75" r="3"/><circle cx="1312.56" cy="1384.48" r="3"/><circle cx="1288.81" cy="1402.8" r="3"/><circle cx="1302.66" cy="1342.51" r="3"/><circle cx="1306.06" cy="1361.12" r="3"/><circle cx="1288.5" cy="1365.76" r="3"/><circle cx="1302.94" cy="1369.53" r="3"/><circle cx="1256.45" cy="1320.09" r="3"/><circle cx="1294.72" cy="1337.1" r="3"/><circle cx="1279.67" cy="1336.48" r="3"/><circle cx="1288.1" cy="1308.87" r="3"/><circle cx="1286.57" cy="1328.04" r="3"/><circle cx="1226.77" cy="1350.86" r="3"/><circle cx="1301.69" cy="1400.42" r="3"/><circle cx="1282.3" cy="1370.44" r="3"/><circle cx="1268.28" cy="1337.46" r="3"/><circle cx="1314.65" cy="1393.26" r="3"/><circle cx="1276.01" cy="1352.58" r="3"/><circle cx="1269.7" cy="1382.75" r="3"/><circle cx="1280.26" cy="1337.83" r="3"/><circle cx="1305.64" cy="1386.33" r="3"/><circle cx="1289.63" cy="1345.83" r="3"/><circle cx="1267.46" cy="1385.68" r="3"/><circle cx="1240.09" cy="1366.03" r="3"/><circle cx="1303.93" cy="1369.98" r="3"/><circle cx="1299.45" cy="1386.51" r="3"/><circle cx="1281.59" cy="1315.48" r="3"/><circle cx="1288.84" cy="1328.17" r="3"/><circle cx="1281.04" cy="1388.82" r="3"/><circle cx="1265.9" cy="1385.11" r="3"/><circle cx="1279.23" cy="1395.3" r="3"/><circle cx="1293.54" cy="1322.83" r="3"/><circle cx="1291.11" cy="1398" r="3"/><circle cx="1256.68" cy="1310.85" r="3"/><circle cx="1263.33" cy="1359.26" r="3"/><circle cx="1285.78" cy="1385.44" r="3"/><circle cx="1276.54" cy="1397.54" r="3"/><circle cx="1259.57" cy="1324.38" r="3"/><circle cx="1252.49" cy="1374.08" r="3"/><circle cx="1268.72" cy="1375.36" r="3"/><circle cx="1296.69" cy="1339.64" r="3"/><circle cx="1277.82" cy="1383.92" r="3"/><circle cx="1280.58" cy="1385.9" r="3"/><circle cx="1247.02" cy="1329.1" r="3"/><circle cx="1275.47" cy="1355.14" r="3"/><circle cx="1285.75" cy="1404.27" r="3"/><circle cx="1308.01" cy="1361.01" r="3"/><circle cx="1257.55" cy="1365.98" r="3"/><circle cx="1234.84" cy="1377.25" r="3"/><circle cx="1254.43" cy="1331.7" r="3"/><circle cx="1249.16" cy="1316.57" r="3"/><circle cx="1261.58" cy="1372.14" r="3"/><circle cx="1291.43" cy="1403.5" r="3"/><circle cx="1307.77" cy="1359.91" r="3"/><circle cx="1289.92" cy="1352.32" r="3"/><circle cx="1301.93" cy="1363.24" r="3"/><circle cx="1291.96" cy="1337.69" r="3"/><circle cx="1247.88" cy="1307.44" r="3"/><circle cx="1316.46" cy="1390.89" r="3"/><circle cx="1301.54" cy="1393.08" r="3"/><circle cx="1233.26" cy="1393.04" r="3"/><circle cx="1250.56" cy="1347.33" r="3"/><circle cx="1280.91" cy="1327.04" r="3"/><circle cx="1305.16" cy="1399.25" r="3"/><circle cx="1252.94" cy="1388.47" r="3"/><circle cx="1268.23" cy="1370.11" r="3"/><circle cx="1284.5" cy="1384.9" r="3"/><circle cx="1233.07" cy="1317.9" r="3"/><circle cx="1271.19" cy="1352.97" r="3"/><circle cx="1279.44" cy="1332.18" r="3"/><circle cx="1274.1" cy="1381.81" r="3"/><circle cx="1297.97" cy="1376.2" r="3"/><circle cx="1286.79" cy="1337.39" r="3"/><circle cx="1261.1" cy="1308.13" r="3"/><circle cx="1305.13" cy="1398.74" r="3"/><circle cx="1292.07" cy="1378.73" r="3"/><circle cx="1286.49" cy="1312.2" r="3"/><circle cx="1251.54" cy="1302.36" r="3"/><circle cx="1288.79" cy="1355.95" r="3"/><circle cx="1269.23" cy="1370.41" r="3"/><circle cx="1302.9" cy="1398" r="3"/><circle cx="1294.42" cy="1386.57" r="3"/><circle cx="1241.16" cy="1315.32" r="3"/><circle cx="1305.49" cy="1402.31" r="3"/><circle cx="1268.05" cy="1361.63" r="3"/><circle cx="1291.28" cy="1320.51" r="3"/><circle cx="1263.63" cy="1361.29" r="3"/><circle cx="1223.39" cy="1330.55" r="3"/><circle cx="1290.17" cy="1348.78" r="3"/><circle cx="1285.93" cy="1328.52" r="3"/><circle cx="1321.53" cy="1402.02" r="3"/><circle cx="1293.73" cy="1378.55" r="3"/><circle cx="1276.12" cy="1373.51" r="3"/><circle cx="1259.32" cy="1307.03" r="3"/><circle cx="1230.37" cy="1378.22" r="3"/><circle cx="1250.41" cy="1325.17" r="3"/><circle cx="1237.72" cy="1399.68" r="3"/><circle cx="1272.09" cy="1334.72" r="3"/><circle cx="1276.82" cy="1346.02" r="3"/><circle cx="1286.89" cy="1336.68" r="3"/><circle cx="1278.87" cy="1397.67" r="3"/><circle cx="1312.95" cy="1403.52" r="3"/><circle cx="1286.65" cy="1364.21" r="3"/><circle cx="1255.74" cy="1326.81" r="3"/><circle cx="1281.52" cy="1312.01" r="3"/><circle cx="1313.95" cy="1397.78" r="3"/><circle cx="1296.81" cy="1402.17" r="3"/><circle cx="1308.28" cy="1364.26" r="3"/><circle cx="1366.37" cy="1381.24" r="3"/><circle cx="1420.38" cy="1395.88" r="3"/><circle cx="1426.93" cy="1355.05" r="3"/><circle cx="1368.58" cy="1373.9" r="3"/><circle cx="1405.46" cy="1378.12" r="3"/><circle cx="1375.9" cy="1346.14" r="3"/><circle cx="1404.71" cy="1342.22" r="3"/><circle cx="1373.14" cy="1348.29" r="3"/><circle cx="1416.15" cy="1397.27" r="3"/><circle cx="1380.42" cy="1332.6" r="3"/><circle cx="1374.28" cy="1365.47" r="3"/><circle cx="1403.57" cy="1359.78" r="3"/><circle cx="1383" cy="1368.49" r="3"/><circle cx="1368.99" cy="1377.31" r="3"/><circle cx="1452.07" cy="1375.88" r="3"/><circle cx="1427.08" cy="1353.33" r="3"/><circle cx="1394.09" cy="1395.73" r="3"/><circle cx="1414.83" cy="1393.36" r="3"/><circle cx="1417.66" cy="1320.19" r="3"/><circle cx="1399.51" cy="1396.43" r="3"/><circle cx="1399.98" cy="1378.14" r="3"/><circle cx="1404.72" cy="1385.75" r="3"/><circle cx="1421.7" cy="1358.55" r="3"/><circle cx="1378.68" cy="1398.38" r="3"/><circle cx="1420.28" cy="1378.54" r="3"/><circle cx="1406.35" cy="1314.91" r="3"/><circle cx="1384.59" cy="1384.09" r="3"/><circle cx="1424.63" cy="1328.03" r="3"/><circle cx="1366.77" cy="1401.84" r="3"/><circle cx="1412.85" cy="1367.56" r="3"/><circle cx="1373.56" cy="1366.39" r="3"/><circle cx="1424.23" cy="1335.59" r="3"/><circle cx="1387.81" cy="1352.26" r="3"/><circle cx="1386.85" cy="1403.79" r="3"/><circle cx="1393.84" cy="1339.17" r="3"/><circle cx="1437.58" cy="1401.04" r="3"/><circle cx="1402.38" cy="1386.23" r="3"/><circle cx="1416.04" cy="1379.69" r="3"/><circle cx="1417.64" cy="1374.24" r="3"/><circle cx="1407.82" cy="1319.49" r="3"/><circle cx="1393.73" cy="1395.27" r="3"/><circle cx="1371.16" cy="1392.44" r="3"/><circle cx="1386.83" cy="1398.66" r="3"/><circle cx="1409.78" cy="1355.83" r="3"/><circle cx="1417.61" cy="1351.77" r="3"/><circle cx="1409.86" cy="1345.85" r="3"/><circle cx="1406.22" cy="1366.62" r="3"/><circle cx="1388.98" cy="1341.75" r="3"/><circle cx="1392.79" cy="1402.55" r="3"/><circle cx="1378.65" cy="1347.93" r="3"/><circle cx="1404.58" cy="1306.64" r="3"/><circle cx="1408.39" cy="1381.57" r="3"/><circle cx="1421.51" cy="1313.14" r="3"/><circle cx="1429.07" cy="1301.12" r="3"/><circle cx="1419.74" cy="1338.91" r="3"/><circle cx="1381.89" cy="1343.33" r="3"/><circle cx="1437.32" cy="1338.45" r="3"/><circle cx="1407.65" cy="1321.19" r="3"/><circle cx="1381.15" cy="1386.96" r="3"/><circle cx="1425.01" cy="1306.56" r="3"/><circle cx="1408.89" cy="1372.94" r="3"/><circle cx="1393.33" cy="1312.28" r="3"/><circle cx="1409.47" cy="1370.54" r="3"/><circle cx="1431.33" cy="1397.27" r="3"/><circle cx="1407.92" cy="1367.58" r="3"/><circle cx="1406.03" cy="1315.11" r="3"/><circle cx="1414.05" cy="1402.45" r="3"/><circle cx="1429.41" cy="1332.07" r="3"/><circle cx="1438.92" cy="1306.71" r="3"/><circle cx="1397.47" cy="1340.7" r="3"/><circle cx="1399.16" cy="1342.08" r="3"/><circle cx="1398.51" cy="1383.95" r="3"/><circle cx="1453.45" cy="1331.46" r="3"/><circle cx="1408.86" cy="1334" r="3"/><circle cx="1396.66" cy="1381.47" r="3"/><circle cx="1402.59" cy="1365.16" r="3"/><circle cx="1407.04" cy="1327.04" r="3"/><circle cx="1417.25" cy="1351.3" r="3"/><circle cx="1398.41" cy="1371.65" r="3"/><circle cx="1382.54" cy="1341.57" r="3"/><circle cx="1409.73" cy="1380.62" r="3"/><circle cx="1424.18" cy="1356.32" r="3"/><circle cx="1375.26" cy="1397.6" r="3"/><circle cx="1376.25" cy="1371.11" r="3"/><circle cx="1373.09" cy="1397.15" r="3"/><circle cx="1388.5" cy="1389.35" r="3"/><circle cx="1398.76" cy="1388.65" r="3"/><circle cx="1430.34" cy="1310.08" r="3"/><circle cx="1395.66" cy="1353.42" r="3"/><circle cx="1397.92" cy="1394.23" r="3"/><circle cx="1386.51" cy="1358.68" r="3"/><circle cx="1397.53" cy="1344.46" r="3"/><circle cx="1390.63" cy="1384.03" r="3"/><circle cx="1394.41" cy="1304.17" r="3"/><circle cx="1359.85" cy="1391.98" r="3"/><circle cx="1448.48" cy="1385.11" r="3"/><circle cx="1422.12" cy="1355.65" r="3"/><circle cx="1377.49" cy="1345.2" r="3"/><circle cx="1393.76" cy="1337.74" r="3"/><circle cx="1381.74" cy="1326.7" r="3"/><circle cx="1410.85" cy="1375.62" r="3"/><circle cx="1462.98" cy="1305.64" r="3"/><circle cx="1399.86" cy="1310.94" r="3"/><circle cx="1428.63" cy="1307" r="3"/><circle cx="1383.68" cy="1332.28" r="3"/><circle cx="1408.8" cy="1394.12" r="3"/><circle cx="1427.67" cy="1344.47" r="3"/><circle cx="1394.55" cy="1304.38" r="3"/><circle cx="1396.06" cy="1319.29" r="3"/><circle cx="1412.67" cy="1355.62" r="3"/><circle cx="1387.75" cy="1390.44" r="3"/><circle cx="1371.6" cy="1384" r="3"/><circle cx="1420.09" cy="1379.72" r="3"/><circle cx="1426.65" cy="1344.33" r="3"/><circle cx="1417.57" cy="1382.45" r="3"/><circle cx="1380" cy="1384.32" r="3"/><circle cx="1385.2" cy="1384.2" r="3"/><circle cx="1377.76" cy="1402.22" r="3"/><circle cx="1364.86" cy="1398.47" r="3"/><circle cx="1377.5" cy="1375.46" r="3"/><circle cx="1370.32" cy="1397.03" r="3"/><circle cx="1379.02" cy="1330.83" r="3"/><circle cx="1413.32" cy="1377.94" r="3"/><circle cx="1384.49" cy="1398.71" r="3"/><circle cx="1424.33" cy="1348.7" r="3"/><circle cx="1431.23" cy="1331.68" r="3"/><circle cx="1459.25" cy="1327.23" r="3"/><circle cx="1419.52" cy="1302.6" r="3"/><circle cx="1390.3" cy="1343.95" r="3"/><circle cx="1365.05" cy="1390.48" r="3"/><circle cx="1428.93" cy="1392.72" r="3"/><circle cx="1390.41" cy="1351.85" r="3"/><circle cx="1405.03" cy="1367.56" r="3"/><circle cx="1385.19" cy="1334.07" r="3"/><circle cx="1381.78" cy="1364.27" r="3"/><circle cx="1402.85" cy="1334.94" r="3"/><circle cx="1392.31" cy="1354.38" r="3"/><circle cx="1390.12" cy="1388" r="3"/><circle cx="1401.97" cy="1336.7" r="3"/><circle cx="1403.16" cy="1349.48" r="3"/><circle cx="1382.69" cy="1328.51" r="3"/><circle cx="1383.94" cy="1327.68" r="3"/><circle cx="1404.25" cy="1399.59" r="3"/><circle cx="1394.7" cy="1393.14" r="3"/><circle cx="1386.71" cy="1361.71" r="3"/><circle cx="1386.79" cy="1344.68" r="3"/><circle cx="1385.33" cy="1348.46" r="3"/><circle cx="1423.89" cy="1364.78" r="3"/><circle cx="1407.65" cy="1344.89" r="3"/><circle cx="1372.43" cy="1398.92" r="3"/><circle cx="1364.37" cy="1385.85" r="3"/><circle cx="1380.32" cy="1379.91" r="3"/><circle cx="1399.09" cy="1384.43" r="3"/><circle cx="1383.06" cy="1350.71" r="3"/><circle cx="1379.7" cy="1328.48" r="3"/><circle cx="1404.61" cy="1318.46" r="3"/><circle cx="1405.33" cy="1403.68" r="3"/><circle cx="1402.51" cy="1358.03" r="3"/><circle cx="1401.11" cy="1404.41" r="3"/><circle cx="1410.93" cy="1359.44" r="3"/><circle cx="1422.77" cy="1338.88" r="3"/><circle cx="1377.24" cy="1362.33" r="3"/><circle cx="1381.91" cy="1358.5" r="3"/><circle cx="1402.41" cy="1397.1" r="3"/><circle cx="1408.26" cy="1330.05" r="3"/><circle cx="986.8" cy="1307" r="3"/><circle cx="948.1" cy="1327.6" r="3"/><circle cx="1001.1" cy="1331.9" r="3"/><circle cx="1037.3" cy="1331.9" r="3"/><circle cx="1084.1" cy="1318.9" r="3"/><circle cx="1085.4" cy="1348.6" r="3"/><circle cx="1109.5" cy="1351.4" r="3"/><circle cx="1124.9" cy="1345.4" r="3"/><circle cx="1146.8" cy="1351.4" r="3"/><circle cx="1163.5" cy="1352.7" r="3"/><circle cx="1100" cy="1378.9" r="3"/><circle cx="1177.8" cy="1371.6" r="3"/><circle cx="1192.2" cy="1388.6" r="3"/><circle cx="1202.2" cy="1404" r="3"/><circle cx="1204.9" cy="1350" r="3"/><circle cx="1207.6" cy="1352.7" r="3"/><circle cx="1208.1" cy="1355.4" r="3"/><circle cx="1216.2" cy="1343.2" r="3"/><circle cx="1210.3" cy="1325.7" r="3"/><circle cx="1213" cy="1325.7" r="3"/><circle cx="1219.7" cy="1322.2" r="3"/><circle cx="1221" cy="1313" r="3"/><circle cx="1223.8" cy="1313" r="3"/><circle cx="1233.2" cy="1334.6" r="3"/><circle cx="1227.3" cy="1380.3" r="3"/><circle cx="1237.8" cy="1358.9" r="3"/><circle cx="1240.5" cy="1367" r="3"/><circle cx="1239.2" cy="1301.4" r="3"/><circle cx="1563.8" cy="1331.1" r="3"/><circle cx="1559.7" cy="1345.4" r="3"/><circle cx="1545.1" cy="1368.1" r="3"/><circle cx="1309.2" cy="1308.1" r="3"/><circle cx="1361.9" cy="1324.9" r="3"/></g>
<g fill="#6A5ACD"><circle cx="1261.6" cy="1280.43" r="3"/><circle cx="1243.77" cy="1256.49" r="3"/><circle cx="1284.96" cy="1265.27" r="3"/><circle cx="1258.33" cy="1269.65" r="3"/><circle cx="1292.26" cy="1287.61" r="3"/><circle cx="1247.21" cy="1274.95" r="3"/><circle cx="1285.17" cy="1282.98" r="3"/><circle cx="1269.02" cy="1281.03" r="3"/><circle cx="1279.32" cy="1284.89" r="3"/><circle cx="1291.88" cy="1273.55" r="3"/><circle cx="1413.71" cy="1279.98" r="3"/><circle cx="1400.39" cy="1291.3" r="3"/><circle cx="1386.44" cy="1297.02" r="3"/><circle cx="1392.95" cy="1298" r="3"/><circle cx="1445.33" cy="1250.68" r="3"/><circle cx="1397.12" cy="1288.86" r="3"/><circle cx="1405.6" cy="1267.27" r="3"/><circle cx="1427.76" cy="1296.62" r="3"/><circle cx="1204.9" cy="1251.6" r="3"/><circle cx="1181.8" cy="1256.2" r="3"/><circle cx="1166" cy="1259.2" r="3"/><circle cx="1254.7" cy="1251.6" r="3"/><circle cx="1448.9" cy="1246.7" r="3"/><circle cx="1450.6" cy="1253.5" r="3"/><circle cx="1513.7" cy="1247.9" r="3"/><circle cx="1536.9" cy="1254.1" r="3"/><circle cx="1265.3" cy="1259.7" r="3"/><circle cx="1210.4" cy="1267.2" r="3"/><circle cx="1233.1" cy="1265.7" r="3"/><circle cx="1240.6" cy="1269.7" r="3"/><circle cx="1257.2" cy="1271.7" r="3"/><circle cx="1276.6" cy="1270.7" r="3"/><circle cx="1179.3" cy="1278.3" r="3"/><circle cx="1187.3" cy="1279.8" r="3"/><circle cx="1245.6" cy="1277.8" r="3"/><circle cx="1274.3" cy="1278.3" r="3"/><circle cx="1217.5" cy="1279.8" r="3"/><circle cx="1187.8" cy="1283.8" r="3"/><circle cx="1190" cy="1291.1" r="3"/><circle cx="1218.9" cy="1294.6" r="3"/><circle cx="1225.9" cy="1294.6" r="3"/><circle cx="1275.4" cy="1286.5" r="3"/><circle cx="1280.8" cy="1285.1" r="3"/><circle cx="1287.6" cy="1283.2" r="3"/><circle cx="1273" cy="1288" r="3"/><circle cx="1474.7" cy="1258.6" r="3"/><circle cx="1498.4" cy="1260.3" r="3"/><circle cx="1450.9" cy="1267.1" r="3"/><circle cx="1409" cy="1271.9" r="3"/><circle cx="1422" cy="1275.8" r="3"/><circle cx="1432" cy="1281.8" r="3"/><circle cx="1446.4" cy="1283.5" r="3"/><circle cx="1445.3" cy="1288.6" r="3"/><circle cx="1464.5" cy="1281.8" r="3"/><circle cx="1472" cy="1283.9" r="3"/><circle cx="1541.8" cy="1271.9" r="3"/><circle cx="1551.3" cy="1275.8" r="3"/><circle cx="1538" cy="1283.9" r="3"/><circle cx="1512.8" cy="1291.2" r="3"/><circle cx="1444.1" cy="1298.8" r="3"/><circle cx="1453.7" cy="1296.5" r="3"/><circle cx="1396.5" cy="1298.6" r="3"/></g>
<g fill="#7B68EE"><circle cx="1236.9" cy="913.3" r="3"/><circle cx="987.9" cy="978" r="3"/><circle cx="968.9" cy="1042.2" r="3"/><circle cx="1272.8" cy="1072.6" r="3"/><circle cx="1113" cy="1102.7" r="3"/><circle cx="1245.4" cy="1118.4" r="3"/><circle cx="1250" cy="1133.8" r="3"/><circle cx="1187.8" cy="1153.6" r="3"/><circle cx="1195.2" cy="1157.3" r="3"/><circle cx="1177" cy="1175.7" r="3"/><circle cx="1217.8" cy="1179.2" r="3"/><circle cx="1190.8" cy="1188.8" r="3"/><circle cx="1175.8" cy="1206.4" r="3"/><circle cx="1199.7" cy="1205.4" r="3"/><circle cx="1201.9" cy="1210.4" r="3"/><circle cx="1213" cy="1211.4" r="3"/><circle cx="1208.4" cy="1217.5" r="3"/><circle cx="1157.7" cy="1228.5" r="3"/><circle cx="1187.8" cy="1233" r="3"/><circle cx="1240.6" cy="1223.5" r="3"/><circle cx="1263.2" cy="1223.5" r="3"/><circle cx="1235.6" cy="1237" r="3"/><circle cx="1240.6" cy="1239.1" r="3"/><circle cx="1256.2" cy="1239.6" r="3"/><circle cx="1247.2" cy="1242.6" r="3"/><circle cx="1204.4" cy="1244.6" r="3"/><circle cx="1292.4" cy="1202.2" r="3"/><circle cx="1460.8" cy="1202.1" r="3"/><circle cx="1467.3" cy="1204.3" r="3"/><circle cx="1428.3" cy="1228.6" r="3"/><circle cx="1474.3" cy="1227.3" r="3"/><circle cx="1492.5" cy="1242.8" r="3"/></g>
<path d="M922.9 1133.8H1587.6" stroke="#000" stroke-width="1.25"/>
<path d="M922.9 1245.7H1587.6" stroke="#000" stroke-width="1.25" stroke-dasharray="6.9 3.7"/>
<path d="M922.9 1299.5H1587.6" stroke="#000" stroke-width="1.25" stroke-dasharray="1.45 2.5"/>
<path d="M922.9 1405.4H1587.6" stroke="#000" stroke-width="1.25" stroke-dasharray="1.5 3.1 6.9 3.1"/>
<rect x="922.9" y="892.4" width="664.7" height="576.8" fill="none" stroke="#000" stroke-width="1.3"/>
<g font-size="12.6" text-anchor="middle" fill="#0A0A0A">
<text x="1236.6" y="924.7">SMAD5</text>
<text x="987.6" y="989.4">FGF10</text>
<text x="968.6" y="1053.6">CCL21</text>
<text x="1272.5" y="1084">SP1</text>
<text x="1112.7" y="1114.1">HOXA9</text>
<text x="1245.1" y="1129.8">MAP2K4</text>
<text x="1249.7" y="1145.2">IL4R</text>
<text x="1187.5" y="1165">IGF1</text>
<text x="1194.9" y="1168.7">TCEAL1</text>
<text x="1176.7" y="1187.1">ACVR1C</text>
<text x="1217.5" y="1190.6">CXCL12</text>
<text x="1190.5" y="1200.2">TNN</text>
<text x="1175.5" y="1217.8">ABCA8</text>
<text x="1199.4" y="1216.8">TGFB3</text>
<text x="1201.6" y="1221.8">FGF18</text>
<text x="1212.7" y="1222.8">LFNG</text>
<text x="1208.1" y="1228.9">LPL</text>
<text x="1157.4" y="1239.9">IL20RA</text>
<text x="1187.5" y="1244.4">SYTL4</text>
<text x="1240.3" y="1234.9">JAM2</text>
<text x="1262.9" y="1234.9">PTEN</text>
<text x="1235.3" y="1248.4">AXIN2</text>
<text x="1240.3" y="1250.5">CACNA2D1</text>
<text x="1255.9" y="1251">ZEB1</text>
<text x="1246.9" y="1254">SHMT2</text>
<text x="1204.1" y="1256">MEOX2</text>
<text x="1204.6" y="1263">NGFR</text>
<text x="1181.5" y="1267.6">RELN</text>
<text x="1165.7" y="1270.6">CDH2</text>
<text x="1254.4" y="1263">NSD1</text>
<text x="1292.1" y="1213.6">TYK2</text>
<text x="1460.5" y="1213.5">DEPDC1</text>
<text x="1467" y="1215.7">CDKN3</text>
<text x="1428" y="1240">CKS1B</text>
<text x="1474" y="1238.7">FAM83D</text>
<text x="1492.2" y="1254.2">CCNE2</text>
<text x="1448.6" y="1258.1">CCNA2</text>
<text x="1450.3" y="1264.9">DLGAP5</text>
<text x="1513.4" y="1259.3">IL1R2</text>
<text x="1536.6" y="1265.5">PSAT1</text>
</g>
</g>
<g id="panel-d">
<text x="59" y="1650.5" font-size="32" fill="#000" font-weight="bold">d.</text>
<text x="390.4" y="1675.4" font-size="22.4" fill="#404040" font-weight="bold" text-anchor="middle" textLength="305.3" lengthAdjust="spacingAndGlyphs">DEGs in PABC-GS vs non-PABC</text>
<path d="M92.69 1719.4V1717.1H106.06V1719.4M119.44 1719.4V1717.1H132.81V1719.4M172.94 1719.4V1717.1H186.32V1719.4M159.57 1719.4V1714.6H179.63V1717.1M146.19 1719.4V1714.1H169.6V1714.6M126.13 1717.1V1710.6H157.89V1714.1M99.38 1717.1V1708H142.01V1710.6M226.44 1719.4V1717.1H239.82V1719.4M213.07 1719.4V1714.6H233.13V1717.1M199.69 1719.4V1714.1H223.1V1714.6M279.95 1719.4V1717.1H293.32V1719.4M266.57 1719.4V1714.6H286.63V1717.1M253.2 1719.4V1714.1H276.6V1714.6M306.7 1719.4V1717.1H320.07V1719.4M360.2 1719.4V1717.1H373.58V1719.4M346.82 1719.4V1714.6H366.89V1717.1M333.45 1719.4V1714.1H356.86V1714.6M313.39 1717.1V1710.6H345.15V1714.1M264.9 1714.1V1708H329.27V1710.6M211.4 1714.1V1705.3H297.08V1708M400.33 1719.4V1717.1H413.7V1719.4M386.95 1719.4V1714.6H407.01V1717.1M440.45 1719.4V1717.1H453.83V1719.4M427.08 1719.4V1714.6H447.14V1717.1M396.98 1714.6V1713.2H437.11V1714.6M467.2 1719.4V1717.1H480.58V1719.4M507.33 1719.4V1717.1H520.71V1719.4M493.96 1719.4V1714.6H514.02V1717.1M560.83 1719.4V1717.1H574.21V1719.4M547.46 1719.4V1714.6H567.52V1717.1M534.08 1719.4V1714.1H557.49V1714.6M614.34 1719.4V1717.1H627.71V1719.4M600.96 1719.4V1714.6H621.02V1717.1M587.59 1719.4V1714.1H610.99V1714.6M545.79 1714.1V1711.1H599.29V1714.1M503.99 1714.6V1708.8H572.54V1711.1M473.89 1717.1V1705.7H538.26V1708.8M417.05 1713.2V1702.7H506.08V1705.7M254.24 1705.3V1700.4H461.56V1702.7M120.69 1708V1697.8H357.9V1700.4" fill="none" stroke="#C0C0C0" stroke-width="1.45"/>
<path fill="#BC9F8E" d="M85.8 1720.2h80.42v10.5h-80.42zM179.28 1720.2h13.65v10.5h-13.65zM205.98 1720.2h40.36v10.5h-40.36zM286.1 1720.2h13.65v10.5h-13.65zM339.52 1720.2h13.65v10.5h-13.65zM593.24 1720.2h40.36v10.5h-40.36z"/>
<path fill="#FA8072" d="M165.92 1720.2h13.65v10.5h-13.65zM192.63 1720.2h13.65v10.5h-13.65zM246.04 1720.2h40.36v10.5h-40.36zM299.46 1720.2h40.36v10.5h-40.36zM352.87 1720.2h240.67v10.5h-240.67z"/>
<g id="heat-d">
<clipPath id="clip-du"><rect x="86" y="1732.9" width="548.4" height="317.4"/></clipPath>
<g clip-path="url(#clip-du)"><g filter="url(#soft)">
<path fill="#E8F0F7" d="M206.38 1729.9H220.06V1745.41H206.38zM393.64 1729.9H407.31V1745.41H393.64zM420.39 1729.9H434.07V1745.41H420.39zM460.52 1729.9H474.19V1745.41H460.52zM193 1745.11H220.06V1757.62H193zM313.39 1745.11H327.06V1757.62H313.39zM420.39 1745.11H434.07V1757.62H420.39zM447.14 1757.32H460.82V1769.82H447.14zM393.64 1769.52H407.31V1782.03H393.64zM447.14 1769.52H460.82V1782.03H447.14zM326.76 1781.73H340.44V1794.24H326.76zM353.51 1781.73H367.19V1794.24H353.51zM393.64 1781.73H407.31V1794.24H393.64zM447.14 1781.73H460.82V1794.24H447.14zM514.02 1781.73H527.7V1794.24H514.02zM206.38 1793.94H220.06V1806.45H206.38zM313.39 1793.94H340.44V1806.45H313.39zM420.39 1793.94H434.07V1806.45H420.39zM447.14 1793.94H460.82V1806.45H447.14zM353.51 1806.15H380.56V1818.65H353.51zM407.01 1806.15H420.69V1818.65H407.01zM447.14 1806.15H460.82V1818.65H447.14zM580.9 1806.15H594.57V1818.65H580.9zM206.38 1818.35H220.06V1830.86H206.38zM393.64 1818.35H407.31V1830.86H393.64zM447.14 1818.35H460.82V1830.86H447.14zM206.38 1830.56H220.06V1843.07H206.38zM313.39 1830.56H327.06V1843.07H313.39zM393.64 1830.56H407.31V1843.07H393.64zM420.39 1830.56H434.07V1843.07H420.39zM473.89 1830.56H487.57V1843.07H473.89zM447.14 1842.77H460.82V1855.28H447.14zM366.89 1854.98H380.56V1867.48H366.89zM447.14 1854.98H474.19V1867.48H447.14zM233.13 1867.18H246.81V1879.69H233.13zM300.01 1867.18H327.06V1879.69H300.01zM353.51 1867.18H393.94V1879.69H353.51zM407.01 1867.18H434.07V1879.69H407.01zM554.15 1867.18H567.82V1879.69H554.15zM206.38 1879.39H220.06V1891.9H206.38zM259.88 1879.39H273.56V1891.9H259.88zM340.14 1879.39H353.81V1891.9H340.14zM380.26 1879.39H407.31V1891.9H380.26zM460.52 1879.39H474.19V1891.9H460.52zM487.27 1879.39H541.07V1891.9H487.27zM580.9 1879.39H594.57V1891.9H580.9zM206.38 1891.6H220.06V1904.11H206.38zM380.26 1891.6H474.19V1904.11H380.26zM487.27 1891.6H500.94V1904.11H487.27zM514.02 1891.6H527.7V1904.11H514.02zM540.77 1891.6H567.82V1904.11H540.77zM580.9 1891.6H637.7V1904.11H580.9zM514.02 1903.81H527.7V1916.32H514.02zM313.39 1916.02H327.06V1928.52H313.39zM433.77 1916.02H474.19V1928.52H433.77zM580.9 1916.02H594.57V1928.52H580.9zM219.76 1928.22H233.43V1940.73H219.76zM313.39 1928.22H327.06V1940.73H313.39zM353.51 1928.22H367.19V1940.73H353.51zM447.14 1928.22H460.82V1940.73H447.14zM219.76 1940.43H233.43V1952.94H219.76zM353.51 1940.43H367.19V1952.94H353.51zM420.39 1940.43H434.07V1952.94H420.39zM447.14 1940.43H460.82V1952.94H447.14zM353.51 1952.64H367.19V1965.15H353.51zM420.39 1952.64H434.07V1965.15H420.39zM540.77 1952.64H554.45V1965.15H540.77zM580.9 1952.64H594.57V1965.15H580.9zM166.25 1964.85H179.93V1977.35H166.25zM233.13 1964.85H246.81V1977.35H233.13zM353.51 1964.85H367.19V1977.35H353.51zM473.89 1964.85H487.57V1977.35H473.89zM567.52 1964.85H581.2V1977.35H567.52zM126.13 1977.05H153.18V1989.56H126.13zM219.76 1977.05H233.43V1989.56H219.76zM259.88 1977.05H273.56V1989.56H259.88zM393.64 1977.05H407.31V1989.56H393.64zM473.89 1977.05H514.32V1989.56H473.89zM83 1989.26H99.68V2001.77H83zM233.13 1989.26H260.18V2001.77H233.13zM273.26 1989.26H286.93V2001.77H273.26zM340.14 1989.26H367.19V2001.77H340.14zM460.52 1989.26H474.19V2001.77H460.52zM540.77 1989.26H554.45V2001.77H540.77zM594.27 1989.26H637.7V2001.77H594.27zM193 2001.47H220.06V2013.98H193zM286.63 2001.47H367.19V2013.98H286.63zM393.64 2001.47H434.07V2013.98H393.64zM473.89 2001.47H541.07V2013.98H473.89zM594.27 2001.47H607.95V2013.98H594.27zM621.02 2001.47H637.7V2013.98H621.02zM193 2013.68H206.68V2026.18H193zM233.13 2013.68H246.81V2026.18H233.13zM300.01 2013.68H313.69V2026.18H300.01zM353.51 2013.68H367.19V2026.18H353.51zM433.77 2013.68H447.44V2026.18H433.77zM514.02 2013.68H527.7V2026.18H514.02zM540.77 2013.68H567.82V2026.18H540.77zM580.9 2013.68H594.57V2026.18H580.9zM621.02 2013.68H637.7V2026.18H621.02zM206.38 2025.88H220.06V2038.39H206.38zM233.13 2025.88H246.81V2038.39H233.13zM300.01 2025.88H313.69V2038.39H300.01zM447.14 2025.88H460.82V2038.39H447.14zM487.27 2025.88H514.32V2038.39H487.27zM527.4 2025.88H567.82V2038.39H527.4zM193 2038.09H206.68V2053.6H193zM233.13 2038.09H246.81V2053.6H233.13zM313.39 2038.09H327.06V2053.6H313.39zM380.26 2038.09H393.94V2053.6H380.26zM447.14 2038.09H474.19V2053.6H447.14zM514.02 2038.09H527.7V2053.6H514.02zM554.15 2038.09H567.82V2053.6H554.15z"/>
<path fill="#D1E1EE" d="M407.01 1729.9H420.69V1745.41H407.01zM580.9 1729.9H594.57V1745.41H580.9zM407.01 1745.11H420.69V1757.62H407.01zM460.52 1745.11H487.57V1757.62H460.52zM540.77 1745.11H567.82V1757.62H540.77zM580.9 1745.11H594.57V1757.62H580.9zM380.26 1757.32H393.94V1769.82H380.26zM407.01 1757.32H420.69V1769.82H407.01zM540.77 1757.32H554.45V1769.82H540.77zM580.9 1757.32H594.57V1769.82H580.9zM514.02 1769.52H527.7V1782.03H514.02zM540.77 1769.52H554.45V1782.03H540.77zM567.52 1769.52H621.32V1782.03H567.52zM286.63 1781.73H300.31V1794.24H286.63zM380.26 1781.73H393.94V1794.24H380.26zM407.01 1781.73H420.69V1794.24H407.01zM540.77 1781.73H554.45V1794.24H540.77zM580.9 1781.73H621.32V1794.24H580.9zM286.63 1793.94H300.31V1806.45H286.63zM353.51 1793.94H367.19V1806.45H353.51zM487.27 1793.94H500.94V1806.45H487.27zM554.15 1793.94H567.82V1806.45H554.15zM580.9 1793.94H607.95V1806.45H580.9zM420.39 1806.15H434.07V1818.65H420.39zM473.89 1806.15H487.57V1818.65H473.89zM554.15 1806.15H567.82V1818.65H554.15zM540.77 1818.35H567.82V1830.86H540.77zM580.9 1818.35H594.57V1830.86H580.9zM353.51 1830.56H367.19V1843.07H353.51zM407.01 1830.56H420.69V1843.07H407.01zM447.14 1830.56H460.82V1843.07H447.14zM487.27 1830.56H514.32V1843.07H487.27zM540.77 1830.56H567.82V1843.07H540.77zM607.65 1830.56H621.32V1843.07H607.65zM313.39 1842.77H340.44V1855.28H313.39zM420.39 1842.77H434.07V1855.28H420.39zM567.52 1842.77H581.2V1855.28H567.52zM193 1854.98H206.68V1867.48H193zM353.51 1854.98H367.19V1867.48H353.51zM500.64 1854.98H607.95V1867.48H500.64zM621.02 1854.98H637.7V1867.48H621.02zM473.89 1867.18H500.94V1879.69H473.89zM527.4 1867.18H554.45V1879.69H527.4zM580.9 1867.18H607.95V1879.69H580.9zM286.63 1879.39H300.31V1891.9H286.63zM353.51 1879.39H367.19V1891.9H353.51zM420.39 1879.39H434.07V1891.9H420.39zM540.77 1879.39H567.82V1891.9H540.77zM594.27 1879.39H607.95V1891.9H594.27zM286.63 1891.6H300.31V1904.11H286.63zM313.39 1891.6H327.06V1904.11H313.39zM500.64 1891.6H514.32V1904.11H500.64zM527.4 1891.6H541.07V1904.11H527.4zM567.52 1891.6H581.2V1904.11H567.52zM206.38 1903.81H220.06V1916.32H206.38zM393.64 1903.81H420.69V1916.32H393.64zM447.14 1903.81H460.82V1916.32H447.14zM487.27 1903.81H514.32V1916.32H487.27zM554.15 1903.81H567.82V1916.32H554.15zM594.27 1903.81H607.95V1916.32H594.27zM286.63 1916.02H300.31V1928.52H286.63zM407.01 1916.02H434.07V1928.52H407.01zM473.89 1916.02H500.94V1928.52H473.89zM594.27 1916.02H621.32V1928.52H594.27zM393.64 1928.22H447.44V1940.73H393.64zM473.89 1928.22H487.57V1940.73H473.89zM540.77 1928.22H567.82V1940.73H540.77zM580.9 1928.22H594.57V1940.73H580.9zM607.65 1928.22H637.7V1940.73H607.65zM313.39 1940.43H327.06V1952.94H313.39zM380.26 1940.43H407.31V1952.94H380.26zM554.15 1940.43H567.82V1952.94H554.15zM580.9 1940.43H594.57V1952.94H580.9zM219.76 1952.64H233.43V1965.15H219.76zM407.01 1952.64H420.69V1965.15H407.01zM554.15 1952.64H581.2V1965.15H554.15zM594.27 1952.64H607.95V1965.15H594.27zM139.5 1964.85H166.55V1977.35H139.5zM179.63 1964.85H220.06V1977.35H179.63zM286.63 1964.85H313.69V1977.35H286.63zM380.26 1964.85H393.94V1977.35H380.26zM447.14 1964.85H474.19V1977.35H447.14zM286.63 1977.05H300.31V1989.56H286.63zM313.39 1977.05H340.44V1989.56H313.39zM473.89 1989.26H527.7V2001.77H473.89zM554.15 1989.26H567.82V2001.77H554.15zM219.76 2001.47H233.43V2013.98H219.76zM380.26 2001.47H393.94V2013.98H380.26zM460.52 2001.47H474.19V2013.98H460.52zM219.76 2013.68H233.43V2026.18H219.76zM259.88 2013.68H273.56V2026.18H259.88zM366.89 2013.68H380.56V2026.18H366.89zM393.64 2013.68H420.69V2026.18H393.64zM487.27 2013.68H514.32V2026.18H487.27zM219.76 2025.88H233.43V2038.39H219.76zM286.63 2025.88H300.31V2038.39H286.63zM366.89 2025.88H380.56V2038.39H366.89zM420.39 2025.88H434.07V2038.39H420.39zM460.52 2025.88H487.57V2038.39H460.52zM567.52 2025.88H581.2V2038.39H567.52zM594.27 2025.88H607.95V2038.39H594.27zM286.63 2038.09H300.31V2053.6H286.63zM393.64 2038.09H434.07V2053.6H393.64zM473.89 2038.09H500.94V2053.6H473.89zM527.4 2038.09H554.45V2053.6H527.4zM567.52 2038.09H581.2V2053.6H567.52zM594.27 2038.09H607.95V2053.6H594.27zM621.02 2038.09H637.7V2053.6H621.02z"/>
<path fill="#B9D2E6" d="M500.64 1729.9H514.32V1745.41H500.64zM540.77 1729.9H581.2V1745.41H540.77zM607.65 1729.9H621.32V1745.41H607.65zM380.26 1745.11H393.94V1757.62H380.26zM487.27 1745.11H514.32V1757.62H487.27zM567.52 1745.11H581.2V1757.62H567.52zM594.27 1745.11H621.32V1757.62H594.27zM487.27 1757.32H514.32V1769.82H487.27zM527.4 1757.32H541.07V1769.82H527.4zM554.15 1757.32H581.2V1769.82H554.15zM380.26 1769.52H393.94V1782.03H380.26zM500.64 1769.52H514.32V1782.03H500.64zM527.4 1769.52H541.07V1782.03H527.4zM554.15 1769.52H567.82V1782.03H554.15zM621.02 1769.52H637.7V1782.03H621.02zM487.27 1781.73H514.32V1794.24H487.27zM527.4 1781.73H541.07V1794.24H527.4zM554.15 1781.73H581.2V1794.24H554.15zM621.02 1781.73H637.7V1794.24H621.02zM380.26 1793.94H393.94V1806.45H380.26zM407.01 1793.94H420.69V1806.45H407.01zM540.77 1793.94H554.45V1806.45H540.77zM567.52 1793.94H581.2V1806.45H567.52zM607.65 1793.94H637.7V1806.45H607.65zM500.64 1806.15H514.32V1818.65H500.64zM567.52 1806.15H581.2V1818.65H567.52zM621.02 1806.15H637.7V1818.65H621.02zM313.39 1818.35H327.06V1830.86H313.39zM380.26 1818.35H393.94V1830.86H380.26zM487.27 1818.35H527.7V1830.86H487.27zM567.52 1818.35H581.2V1830.86H567.52zM594.27 1818.35H637.7V1830.86H594.27zM380.26 1830.56H393.94V1843.07H380.26zM514.02 1830.56H527.7V1843.07H514.02zM567.52 1830.56H607.95V1843.07H567.52zM621.02 1830.56H637.7V1843.07H621.02zM193 1842.77H206.68V1855.28H193zM353.51 1842.77H367.19V1855.28H353.51zM460.52 1842.77H474.19V1855.28H460.52zM514.02 1842.77H541.07V1855.28H514.02zM607.65 1842.77H621.32V1855.28H607.65zM206.38 1854.98H246.81V1867.48H206.38zM473.89 1854.98H487.57V1867.48H473.89zM607.65 1854.98H621.32V1867.48H607.65zM193 1867.18H206.68V1879.69H193zM393.64 1867.18H407.31V1879.69H393.64zM326.76 1879.39H340.44V1891.9H326.76zM193 1903.81H206.68V1916.32H193zM313.39 1903.81H327.06V1916.32H313.39zM353.51 1903.81H367.19V1916.32H353.51zM420.39 1903.81H434.07V1916.32H420.39zM527.4 1903.81H554.45V1916.32H527.4zM567.52 1903.81H594.57V1916.32H567.52zM607.65 1903.81H637.7V1916.32H607.65zM380.26 1916.02H393.94V1928.52H380.26zM514.02 1916.02H527.7V1928.52H514.02zM540.77 1916.02H554.45V1928.52H540.77zM567.52 1916.02H581.2V1928.52H567.52zM487.27 1928.22H514.32V1940.73H487.27zM567.52 1928.22H581.2V1940.73H567.52zM594.27 1928.22H607.95V1940.73H594.27zM407.01 1940.43H420.69V1952.94H407.01zM487.27 1940.43H514.32V1952.94H487.27zM540.77 1940.43H554.45V1952.94H540.77zM567.52 1940.43H581.2V1952.94H567.52zM594.27 1940.43H621.32V1952.94H594.27zM313.39 1952.64H327.06V1965.15H313.39zM380.26 1952.64H407.31V1965.15H380.26zM487.27 1952.64H527.7V1965.15H487.27zM607.65 1952.64H637.7V1965.15H607.65zM246.51 1964.85H260.18V1977.35H246.51zM313.39 1964.85H327.06V1977.35H313.39zM273.26 1977.05H286.93V1989.56H273.26zM527.4 1989.26H541.07V2001.77H527.4zM112.75 2013.68H126.43V2026.18H112.75zM206.38 2013.68H220.06V2026.18H206.38zM380.26 2013.68H393.94V2026.18H380.26zM193 2025.88H206.68V2038.39H193z"/>
<path fill="#95B9D9" d="M380.26 1729.9H393.94V1745.41H380.26zM487.27 1729.9H500.94V1745.41H487.27zM514.02 1729.9H541.07V1745.41H514.02zM594.27 1729.9H607.95V1745.41H594.27zM621.02 1729.9H637.7V1745.41H621.02zM514.02 1745.11H541.07V1757.62H514.02zM621.02 1745.11H637.7V1757.62H621.02zM514.02 1757.32H527.7V1769.82H514.02zM594.27 1757.32H637.7V1769.82H594.27zM407.01 1769.52H420.69V1782.03H407.01zM487.27 1769.52H500.94V1782.03H487.27zM500.64 1793.94H541.07V1806.45H500.64zM380.26 1806.15H393.94V1818.65H380.26zM514.02 1806.15H527.7V1818.65H514.02zM594.27 1806.15H621.32V1818.65H594.27zM527.4 1818.35H541.07V1830.86H527.4zM527.4 1830.56H541.07V1843.07H527.4zM206.38 1842.77H246.81V1855.28H206.38zM366.89 1842.77H380.56V1855.28H366.89zM473.89 1842.77H487.57V1855.28H473.89zM500.64 1842.77H514.32V1855.28H500.64zM554.15 1842.77H567.82V1855.28H554.15zM580.9 1842.77H607.95V1855.28H580.9zM621.02 1842.77H637.7V1855.28H621.02zM193 1879.39H206.68V1891.9H193zM233.13 1903.81H246.81V1916.32H233.13zM460.52 1903.81H487.57V1916.32H460.52zM500.64 1916.02H514.32V1928.52H500.64zM527.4 1916.02H541.07V1928.52H527.4zM554.15 1916.02H567.82V1928.52H554.15zM621.02 1916.02H637.7V1928.52H621.02zM380.26 1928.22H393.94V1940.73H380.26zM514.02 1940.43H541.07V1952.94H514.02zM621.02 1940.43H637.7V1952.94H621.02zM527.4 1952.64H541.07V1965.15H527.4zM273.26 2013.68H286.93V2026.18H273.26z"/>
<path fill="#6A9CC9" d="M487.27 1806.15H500.94V1818.65H487.27zM527.4 1806.15H541.07V1818.65H527.4zM514.02 1928.22H541.07V1940.73H514.02zM380.26 1977.05H393.94V1989.56H380.26z"/>
<path fill="#FBEBEB" d="M83 1729.9H99.68V1745.41H83zM193 1729.9H206.68V1745.41H193zM233.13 1729.9H246.81V1745.41H233.13zM259.88 1729.9H300.31V1745.41H259.88zM313.39 1729.9H340.44V1745.41H313.39zM366.89 1729.9H380.56V1745.41H366.89zM433.77 1729.9H447.44V1745.41H433.77zM83 1745.11H99.68V1757.62H83zM219.76 1745.11H246.81V1757.62H219.76zM259.88 1745.11H273.56V1757.62H259.88zM300.01 1745.11H313.69V1757.62H300.01zM326.76 1745.11H353.81V1757.62H326.76zM366.89 1745.11H380.56V1757.62H366.89zM393.64 1745.11H407.31V1757.62H393.64zM83 1757.32H113.05V1769.82H83zM152.88 1757.32H166.55V1769.82H152.88zM193 1757.32H220.06V1769.82H193zM273.26 1757.32H286.93V1769.82H273.26zM300.01 1757.32H353.81V1769.82H300.01zM366.89 1757.32H380.56V1769.82H366.89zM433.77 1757.32H447.44V1769.82H433.77zM460.52 1757.32H474.19V1769.82H460.52zM83 1769.52H99.68V1782.03H83zM166.25 1769.52H179.93V1782.03H166.25zM193 1769.52H260.18V1782.03H193zM300.01 1769.52H340.44V1782.03H300.01zM460.52 1769.52H487.57V1782.03H460.52zM83 1781.73H99.68V1794.24H83zM126.13 1781.73H153.18V1794.24H126.13zM179.63 1781.73H206.68V1794.24H179.63zM273.26 1781.73H286.93V1794.24H273.26zM366.89 1781.73H380.56V1794.24H366.89zM420.39 1781.73H447.44V1794.24H420.39zM460.52 1781.73H487.57V1794.24H460.52zM83 1793.94H113.05V1806.45H83zM273.26 1793.94H286.93V1806.45H273.26zM300.01 1793.94H313.69V1806.45H300.01zM366.89 1793.94H380.56V1806.45H366.89zM460.52 1793.94H474.19V1806.45H460.52zM83 1806.15H99.68V1818.65H83zM139.5 1806.15H153.18V1818.65H139.5zM206.38 1806.15H220.06V1818.65H206.38zM246.51 1806.15H260.18V1818.65H246.51zM273.26 1806.15H286.93V1818.65H273.26zM326.76 1806.15H353.81V1818.65H326.76zM433.77 1806.15H447.44V1818.65H433.77zM99.38 1818.35H113.05V1830.86H99.38zM152.88 1818.35H193.3V1830.86H152.88zM246.51 1818.35H273.56V1830.86H246.51zM326.76 1818.35H353.81V1830.86H326.76zM366.89 1818.35H380.56V1830.86H366.89zM433.77 1818.35H447.44V1830.86H433.77zM460.52 1818.35H474.19V1830.86H460.52zM99.38 1830.56H113.05V1843.07H99.38zM152.88 1830.56H166.55V1843.07H152.88zM219.76 1830.56H246.81V1843.07H219.76zM259.88 1830.56H273.56V1843.07H259.88zM300.01 1830.56H313.69V1843.07H300.01zM326.76 1830.56H353.81V1843.07H326.76zM366.89 1830.56H380.56V1843.07H366.89zM433.77 1830.56H447.44V1843.07H433.77zM83 1842.77H113.05V1855.28H83zM139.5 1842.77H153.18V1855.28H139.5zM259.88 1842.77H273.56V1855.28H259.88zM340.14 1842.77H353.81V1855.28H340.14zM407.01 1842.77H420.69V1855.28H407.01zM540.77 1842.77H554.45V1855.28H540.77zM126.13 1854.98H139.8V1867.48H126.13zM246.51 1854.98H286.93V1867.48H246.51zM313.39 1854.98H353.81V1867.48H313.39zM393.64 1854.98H447.44V1867.48H393.64zM487.27 1854.98H500.94V1867.48H487.27zM99.38 1867.18H113.05V1879.69H99.38zM126.13 1867.18H139.8V1879.69H126.13zM179.63 1867.18H193.3V1879.69H179.63zM246.51 1867.18H260.18V1879.69H246.51zM460.52 1867.18H474.19V1879.69H460.52zM607.65 1867.18H637.7V1879.69H607.65zM83 1879.39H113.05V1891.9H83zM219.76 1879.39H233.43V1891.9H219.76zM246.51 1879.39H260.18V1891.9H246.51zM300.01 1879.39H327.06V1891.9H300.01zM433.77 1879.39H447.44V1891.9H433.77zM473.89 1879.39H487.57V1891.9H473.89zM621.02 1879.39H637.7V1891.9H621.02zM83 1891.6H113.05V1904.11H83zM126.13 1891.6H139.8V1904.11H126.13zM152.88 1891.6H166.55V1904.11H152.88zM473.89 1891.6H487.57V1904.11H473.89zM219.76 1903.81H233.43V1916.32H219.76zM193 1916.02H246.81V1928.52H193zM273.26 1916.02H286.93V1928.52H273.26zM300.01 1916.02H313.69V1928.52H300.01zM326.76 1916.02H340.44V1928.52H326.76zM366.89 1916.02H380.56V1928.52H366.89zM193 1928.22H220.06V1940.73H193zM233.13 1928.22H260.18V1940.73H233.13zM273.26 1928.22H313.69V1940.73H273.26zM326.76 1928.22H340.44V1940.73H326.76zM366.89 1928.22H380.56V1940.73H366.89zM460.52 1928.22H474.19V1940.73H460.52zM193 1940.43H220.06V1952.94H193zM233.13 1940.43H246.81V1952.94H233.13zM259.88 1940.43H273.56V1952.94H259.88zM286.63 1940.43H300.31V1952.94H286.63zM326.76 1940.43H340.44V1952.94H326.76zM366.89 1940.43H380.56V1952.94H366.89zM460.52 1940.43H474.19V1952.94H460.52zM83 1952.64H113.05V1965.15H83zM152.88 1952.64H166.55V1965.15H152.88zM206.38 1952.64H220.06V1965.15H206.38zM233.13 1952.64H246.81V1965.15H233.13zM259.88 1952.64H273.56V1965.15H259.88zM340.14 1952.64H353.81V1965.15H340.14zM366.89 1952.64H380.56V1965.15H366.89zM433.77 1952.64H447.44V1965.15H433.77zM460.52 1952.64H474.19V1965.15H460.52zM219.76 1964.85H233.43V1977.35H219.76zM433.77 1964.85H447.44V1977.35H433.77zM487.27 1964.85H514.32V1977.35H487.27zM527.4 1964.85H541.07V1977.35H527.4zM621.02 1964.85H637.7V1977.35H621.02zM179.63 1977.05H193.3V1989.56H179.63zM206.38 1977.05H220.06V1989.56H206.38zM233.13 1977.05H260.18V1989.56H233.13zM366.89 1977.05H380.56V1989.56H366.89zM407.01 1977.05H447.44V1989.56H407.01zM460.52 1977.05H474.19V1989.56H460.52zM514.02 1977.05H527.7V1989.56H514.02zM540.77 1977.05H554.45V1989.56H540.77zM580.9 1977.05H621.32V1989.56H580.9zM152.88 1989.26H179.93V2001.77H152.88zM193 1989.26H206.68V2001.77H193zM259.88 1989.26H273.56V2001.77H259.88zM286.63 1989.26H300.31V2001.77H286.63zM393.64 1989.26H407.31V2001.77H393.64zM99.38 2001.47H126.43V2013.98H99.38zM259.88 2001.47H273.56V2013.98H259.88zM433.77 2001.47H460.82V2013.98H433.77zM580.9 2001.47H594.57V2013.98H580.9zM447.14 2013.68H487.57V2026.18H447.14zM83 2025.88H113.05V2038.39H83zM179.63 2025.88H193.3V2038.39H179.63zM259.88 2025.88H273.56V2038.39H259.88zM380.26 2025.88H393.94V2038.39H380.26zM607.65 2025.88H621.32V2038.39H607.65zM83 2038.09H153.18V2053.6H83zM166.25 2038.09H179.93V2053.6H166.25zM246.51 2038.09H286.93V2053.6H246.51z"/>
<path fill="#F6D9D9" d="M99.38 1729.9H113.05V1745.41H99.38zM139.5 1729.9H153.18V1745.41H139.5zM166.25 1729.9H193.3V1745.41H166.25zM246.51 1729.9H260.18V1745.41H246.51zM99.38 1745.11H113.05V1757.62H99.38zM152.88 1745.11H193.3V1757.62H152.88zM246.51 1745.11H260.18V1757.62H246.51zM353.51 1745.11H367.19V1757.62H353.51zM433.77 1745.11H447.44V1757.62H433.77zM139.5 1757.32H153.18V1769.82H139.5zM166.25 1757.32H193.3V1769.82H166.25zM233.13 1757.32H260.18V1769.82H233.13zM126.13 1769.52H153.18V1782.03H126.13zM179.63 1769.52H193.3V1782.03H179.63zM259.88 1769.52H273.56V1782.03H259.88zM152.88 1781.73H179.93V1794.24H152.88zM233.13 1781.73H246.81V1794.24H233.13zM300.01 1781.73H313.69V1794.24H300.01zM340.14 1781.73H353.81V1794.24H340.14zM126.13 1793.94H153.18V1806.45H126.13zM179.63 1793.94H206.68V1806.45H179.63zM233.13 1793.94H246.81V1806.45H233.13zM340.14 1793.94H353.81V1806.45H340.14zM112.75 1806.15H126.43V1818.65H112.75zM219.76 1806.15H233.43V1818.65H219.76zM259.88 1806.15H273.56V1818.65H259.88zM83 1818.35H99.68V1830.86H83zM112.75 1818.35H153.18V1830.86H112.75zM193 1818.35H206.68V1830.86H193zM219.76 1818.35H233.43V1830.86H219.76zM83 1830.56H99.68V1843.07H83zM112.75 1830.56H153.18V1843.07H112.75zM166.25 1830.56H206.68V1843.07H166.25zM460.52 1830.56H474.19V1843.07H460.52zM179.63 1842.77H193.3V1855.28H179.63zM246.51 1842.77H260.18V1855.28H246.51zM393.64 1842.77H407.31V1855.28H393.64zM433.77 1842.77H447.44V1855.28H433.77zM139.5 1854.98H153.18V1867.48H139.5zM380.26 1854.98H393.94V1867.48H380.26zM166.25 1867.18H179.93V1879.69H166.25zM340.14 1867.18H353.81V1879.69H340.14zM126.13 1879.39H179.93V1891.9H126.13zM139.5 1891.6H153.18V1904.11H139.5zM166.25 1891.6H193.3V1904.11H166.25zM246.51 1891.6H260.18V1904.11H246.51zM99.38 1903.81H113.05V1916.32H99.38zM246.51 1903.81H260.18V1916.32H246.51zM286.63 1903.81H313.69V1916.32H286.63zM83 1916.02H113.05V1928.52H83zM139.5 1916.02H166.55V1928.52H139.5zM179.63 1916.02H193.3V1928.52H179.63zM246.51 1916.02H260.18V1928.52H246.51zM83 1928.22H113.05V1940.73H83zM139.5 1928.22H166.55V1940.73H139.5zM259.88 1928.22H273.56V1940.73H259.88zM99.38 1940.43H113.05V1952.94H99.38zM139.5 1940.43H193.3V1952.94H139.5zM246.51 1940.43H260.18V1952.94H246.51zM126.13 1952.64H153.18V1965.15H126.13zM166.25 1952.64H179.93V1965.15H166.25zM246.51 1952.64H260.18V1965.15H246.51zM83 1964.85H99.68V1977.35H83zM273.26 1964.85H286.93V1977.35H273.26zM554.15 1964.85H567.82V1977.35H554.15zM607.65 1964.85H621.32V1977.35H607.65zM99.38 1977.05H113.05V1989.56H99.38zM152.88 1977.05H179.93V1989.56H152.88zM179.63 1989.26H193.3V2001.77H179.63zM206.38 1989.26H220.06V2001.77H206.38zM83 2001.47H99.68V2013.98H83zM126.13 2001.47H166.55V2013.98H126.13zM179.63 2001.47H193.3V2013.98H179.63zM246.51 2001.47H260.18V2013.98H246.51zM83 2013.68H99.68V2026.18H83zM166.25 2013.68H193.3V2026.18H166.25zM246.51 2013.68H260.18V2026.18H246.51zM273.26 2025.88H286.93V2038.39H273.26zM179.63 2038.09H193.3V2053.6H179.63z"/>
<path fill="#EFBFBF" d="M126.13 1729.9H139.8V1745.41H126.13zM300.01 1729.9H313.69V1745.41H300.01zM112.75 1745.11H153.18V1757.62H112.75zM112.75 1757.32H139.8V1769.82H112.75zM112.75 1769.52H126.43V1782.03H112.75zM152.88 1769.52H166.55V1782.03H152.88zM112.75 1781.73H126.43V1794.24H112.75zM112.75 1793.94H126.43V1806.45H112.75zM152.88 1793.94H179.93V1806.45H152.88zM126.13 1806.15H139.8V1818.65H126.13zM152.88 1806.15H193.3V1818.65H152.88zM233.13 1806.15H246.81V1818.65H233.13zM300.01 1806.15H313.69V1818.65H300.01zM112.75 1842.77H126.43V1855.28H112.75zM166.25 1842.77H179.93V1855.28H166.25zM286.63 1842.77H300.31V1855.28H286.63zM380.26 1842.77H393.94V1855.28H380.26zM112.75 1867.18H126.43V1879.69H112.75zM152.88 1867.18H166.55V1879.69H152.88zM433.77 1867.18H447.44V1879.69H433.77zM112.75 1879.39H126.43V1891.9H112.75zM179.63 1879.39H193.3V1891.9H179.63zM112.75 1891.6H126.43V1904.11H112.75zM83 1903.81H99.68V1916.32H83zM126.13 1903.81H139.8V1916.32H126.13zM179.63 1903.81H193.3V1916.32H179.63zM259.88 1903.81H286.93V1916.32H259.88zM126.13 1916.02H139.8V1928.52H126.13zM166.25 1916.02H179.93V1928.52H166.25zM112.75 1928.22H139.8V1940.73H112.75zM166.25 1928.22H193.3V1940.73H166.25zM112.75 1940.43H139.8V1952.94H112.75zM179.63 1952.64H193.3V1965.15H179.63zM99.38 1964.85H113.05V1977.35H99.38zM514.02 1964.85H527.7V1977.35H514.02zM433.77 1989.26H447.44V2001.77H433.77zM99.38 2013.68H113.05V2026.18H99.38zM126.13 2013.68H139.8V2026.18H126.13zM152.88 2013.68H166.55V2026.18H152.88zM126.13 2025.88H153.18V2038.39H126.13zM152.88 2038.09H166.55V2053.6H152.88z"/>
<path fill="#E8A3A3" d="M112.75 1729.9H126.43V1745.41H112.75zM152.88 1729.9H166.55V1745.41H152.88zM126.13 1842.77H139.8V1855.28H126.13zM273.26 1842.77H286.93V1855.28H273.26zM112.75 1854.98H126.43V1867.48H112.75zM152.88 1854.98H166.55V1867.48H152.88zM112.75 1903.81H126.43V1916.32H112.75zM112.75 1916.02H126.43V1928.52H112.75zM112.75 1952.64H126.43V1965.15H112.75zM594.27 1964.85H607.95V1977.35H594.27zM83 1977.05H99.68V1989.56H83zM139.5 1989.26H153.18V2001.77H139.5zM139.5 2013.68H153.18V2026.18H139.5z"/>
<path fill="#E08585" d="M139.5 1903.81H153.18V1916.32H139.5z"/>
<path fill="#DA6967" d="M152.88 1842.77H166.55V1855.28H152.88z"/>
</g></g>
<clipPath id="clip-dd"><rect x="86" y="2054.7" width="548.4" height="415.3"/></clipPath>
<g clip-path="url(#clip-dd)"><g filter="url(#soft)">
<path fill="#E8F0F7" d="M340.14 2051.7H353.81V2067.21H340.14zM126.13 2066.91H139.8V2079.43H126.13zM366.89 2066.91H380.56V2079.43H366.89zM206.38 2079.13H220.06V2091.64H206.38zM607.65 2079.13H621.32V2091.64H607.65zM83 2091.34H99.68V2103.86H83zM219.76 2091.34H246.81V2103.86H219.76zM259.88 2091.34H273.56V2103.86H259.88zM353.51 2091.34H367.19V2103.86H353.51zM594.27 2091.34H607.95V2103.86H594.27zM83 2103.56H99.68V2116.07H83zM193 2103.56H206.68V2116.07H193zM233.13 2103.56H246.81V2116.07H233.13zM300.01 2103.56H313.69V2116.07H300.01zM340.14 2103.56H353.81V2116.07H340.14zM407.01 2103.56H420.69V2116.07H407.01zM447.14 2103.56H460.82V2116.07H447.14zM621.02 2103.56H637.7V2116.07H621.02zM219.76 2115.77H233.43V2128.29H219.76zM246.51 2115.77H260.18V2128.29H246.51zM273.26 2115.77H286.93V2128.29H273.26zM166.25 2127.99H179.93V2140.5H166.25zM300.01 2127.99H313.69V2140.5H300.01zM353.51 2127.99H380.56V2140.5H353.51zM500.64 2127.99H514.32V2140.5H500.64zM166.25 2140.2H179.93V2152.72H166.25zM353.51 2140.2H367.19V2152.72H353.51zM607.65 2140.2H621.32V2152.72H607.65zM152.88 2152.42H166.55V2164.93H152.88zM340.14 2152.42H353.81V2164.93H340.14zM179.63 2164.63H193.3V2177.15H179.63zM487.27 2164.63H500.94V2177.15H487.27zM580.9 2164.63H594.57V2177.15H580.9zM152.88 2176.85H193.3V2189.36H152.88zM206.38 2176.85H220.06V2189.36H206.38zM286.63 2176.85H300.31V2189.36H286.63zM353.51 2176.85H367.19V2189.36H353.51zM473.89 2176.85H487.57V2189.36H473.89zM527.4 2176.85H541.07V2189.36H527.4zM83 2189.06H113.05V2201.58H83zM139.5 2189.06H179.93V2201.58H139.5zM340.14 2189.06H380.56V2201.58H340.14zM514.02 2189.06H554.45V2201.58H514.02zM594.27 2189.06H607.95V2201.58H594.27zM83 2201.28H99.68V2213.79H83zM166.25 2201.28H179.93V2213.79H166.25zM219.76 2201.28H260.18V2213.79H219.76zM273.26 2201.28H286.93V2213.79H273.26zM353.51 2201.28H380.56V2213.79H353.51zM420.39 2201.28H434.07V2213.79H420.39zM500.64 2201.28H514.32V2213.79H500.64zM527.4 2201.28H541.07V2213.79H527.4zM567.52 2201.28H607.95V2213.79H567.52zM126.13 2213.49H139.8V2226.01H126.13zM166.25 2213.49H179.93V2226.01H166.25zM206.38 2213.49H220.06V2226.01H206.38zM233.13 2213.49H246.81V2226.01H233.13zM273.26 2213.49H286.93V2226.01H273.26zM300.01 2213.49H313.69V2226.01H300.01zM487.27 2213.49H500.94V2226.01H487.27zM540.77 2213.49H554.45V2226.01H540.77zM621.02 2213.49H637.7V2226.01H621.02zM166.25 2225.71H179.93V2238.22H166.25zM273.26 2225.71H286.93V2238.22H273.26zM340.14 2225.71H353.81V2238.22H340.14zM380.26 2225.71H393.94V2238.22H380.26zM514.02 2225.71H541.07V2238.22H514.02zM607.65 2225.71H621.32V2238.22H607.65zM83 2237.92H99.68V2250.44H83zM179.63 2237.92H193.3V2250.44H179.63zM219.76 2237.92H233.43V2250.44H219.76zM313.39 2237.92H327.06V2250.44H313.39zM393.64 2237.92H420.69V2250.44H393.64zM447.14 2237.92H460.82V2250.44H447.14zM580.9 2237.92H594.57V2250.44H580.9zM112.75 2250.14H126.43V2262.65H112.75zM233.13 2250.14H246.81V2262.65H233.13zM259.88 2250.14H273.56V2262.65H259.88zM340.14 2250.14H353.81V2262.65H340.14zM514.02 2250.14H527.7V2262.65H514.02zM621.02 2250.14H637.7V2262.65H621.02zM259.88 2262.35H273.56V2274.86H259.88zM300.01 2262.35H313.69V2274.86H300.01zM326.76 2262.35H340.44V2274.86H326.76zM353.51 2262.35H367.19V2274.86H353.51zM83 2274.56H99.68V2287.08H83zM112.75 2274.56H126.43V2287.08H112.75zM166.25 2274.56H179.93V2287.08H166.25zM219.76 2274.56H233.43V2287.08H219.76zM246.51 2274.56H260.18V2287.08H246.51zM273.26 2274.56H286.93V2287.08H273.26zM313.39 2274.56H327.06V2287.08H313.39zM514.02 2274.56H527.7V2287.08H514.02zM594.27 2274.56H621.32V2287.08H594.27zM112.75 2286.78H166.55V2299.29H112.75zM233.13 2286.78H246.81V2299.29H233.13zM273.26 2286.78H286.93V2299.29H273.26zM300.01 2286.78H327.06V2299.29H300.01zM366.89 2286.78H380.56V2299.29H366.89zM393.64 2286.78H407.31V2299.29H393.64zM433.77 2286.78H447.44V2299.29H433.77zM487.27 2286.78H500.94V2299.29H487.27zM527.4 2286.78H541.07V2299.29H527.4zM580.9 2286.78H607.95V2299.29H580.9zM621.02 2286.78H637.7V2299.29H621.02zM83 2298.99H99.68V2311.51H83zM139.5 2298.99H153.18V2311.51H139.5zM206.38 2298.99H233.43V2311.51H206.38zM460.52 2298.99H474.19V2311.51H460.52zM500.64 2298.99H514.32V2311.51H500.64zM527.4 2298.99H554.45V2311.51H527.4zM126.13 2311.21H139.8V2323.72H126.13zM233.13 2311.21H246.81V2323.72H233.13zM259.88 2311.21H273.56V2323.72H259.88zM326.76 2311.21H353.81V2323.72H326.76zM540.77 2311.21H554.45V2323.72H540.77zM607.65 2311.21H621.32V2323.72H607.65zM366.89 2323.42H393.94V2335.94H366.89zM99.38 2335.64H126.43V2348.15H99.38zM166.25 2335.64H179.93V2348.15H166.25zM206.38 2335.64H233.43V2348.15H206.38zM259.88 2335.64H286.93V2348.15H259.88zM366.89 2335.64H380.56V2348.15H366.89zM206.38 2347.85H233.43V2360.37H206.38zM246.51 2347.85H286.93V2360.37H246.51zM326.76 2347.85H340.44V2360.37H326.76zM393.64 2347.85H420.69V2360.37H393.64zM607.65 2347.85H621.32V2360.37H607.65zM83 2360.07H99.68V2372.58H83zM259.88 2360.07H273.56V2372.58H259.88zM300.01 2360.07H313.69V2372.58H300.01zM473.89 2360.07H487.57V2372.58H473.89zM594.27 2360.07H621.32V2372.58H594.27zM126.13 2372.28H139.8V2384.8H126.13zM219.76 2372.28H233.43V2384.8H219.76zM246.51 2372.28H260.18V2384.8H246.51zM340.14 2372.28H353.81V2384.8H340.14zM447.14 2372.28H474.19V2384.8H447.14zM554.15 2372.28H581.2V2384.8H554.15zM99.38 2384.5H113.05V2397.01H99.38zM233.13 2384.5H246.81V2397.01H233.13zM273.26 2384.5H300.31V2397.01H273.26zM366.89 2384.5H380.56V2397.01H366.89zM393.64 2384.5H407.31V2397.01H393.64zM447.14 2384.5H460.82V2397.01H447.14zM527.4 2384.5H541.07V2397.01H527.4zM594.27 2384.5H607.95V2397.01H594.27zM99.38 2396.71H139.8V2409.23H99.38zM166.25 2396.71H179.93V2409.23H166.25zM366.89 2396.71H380.56V2409.23H366.89zM540.77 2396.71H567.82V2409.23H540.77zM99.38 2408.93H113.05V2421.44H99.38zM152.88 2408.93H166.55V2421.44H152.88zM233.13 2408.93H260.18V2421.44H233.13zM527.4 2408.93H541.07V2421.44H527.4zM580.9 2408.93H607.95V2421.44H580.9zM83 2421.14H99.68V2433.66H83zM206.38 2421.14H220.06V2433.66H206.38zM83 2433.36H113.05V2445.87H83zM152.88 2433.36H166.55V2445.87H152.88zM219.76 2433.36H233.43V2445.87H219.76zM340.14 2433.36H353.81V2445.87H340.14zM500.64 2433.36H514.32V2445.87H500.64zM273.26 2445.57H286.93V2458.09H273.26zM340.14 2445.57H353.81V2458.09H340.14zM340.14 2457.79H353.81V2473.3H340.14zM621.02 2457.79H637.7V2473.3H621.02z"/>
<path fill="#D1E1EE" d="M233.13 2051.7H246.81V2067.21H233.13zM353.51 2051.7H367.19V2067.21H353.51zM473.89 2051.7H500.94V2067.21H473.89zM166.25 2066.91H179.93V2079.43H166.25zM353.51 2066.91H367.19V2079.43H353.51zM607.65 2066.91H637.7V2079.43H607.65zM112.75 2079.13H126.43V2091.64H112.75zM286.63 2079.13H300.31V2091.64H286.63zM353.51 2079.13H367.19V2091.64H353.51zM393.64 2079.13H407.31V2091.64H393.64zM112.75 2091.34H139.8V2103.86H112.75zM340.14 2091.34H353.81V2103.86H340.14zM621.02 2091.34H637.7V2103.86H621.02zM112.75 2103.56H166.55V2116.07H112.75zM179.63 2103.56H193.3V2116.07H179.63zM246.51 2103.56H286.93V2116.07H246.51zM353.51 2103.56H367.19V2116.07H353.51zM380.26 2103.56H393.94V2116.07H380.26zM83 2115.77H113.05V2128.29H83zM353.51 2115.77H367.19V2128.29H353.51zM380.26 2115.77H393.94V2128.29H380.26zM99.38 2127.99H126.43V2140.5H99.38zM152.88 2127.99H166.55V2140.5H152.88zM219.76 2127.99H246.81V2140.5H219.76zM514.02 2127.99H541.07V2140.5H514.02zM139.5 2140.2H153.18V2152.72H139.5zM527.4 2140.2H541.07V2152.72H527.4zM567.52 2140.2H607.95V2152.72H567.52zM139.5 2152.42H153.18V2164.93H139.5zM179.63 2152.42H206.68V2164.93H179.63zM219.76 2152.42H233.43V2164.93H219.76zM286.63 2152.42H300.31V2164.93H286.63zM473.89 2152.42H487.57V2164.93H473.89zM500.64 2152.42H527.7V2164.93H500.64zM567.52 2152.42H594.57V2164.93H567.52zM460.52 2164.63H487.57V2177.15H460.52zM83 2176.85H99.68V2189.36H83zM112.75 2176.85H139.8V2189.36H112.75zM193 2176.85H206.68V2189.36H193zM540.77 2176.85H567.82V2189.36H540.77zM580.9 2176.85H594.57V2189.36H580.9zM607.65 2176.85H621.32V2189.36H607.65zM126.13 2189.06H139.8V2201.58H126.13zM179.63 2189.06H233.43V2201.58H179.63zM473.89 2189.06H487.57V2201.58H473.89zM112.75 2201.28H139.8V2213.79H112.75zM179.63 2201.28H193.3V2213.79H179.63zM259.88 2201.28H273.56V2213.79H259.88zM83 2213.49H113.05V2226.01H83zM286.63 2213.49H300.31V2226.01H286.63zM340.14 2213.49H353.81V2226.01H340.14zM594.27 2213.49H621.32V2226.01H594.27zM83 2225.71H153.18V2238.22H83zM193 2225.71H206.68V2238.22H193zM353.51 2225.71H367.19V2238.22H353.51zM139.5 2237.92H179.93V2250.44H139.5zM286.63 2237.92H300.31V2250.44H286.63zM353.51 2237.92H380.56V2250.44H353.51zM514.02 2237.92H541.07V2250.44H514.02zM567.52 2237.92H581.2V2250.44H567.52zM594.27 2237.92H637.7V2250.44H594.27zM139.5 2250.14H179.93V2262.65H139.5zM273.26 2250.14H313.69V2262.65H273.26zM83 2262.35H99.68V2274.86H83zM126.13 2262.35H139.8V2274.86H126.13zM166.25 2262.35H179.93V2274.86H166.25zM219.76 2262.35H233.43V2274.86H219.76zM246.51 2262.35H260.18V2274.86H246.51zM273.26 2262.35H286.93V2274.86H273.26zM393.64 2262.35H407.31V2274.86H393.64zM99.38 2274.56H113.05V2287.08H99.38zM193 2274.56H220.06V2287.08H193zM259.88 2274.56H273.56V2287.08H259.88zM300.01 2274.56H313.69V2287.08H300.01zM540.77 2274.56H554.45V2287.08H540.77zM99.38 2286.78H113.05V2299.29H99.38zM166.25 2286.78H193.3V2299.29H166.25zM206.38 2286.78H233.43V2299.29H206.38zM286.63 2286.78H300.31V2299.29H286.63zM99.38 2298.99H113.05V2311.51H99.38zM126.13 2298.99H139.8V2311.51H126.13zM152.88 2298.99H166.55V2311.51H152.88zM353.51 2298.99H367.19V2311.51H353.51zM179.63 2311.21H193.3V2323.72H179.63zM286.63 2311.21H300.31V2323.72H286.63zM353.51 2311.21H367.19V2323.72H353.51zM460.52 2311.21H474.19V2323.72H460.52zM621.02 2311.21H637.7V2323.72H621.02zM206.38 2323.42H220.06V2335.94H206.38zM286.63 2323.42H300.31V2335.94H286.63zM326.76 2323.42H367.19V2335.94H326.76zM393.64 2323.42H407.31V2335.94H393.64zM460.52 2323.42H474.19V2335.94H460.52zM83 2335.64H99.68V2348.15H83zM126.13 2335.64H153.18V2348.15H126.13zM233.13 2335.64H246.81V2348.15H233.13zM353.51 2335.64H367.19V2348.15H353.51zM83 2347.85H99.68V2360.37H83zM126.13 2347.85H139.8V2360.37H126.13zM460.52 2347.85H474.19V2360.37H460.52zM126.13 2360.07H166.55V2372.58H126.13zM206.38 2360.07H220.06V2372.58H206.38zM99.38 2372.28H113.05V2384.8H99.38zM152.88 2372.28H166.55V2384.8H152.88zM179.63 2372.28H193.3V2384.8H179.63zM300.01 2372.28H313.69V2384.8H300.01zM206.38 2384.5H233.43V2397.01H206.38zM259.88 2384.5H273.56V2397.01H259.88zM300.01 2384.5H313.69V2397.01H300.01zM326.76 2384.5H340.44V2397.01H326.76zM460.52 2384.5H487.57V2397.01H460.52zM554.15 2384.5H581.2V2397.01H554.15zM139.5 2396.71H166.55V2409.23H139.5zM179.63 2396.71H246.81V2409.23H179.63zM473.89 2396.71H487.57V2409.23H473.89zM112.75 2408.93H139.8V2421.44H112.75zM179.63 2408.93H193.3V2421.44H179.63zM206.38 2408.93H220.06V2421.44H206.38zM540.77 2408.93H554.45V2421.44H540.77zM567.52 2408.93H581.2V2421.44H567.52zM126.13 2421.14H166.55V2433.66H126.13zM313.39 2421.14H327.06V2433.66H313.39zM433.77 2421.14H447.44V2433.66H433.77zM166.25 2433.36H193.3V2445.87H166.25zM233.13 2433.36H246.81V2445.87H233.13zM273.26 2433.36H286.93V2445.87H273.26zM393.64 2433.36H407.31V2445.87H393.64zM83 2445.57H99.68V2458.09H83zM112.75 2445.57H126.43V2458.09H112.75zM219.76 2445.57H233.43V2458.09H219.76zM246.51 2445.57H260.18V2458.09H246.51zM393.64 2445.57H407.31V2458.09H393.64zM83 2457.79H113.05V2473.3H83zM166.25 2457.79H193.3V2473.3H166.25zM219.76 2457.79H233.43V2473.3H219.76zM246.51 2457.79H260.18V2473.3H246.51zM273.26 2457.79H286.93V2473.3H273.26zM393.64 2457.79H407.31V2473.3H393.64zM594.27 2457.79H607.95V2473.3H594.27z"/>
<path fill="#B9D2E6" d="M219.76 2051.7H233.43V2067.21H219.76zM83 2066.91H126.43V2079.43H83zM139.5 2066.91H166.55V2079.43H139.5zM246.51 2066.91H300.31V2079.43H246.51zM380.26 2066.91H393.94V2079.43H380.26zM83 2079.13H113.05V2091.64H83zM139.5 2079.13H166.55V2091.64H139.5zM219.76 2079.13H233.43V2091.64H219.76zM246.51 2079.13H286.93V2091.64H246.51zM300.01 2079.13H327.06V2091.64H300.01zM380.26 2079.13H393.94V2091.64H380.26zM420.39 2079.13H434.07V2091.64H420.39zM152.88 2091.34H166.55V2103.86H152.88zM273.26 2091.34H286.93V2103.86H273.26zM380.26 2091.34H420.69V2103.86H380.26zM99.38 2103.56H113.05V2116.07H99.38zM166.25 2103.56H179.93V2116.07H166.25zM126.13 2115.77H139.8V2128.29H126.13zM179.63 2115.77H206.68V2128.29H179.63zM259.88 2115.77H273.56V2128.29H259.88zM340.14 2115.77H353.81V2128.29H340.14zM460.52 2127.99H487.57V2140.5H460.52zM607.65 2127.99H621.32V2140.5H607.65zM83 2140.2H99.68V2152.72H83zM112.75 2140.2H126.43V2152.72H112.75zM152.88 2140.2H166.55V2152.72H152.88zM179.63 2140.2H193.3V2152.72H179.63zM233.13 2140.2H246.81V2152.72H233.13zM286.63 2140.2H313.69V2152.72H286.63zM112.75 2152.42H139.8V2164.93H112.75zM206.38 2152.42H220.06V2164.93H206.38zM460.52 2152.42H474.19V2164.93H460.52zM540.77 2152.42H554.45V2164.93H540.77zM594.27 2152.42H607.95V2164.93H594.27zM112.75 2164.63H139.8V2177.15H112.75zM193 2164.63H246.81V2177.15H193zM500.64 2164.63H514.32V2177.15H500.64zM527.4 2164.63H554.45V2177.15H527.4zM219.76 2176.85H246.81V2189.36H219.76zM500.64 2176.85H514.32V2189.36H500.64zM112.75 2189.06H126.43V2201.58H112.75zM179.63 2213.49H193.3V2226.01H179.63zM246.51 2213.49H260.18V2226.01H246.51zM353.51 2213.49H367.19V2226.01H353.51zM179.63 2225.71H193.3V2238.22H179.63zM99.38 2237.92H113.05V2250.44H99.38zM273.26 2237.92H286.93V2250.44H273.26zM126.13 2250.14H139.8V2262.65H126.13zM353.51 2250.14H367.19V2262.65H353.51zM393.64 2250.14H407.31V2262.65H393.64zM99.38 2262.35H126.43V2274.86H99.38zM139.5 2262.35H166.55V2274.86H139.5zM193 2262.35H206.68V2274.86H193zM126.13 2274.56H139.8V2287.08H126.13zM152.88 2274.56H166.55V2287.08H152.88zM179.63 2274.56H193.3V2287.08H179.63zM112.75 2311.21H126.43V2323.72H112.75zM139.5 2311.21H153.18V2323.72H139.5zM166.25 2311.21H179.93V2323.72H166.25zM219.76 2311.21H233.43V2323.72H219.76zM246.51 2311.21H260.18V2323.72H246.51zM99.38 2323.42H126.43V2335.94H99.38zM152.88 2323.42H166.55V2335.94H152.88zM179.63 2335.64H193.3V2348.15H179.63zM112.75 2347.85H126.43V2360.37H112.75zM139.5 2347.85H166.55V2360.37H139.5zM179.63 2347.85H193.3V2360.37H179.63zM286.63 2347.85H313.69V2360.37H286.63zM112.75 2360.07H126.43V2372.58H112.75zM166.25 2360.07H179.93V2372.58H166.25zM219.76 2360.07H233.43V2372.58H219.76zM112.75 2372.28H126.43V2384.8H112.75zM233.13 2372.28H246.81V2384.8H233.13zM139.5 2384.5H153.18V2397.01H139.5zM83 2396.71H99.68V2409.23H83zM219.76 2408.93H233.43V2421.44H219.76zM99.38 2421.14H113.05V2433.66H99.38zM233.13 2421.14H246.81V2433.66H233.13zM273.26 2421.14H286.93V2433.66H273.26zM340.14 2421.14H353.81V2433.66H340.14zM460.52 2421.14H474.19V2433.66H460.52zM126.13 2433.36H153.18V2445.87H126.13zM246.51 2433.36H260.18V2445.87H246.51zM99.38 2445.57H113.05V2458.09H99.38zM139.5 2445.57H193.3V2458.09H139.5zM112.75 2457.79H153.18V2473.3H112.75z"/>
<path fill="#95B9D9" d="M83 2051.7H99.68V2067.21H83zM259.88 2051.7H273.56V2067.21H259.88zM286.63 2051.7H300.31V2067.21H286.63zM179.63 2066.91H206.68V2079.43H179.63zM126.13 2079.13H139.8V2091.64H126.13zM166.25 2079.13H193.3V2091.64H166.25zM139.5 2091.34H153.18V2103.86H139.5zM246.51 2091.34H260.18V2103.86H246.51zM152.88 2115.77H166.55V2128.29H152.88zM139.5 2127.99H153.18V2140.5H139.5zM179.63 2127.99H206.68V2140.5H179.63zM340.14 2127.99H353.81V2140.5H340.14zM219.76 2140.2H233.43V2152.72H219.76zM460.52 2140.2H487.57V2152.72H460.52zM233.13 2152.42H246.81V2164.93H233.13zM527.4 2152.42H541.07V2164.93H527.4zM286.63 2164.63H300.31V2177.15H286.63zM219.76 2213.49H233.43V2226.01H219.76zM83 2250.14H113.05V2262.65H83zM179.63 2250.14H193.3V2262.65H179.63zM179.63 2262.35H193.3V2274.86H179.63zM193 2286.78H206.68V2299.29H193zM193 2298.99H206.68V2311.51H193zM300.01 2311.21H327.06V2323.72H300.01zM473.89 2311.21H487.57V2323.72H473.89zM139.5 2323.42H153.18V2335.94H139.5zM219.76 2323.42H233.43V2335.94H219.76zM473.89 2323.42H487.57V2335.94H473.89zM473.89 2335.64H487.57V2348.15H473.89zM179.63 2360.07H193.3V2372.58H179.63zM166.25 2372.28H179.93V2384.8H166.25zM393.64 2372.28H407.31V2384.8H393.64zM473.89 2372.28H487.57V2384.8H473.89zM83 2384.5H99.68V2397.01H83zM166.25 2384.5H193.3V2397.01H166.25zM179.63 2421.14H193.3V2433.66H179.63zM380.26 2421.14H393.94V2433.66H380.26zM112.75 2433.36H126.43V2445.87H112.75zM193 2445.57H206.68V2458.09H193z"/>
<path fill="#6A9CC9" d="M99.38 2051.7H166.55V2067.21H99.38zM179.63 2051.7H193.3V2067.21H179.63zM246.51 2051.7H260.18V2067.21H246.51zM273.26 2051.7H286.93V2067.21H273.26zM193 2079.13H206.68V2091.64H193zM193 2091.34H206.68V2103.86H193zM112.75 2115.77H126.43V2128.29H112.75zM83 2127.99H99.68V2140.5H83zM166.25 2347.85H179.93V2360.37H166.25zM193 2347.85H206.68V2360.37H193zM193 2360.07H206.68V2372.58H193zM246.51 2421.14H260.18V2433.66H246.51zM300.01 2421.14H313.69V2433.66H300.01z"/>
<path fill="#3D7DB7" d="M166.25 2051.7H179.93V2067.21H166.25zM193 2051.7H206.68V2067.21H193zM139.5 2115.77H153.18V2128.29H139.5zM83 2372.28H99.68V2384.8H83z"/>
<path fill="#1F68AD" d="M112.75 2421.14H126.43V2433.66H112.75z"/>
<path fill="#FBEBEB" d="M326.76 2051.7H340.44V2067.21H326.76zM380.26 2051.7H407.31V2067.21H380.26zM206.38 2066.91H233.43V2079.43H206.38zM313.39 2066.91H327.06V2079.43H313.39zM340.14 2066.91H353.81V2079.43H340.14zM407.01 2066.91H420.69V2079.43H407.01zM473.89 2066.91H500.94V2079.43H473.89zM540.77 2066.91H554.45V2079.43H540.77zM567.52 2066.91H581.2V2079.43H567.52zM594.27 2079.13H607.95V2091.64H594.27zM621.02 2079.13H637.7V2091.64H621.02zM206.38 2091.34H220.06V2103.86H206.38zM286.63 2091.34H300.31V2103.86H286.63zM366.89 2091.34H380.56V2103.86H366.89zM487.27 2091.34H500.94V2103.86H487.27zM527.4 2091.34H541.07V2103.86H527.4zM554.15 2091.34H567.82V2103.86H554.15zM206.38 2103.56H220.06V2116.07H206.38zM286.63 2103.56H300.31V2116.07H286.63zM313.39 2103.56H327.06V2116.07H313.39zM366.89 2103.56H380.56V2116.07H366.89zM433.77 2103.56H447.44V2116.07H433.77zM514.02 2103.56H527.7V2116.07H514.02zM540.77 2103.56H554.45V2116.07H540.77zM594.27 2103.56H607.95V2116.07H594.27zM206.38 2115.77H220.06V2128.29H206.38zM233.13 2115.77H246.81V2128.29H233.13zM286.63 2115.77H300.31V2128.29H286.63zM326.76 2115.77H340.44V2128.29H326.76zM366.89 2115.77H380.56V2128.29H366.89zM514.02 2115.77H541.07V2128.29H514.02zM607.65 2115.77H637.7V2128.29H607.65zM246.51 2127.99H260.18V2140.5H246.51zM273.26 2127.99H286.93V2140.5H273.26zM393.64 2127.99H407.31V2140.5H393.64zM420.39 2127.99H434.07V2140.5H420.39zM447.14 2127.99H460.82V2140.5H447.14zM554.15 2127.99H607.95V2140.5H554.15zM99.38 2140.2H113.05V2152.72H99.38zM193 2140.2H206.68V2152.72H193zM259.88 2140.2H286.93V2152.72H259.88zM393.64 2140.2H407.31V2152.72H393.64zM447.14 2140.2H460.82V2152.72H447.14zM514.02 2140.2H527.7V2152.72H514.02zM621.02 2140.2H637.7V2152.72H621.02zM273.26 2152.42H286.93V2164.93H273.26zM366.89 2152.42H380.56V2164.93H366.89zM393.64 2152.42H407.31V2164.93H393.64zM447.14 2152.42H460.82V2164.93H447.14zM487.27 2152.42H500.94V2164.93H487.27zM607.65 2152.42H637.7V2164.93H607.65zM83 2164.63H99.68V2177.15H83zM139.5 2164.63H153.18V2177.15H139.5zM259.88 2164.63H273.56V2177.15H259.88zM300.01 2164.63H313.69V2177.15H300.01zM340.14 2164.63H353.81V2177.15H340.14zM366.89 2164.63H380.56V2177.15H366.89zM407.01 2164.63H420.69V2177.15H407.01zM514.02 2164.63H527.7V2177.15H514.02zM554.15 2164.63H567.82V2177.15H554.15zM246.51 2176.85H273.56V2189.36H246.51zM366.89 2176.85H380.56V2189.36H366.89zM393.64 2176.85H420.69V2189.36H393.64zM447.14 2176.85H460.82V2189.36H447.14zM487.27 2176.85H500.94V2189.36H487.27zM567.52 2176.85H581.2V2189.36H567.52zM246.51 2189.06H273.56V2201.58H246.51zM286.63 2189.06H300.31V2201.58H286.63zM313.39 2189.06H340.44V2201.58H313.39zM407.01 2189.06H420.69V2201.58H407.01zM447.14 2189.06H474.19V2201.58H447.14zM487.27 2189.06H500.94V2201.58H487.27zM554.15 2189.06H581.2V2201.58H554.15zM286.63 2201.28H313.69V2213.79H286.63zM326.76 2201.28H340.44V2213.79H326.76zM407.01 2201.28H420.69V2213.79H407.01zM433.77 2201.28H447.44V2213.79H433.77zM514.02 2201.28H527.7V2213.79H514.02zM112.75 2213.49H126.43V2226.01H112.75zM139.5 2213.49H153.18V2226.01H139.5zM193 2213.49H206.68V2226.01H193zM259.88 2213.49H273.56V2226.01H259.88zM326.76 2213.49H340.44V2226.01H326.76zM366.89 2213.49H380.56V2226.01H366.89zM393.64 2213.49H460.82V2226.01H393.64zM473.89 2213.49H487.57V2226.01H473.89zM500.64 2213.49H514.32V2226.01H500.64zM527.4 2213.49H541.07V2226.01H527.4zM554.15 2213.49H567.82V2226.01H554.15zM580.9 2213.49H594.57V2226.01H580.9zM152.88 2225.71H166.55V2238.22H152.88zM206.38 2225.71H220.06V2238.22H206.38zM366.89 2225.71H380.56V2238.22H366.89zM407.01 2225.71H514.32V2238.22H407.01zM540.77 2225.71H594.57V2238.22H540.77zM193 2237.92H206.68V2250.44H193zM259.88 2237.92H273.56V2250.44H259.88zM554.15 2237.92H567.82V2250.44H554.15zM206.38 2250.14H233.43V2262.65H206.38zM246.51 2250.14H260.18V2262.65H246.51zM407.01 2250.14H420.69V2262.65H407.01zM447.14 2250.14H460.82V2262.65H447.14zM554.15 2250.14H567.82V2262.65H554.15zM594.27 2250.14H607.95V2262.65H594.27zM286.63 2262.35H300.31V2274.86H286.63zM366.89 2262.35H393.94V2274.86H366.89zM407.01 2262.35H420.69V2274.86H407.01zM447.14 2262.35H460.82V2274.86H447.14zM473.89 2262.35H487.57V2274.86H473.89zM500.64 2262.35H527.7V2274.86H500.64zM540.77 2262.35H554.45V2274.86H540.77zM567.52 2262.35H594.57V2274.86H567.52zM621.02 2262.35H637.7V2274.86H621.02zM233.13 2274.56H246.81V2287.08H233.13zM326.76 2274.56H353.81V2287.08H326.76zM447.14 2274.56H460.82V2287.08H447.14zM500.64 2274.56H514.32V2287.08H500.64zM527.4 2274.56H541.07V2287.08H527.4zM554.15 2274.56H567.82V2287.08H554.15zM83 2286.78H99.68V2299.29H83zM246.51 2286.78H273.56V2299.29H246.51zM340.14 2286.78H367.19V2299.29H340.14zM420.39 2286.78H434.07V2299.29H420.39zM500.64 2286.78H514.32V2299.29H500.64zM259.88 2298.99H273.56V2311.51H259.88zM366.89 2298.99H380.56V2311.51H366.89zM407.01 2298.99H460.82V2311.51H407.01zM554.15 2298.99H567.82V2311.51H554.15zM580.9 2298.99H607.95V2311.51H580.9zM83 2311.21H113.05V2323.72H83zM407.01 2311.21H420.69V2323.72H407.01zM433.77 2311.21H447.44V2323.72H433.77zM487.27 2311.21H500.94V2323.72H487.27zM580.9 2311.21H594.57V2323.72H580.9zM83 2323.42H99.68V2335.94H83zM166.25 2323.42H179.93V2335.94H166.25zM246.51 2323.42H260.18V2335.94H246.51zM273.26 2323.42H286.93V2335.94H273.26zM407.01 2323.42H420.69V2335.94H407.01zM433.77 2323.42H460.82V2335.94H433.77zM540.77 2323.42H554.45V2335.94H540.77zM152.88 2335.64H166.55V2348.15H152.88zM286.63 2335.64H353.81V2348.15H286.63zM420.39 2335.64H447.44V2348.15H420.39zM460.52 2335.64H474.19V2348.15H460.52zM487.27 2335.64H607.95V2348.15H487.27zM233.13 2347.85H246.81V2360.37H233.13zM313.39 2347.85H327.06V2360.37H313.39zM353.51 2347.85H367.19V2360.37H353.51zM380.26 2347.85H393.94V2360.37H380.26zM500.64 2347.85H514.32V2360.37H500.64zM594.27 2347.85H607.95V2360.37H594.27zM233.13 2360.07H246.81V2372.58H233.13zM286.63 2360.07H300.31V2372.58H286.63zM353.51 2360.07H380.56V2372.58H353.51zM407.01 2360.07H434.07V2372.58H407.01zM500.64 2360.07H541.07V2372.58H500.64zM554.15 2360.07H594.57V2372.58H554.15zM621.02 2360.07H637.7V2372.58H621.02zM193 2372.28H206.68V2384.8H193zM286.63 2372.28H300.31V2384.8H286.63zM313.39 2372.28H327.06V2384.8H313.39zM366.89 2372.28H393.94V2384.8H366.89zM420.39 2372.28H434.07V2384.8H420.39zM607.65 2372.28H637.7V2384.8H607.65zM112.75 2384.5H139.8V2397.01H112.75zM152.88 2384.5H166.55V2397.01H152.88zM193 2384.5H206.68V2397.01H193zM340.14 2384.5H367.19V2397.01H340.14zM407.01 2384.5H420.69V2397.01H407.01zM607.65 2384.5H637.7V2397.01H607.65zM246.51 2396.71H260.18V2409.23H246.51zM313.39 2396.71H327.06V2409.23H313.39zM340.14 2396.71H353.81V2409.23H340.14zM407.01 2396.71H434.07V2409.23H407.01zM487.27 2396.71H500.94V2409.23H487.27zM514.02 2396.71H527.7V2409.23H514.02zM567.52 2396.71H607.95V2409.23H567.52zM621.02 2396.71H637.7V2409.23H621.02zM259.88 2408.93H273.56V2421.44H259.88zM300.01 2408.93H313.69V2421.44H300.01zM340.14 2408.93H353.81V2421.44H340.14zM407.01 2408.93H420.69V2421.44H407.01zM433.77 2408.93H447.44V2421.44H433.77zM473.89 2408.93H500.94V2421.44H473.89zM286.63 2421.14H300.31V2433.66H286.63zM326.76 2421.14H340.44V2433.66H326.76zM473.89 2421.14H500.94V2433.66H473.89zM594.27 2421.14H607.95V2433.66H594.27zM206.38 2433.36H220.06V2445.87H206.38zM259.88 2433.36H273.56V2445.87H259.88zM286.63 2433.36H313.69V2445.87H286.63zM460.52 2433.36H500.94V2445.87H460.52zM514.02 2433.36H554.45V2445.87H514.02zM567.52 2433.36H581.2V2445.87H567.52zM594.27 2433.36H607.95V2445.87H594.27zM621.02 2433.36H637.7V2445.87H621.02zM206.38 2445.57H220.06V2458.09H206.38zM259.88 2445.57H273.56V2458.09H259.88zM366.89 2445.57H380.56V2458.09H366.89zM500.64 2445.57H514.32V2458.09H500.64zM527.4 2445.57H541.07V2458.09H527.4zM554.15 2445.57H637.7V2458.09H554.15zM152.88 2457.79H166.55V2473.3H152.88zM259.88 2457.79H273.56V2473.3H259.88zM286.63 2457.79H313.69V2473.3H286.63zM366.89 2457.79H380.56V2473.3H366.89zM407.01 2457.79H420.69V2473.3H407.01zM433.77 2457.79H487.57V2473.3H433.77zM514.02 2457.79H541.07V2473.3H514.02zM554.15 2457.79H567.82V2473.3H554.15zM580.9 2457.79H594.57V2473.3H580.9z"/>
<path fill="#F6D9D9" d="M206.38 2051.7H220.06V2067.21H206.38zM366.89 2051.7H380.56V2067.21H366.89zM420.39 2051.7H434.07V2067.21H420.39zM500.64 2051.7H514.32V2067.21H500.64zM607.65 2051.7H621.32V2067.21H607.65zM233.13 2066.91H246.81V2079.43H233.13zM300.01 2066.91H313.69V2079.43H300.01zM393.64 2066.91H407.31V2079.43H393.64zM420.39 2066.91H447.44V2079.43H420.39zM447.14 2079.13H460.82V2091.64H447.14zM540.77 2079.13H554.45V2091.64H540.77zM567.52 2079.13H581.2V2091.64H567.52zM300.01 2091.34H327.06V2103.86H300.01zM447.14 2091.34H474.19V2103.86H447.14zM500.64 2091.34H527.7V2103.86H500.64zM540.77 2091.34H554.45V2103.86H540.77zM567.52 2091.34H594.57V2103.86H567.52zM420.39 2103.56H434.07V2116.07H420.39zM460.52 2103.56H474.19V2116.07H460.52zM487.27 2103.56H500.94V2116.07H487.27zM527.4 2103.56H541.07V2116.07H527.4zM554.15 2103.56H567.82V2116.07H554.15zM166.25 2115.77H179.93V2128.29H166.25zM300.01 2115.77H327.06V2128.29H300.01zM433.77 2115.77H487.57V2128.29H433.77zM500.64 2115.77H514.32V2128.29H500.64zM540.77 2115.77H607.95V2128.29H540.77zM259.88 2127.99H273.56V2140.5H259.88zM313.39 2127.99H340.44V2140.5H313.39zM407.01 2127.99H420.69V2140.5H407.01zM487.27 2127.99H500.94V2140.5H487.27zM621.02 2127.99H637.7V2140.5H621.02zM313.39 2140.2H340.44V2152.72H313.39zM420.39 2140.2H434.07V2152.72H420.39zM487.27 2140.2H500.94V2152.72H487.27zM99.38 2152.42H113.05V2164.93H99.38zM166.25 2152.42H179.93V2164.93H166.25zM259.88 2152.42H273.56V2164.93H259.88zM300.01 2152.42H313.69V2164.93H300.01zM326.76 2152.42H340.44V2164.93H326.76zM407.01 2152.42H447.44V2164.93H407.01zM166.25 2164.63H179.93V2177.15H166.25zM246.51 2164.63H260.18V2177.15H246.51zM313.39 2164.63H340.44V2177.15H313.39zM393.64 2164.63H407.31V2177.15H393.64zM420.39 2164.63H434.07V2177.15H420.39zM447.14 2164.63H460.82V2177.15H447.14zM313.39 2176.85H340.44V2189.36H313.39zM420.39 2176.85H447.44V2189.36H420.39zM420.39 2189.06H447.44V2201.58H420.39zM460.52 2201.28H487.57V2213.79H460.52zM152.88 2213.49H166.55V2226.01H152.88zM514.02 2213.49H527.7V2226.01H514.02zM313.39 2225.71H327.06V2238.22H313.39zM126.13 2237.92H139.8V2250.44H126.13zM246.51 2237.92H260.18V2250.44H246.51zM380.26 2237.92H393.94V2250.44H380.26zM420.39 2237.92H447.44V2250.44H420.39zM460.52 2237.92H474.19V2250.44H460.52zM500.64 2237.92H514.32V2250.44H500.64zM326.76 2250.14H340.44V2262.65H326.76zM420.39 2250.14H447.44V2262.65H420.39zM460.52 2250.14H474.19V2262.65H460.52zM500.64 2250.14H514.32V2262.65H500.64zM527.4 2250.14H554.45V2262.65H527.4zM313.39 2262.35H327.06V2274.86H313.39zM420.39 2262.35H447.44V2274.86H420.39zM460.52 2262.35H474.19V2274.86H460.52zM527.4 2262.35H541.07V2274.86H527.4zM554.15 2262.35H567.82V2274.86H554.15zM420.39 2274.56H434.07V2287.08H420.39zM567.52 2274.56H594.57V2287.08H567.52zM380.26 2286.78H393.94V2299.29H380.26zM460.52 2286.78H474.19V2299.29H460.52zM540.77 2286.78H554.45V2299.29H540.77zM246.51 2298.99H260.18V2311.51H246.51zM326.76 2298.99H340.44V2311.51H326.76zM380.26 2298.99H393.94V2311.51H380.26zM473.89 2298.99H487.57V2311.51H473.89zM193 2311.21H220.06V2323.72H193zM393.64 2311.21H407.31V2323.72H393.64zM420.39 2311.21H434.07V2323.72H420.39zM447.14 2311.21H460.82V2323.72H447.14zM514.02 2311.21H527.7V2323.72H514.02zM554.15 2311.21H581.2V2323.72H554.15zM179.63 2323.42H193.3V2335.94H179.63zM259.88 2323.42H273.56V2335.94H259.88zM420.39 2323.42H434.07V2335.94H420.39zM487.27 2323.42H514.32V2335.94H487.27zM527.4 2323.42H541.07V2335.94H527.4zM554.15 2323.42H567.82V2335.94H554.15zM580.9 2323.42H594.57V2335.94H580.9zM340.14 2347.85H353.81V2360.37H340.14zM366.89 2347.85H380.56V2360.37H366.89zM447.14 2347.85H460.82V2360.37H447.14zM540.77 2347.85H567.82V2360.37H540.77zM621.02 2347.85H637.7V2360.37H621.02zM340.14 2360.07H353.81V2372.58H340.14zM447.14 2360.07H460.82V2372.58H447.14zM487.27 2360.07H500.94V2372.58H487.27zM540.77 2360.07H554.45V2372.58H540.77zM407.01 2372.28H420.69V2384.8H407.01zM514.02 2372.28H527.7V2384.8H514.02zM580.9 2372.28H594.57V2384.8H580.9zM420.39 2384.5H447.44V2397.01H420.39zM487.27 2384.5H527.7V2397.01H487.27zM540.77 2384.5H554.45V2397.01H540.77zM580.9 2384.5H594.57V2397.01H580.9zM433.77 2396.71H447.44V2409.23H433.77zM500.64 2396.71H514.32V2409.23H500.64zM313.39 2408.93H327.06V2421.44H313.39zM366.89 2408.93H380.56V2421.44H366.89zM420.39 2408.93H434.07V2421.44H420.39zM514.02 2408.93H527.7V2421.44H514.02zM607.65 2408.93H621.32V2421.44H607.65zM166.25 2421.14H179.93V2433.66H166.25zM219.76 2421.14H233.43V2433.66H219.76zM259.88 2421.14H273.56V2433.66H259.88zM353.51 2421.14H367.19V2433.66H353.51zM607.65 2421.14H637.7V2433.66H607.65zM313.39 2433.36H340.44V2445.87H313.39zM353.51 2433.36H367.19V2445.87H353.51zM433.77 2433.36H460.82V2445.87H433.77zM554.15 2433.36H567.82V2445.87H554.15zM580.9 2433.36H594.57V2445.87H580.9zM313.39 2445.57H327.06V2458.09H313.39zM353.51 2445.57H367.19V2458.09H353.51zM380.26 2445.57H393.94V2458.09H380.26zM407.01 2445.57H500.94V2458.09H407.01zM514.02 2445.57H527.7V2458.09H514.02zM313.39 2457.79H327.06V2473.3H313.39zM353.51 2457.79H367.19V2473.3H353.51zM380.26 2457.79H393.94V2473.3H380.26zM487.27 2457.79H500.94V2473.3H487.27z"/>
<path fill="#EFBFBF" d="M447.14 2051.7H460.82V2067.21H447.14zM514.02 2051.7H527.7V2067.21H514.02zM540.77 2051.7H554.45V2067.21H540.77zM580.9 2051.7H607.95V2067.21H580.9zM460.52 2066.91H474.19V2079.43H460.52zM527.4 2066.91H541.07V2079.43H527.4zM554.15 2066.91H567.82V2079.43H554.15zM580.9 2066.91H594.57V2079.43H580.9zM433.77 2079.13H447.44V2091.64H433.77zM514.02 2079.13H541.07V2091.64H514.02zM554.15 2079.13H567.82V2091.64H554.15zM580.9 2079.13H594.57V2091.64H580.9zM433.77 2091.34H447.44V2103.86H433.77zM500.64 2103.56H514.32V2116.07H500.64zM487.27 2115.77H500.94V2128.29H487.27zM246.51 2140.2H260.18V2152.72H246.51zM407.01 2140.2H420.69V2152.72H407.01zM246.51 2152.42H260.18V2164.93H246.51zM313.39 2152.42H327.06V2164.93H313.39zM380.26 2189.06H393.94V2201.58H380.26zM193 2201.28H206.68V2213.79H193zM313.39 2201.28H327.06V2213.79H313.39zM313.39 2213.49H327.06V2226.01H313.39zM567.52 2213.49H581.2V2226.01H567.52zM473.89 2237.92H500.94V2250.44H473.89zM380.26 2250.14H393.94V2262.65H380.26zM473.89 2250.14H500.94V2262.65H473.89zM487.27 2262.35H500.94V2274.86H487.27zM380.26 2274.56H393.94V2287.08H380.26zM473.89 2274.56H487.57V2287.08H473.89zM500.64 2311.21H514.32V2323.72H500.64zM527.4 2311.21H541.07V2323.72H527.4zM193 2323.42H206.68V2335.94H193zM300.01 2323.42H313.69V2335.94H300.01zM433.77 2347.85H447.44V2360.37H433.77zM514.02 2347.85H541.07V2360.37H514.02zM380.26 2360.07H393.94V2372.58H380.26zM433.77 2360.07H447.44V2372.58H433.77zM273.26 2372.28H286.93V2384.8H273.26zM353.51 2372.28H367.19V2384.8H353.51zM433.77 2372.28H447.44V2384.8H433.77zM487.27 2372.28H500.94V2384.8H487.27zM246.51 2384.5H260.18V2397.01H246.51zM380.26 2396.71H393.94V2409.23H380.26zM380.26 2408.93H393.94V2421.44H380.26zM366.89 2421.14H380.56V2433.66H366.89zM393.64 2421.14H407.31V2433.66H393.64zM420.39 2421.14H434.07V2433.66H420.39zM447.14 2421.14H460.82V2433.66H447.14zM500.64 2421.14H567.82V2433.66H500.64zM580.9 2421.14H594.57V2433.66H580.9zM420.39 2457.79H434.07V2473.3H420.39z"/>
<path fill="#E8A3A3" d="M300.01 2051.7H327.06V2067.21H300.01zM433.77 2051.7H447.44V2067.21H433.77zM460.52 2051.7H474.19V2067.21H460.52zM554.15 2051.7H567.82V2067.21H554.15zM514.02 2066.91H527.7V2079.43H514.02zM487.27 2079.13H500.94V2091.64H487.27zM473.89 2091.34H487.57V2103.86H473.89zM473.89 2103.56H487.57V2116.07H473.89zM433.77 2127.99H447.44V2140.5H433.77zM433.77 2140.2H447.44V2152.72H433.77zM380.26 2164.63H393.94V2177.15H380.26zM380.26 2176.85H393.94V2189.36H380.26zM540.77 2237.92H554.45V2250.44H540.77zM473.89 2286.78H487.57V2299.29H473.89zM554.15 2286.78H567.82V2299.29H554.15zM380.26 2384.5H393.94V2397.01H380.26zM567.52 2421.14H581.2V2433.66H567.52zM420.39 2433.36H434.07V2445.87H420.39z"/>
<path fill="#E08585" d="M527.4 2051.7H541.07V2067.21H527.4zM567.52 2051.7H581.2V2067.21H567.52zM473.89 2079.13H487.57V2091.64H473.89zM380.26 2140.2H393.94V2152.72H380.26zM380.26 2152.42H393.94V2164.93H380.26z"/>
<path fill="#DA6967" d="M460.52 2079.13H474.19V2091.64H460.52zM487.27 2347.85H500.94V2360.37H487.27z"/>
<path fill="#C9302C" d="M380.26 2127.99H393.94V2140.5H380.26z"/>
</g></g>
</g>
<rect x="72.5" y="1732.9" width="11" height="317.4" fill="#DA6A6A"/>
<rect x="72.5" y="2054.7" width="11" height="415.3" fill="#1B67AB"/>
<text transform="translate(81.1 1892.4) rotate(-90)" font-size="10.5" font-weight="bold" fill="#fff" text-anchor="middle" textLength="91.6" lengthAdjust="spacingAndGlyphs">Up-regulated genes</text>
<text transform="translate(81.1 2245.8) rotate(-90)" font-size="10.5" font-weight="bold" fill="#fff" text-anchor="middle" textLength="104.3" lengthAdjust="spacingAndGlyphs">Down-regulated genes</text>
<path d="M69 1739H57.2V1751.21H69M69 1763.42H58.6V1775.63H69M69 1800.04H57.2V1812.25H69M69 1787.83H47.1V1806.15H57.2M58.6 1769.52H35.8V1796.99H47.1M57.2 1745.11H27.2V1783.26H35.8M69 1836.67H58.6V1848.87H69M69 1824.46H48.5V1842.77H58.6M69 1873.29H58.6V1885.5H69M69 1861.08H48.5V1879.39H58.6M69 1909.91H58.6V1922.12H69M69 1897.7H48.5V1916.02H58.6M48.5 1870.24H38.9V1906.86H48.5M48.5 1833.61H29V1888.55H38.9M69 1934.33H57.2V1946.53H69M69 1970.95H58.6V1983.16H69M69 1958.74H44.2V1977.05H58.6M57.2 1940.43H35.8V1967.9H44.2M69 2007.57H57.2V2019.78H69M69 1995.37H47.1V2013.68H57.2M69 2031.99H58.6V2044.2H69M47.1 2004.52H35.8V2038.09H58.6M35.8 1954.16H29V2021.31H35.8M29 1861.08H18.7V1987.74H29M27.2 1764.18H13.2V1924.41H18.7" fill="none" stroke="#C0C0C0" stroke-width="1.45"/>
<path d="M69 2060.81H61.1V2073.02H69M69 2109.67H61.1V2121.88H69M69 2097.45H54.2V2115.77H61.1M69 2085.24H45.6V2106.61H54.2M61.1 2066.91H38.3V2095.92H45.6M69 2134.1H61.1V2146.31H69M69 2158.52H61.1V2170.74H69M69 2182.95H63V2195.17H69M69 2219.6H63V2231.81H69M69 2207.38H54.2V2225.71H63M63 2189.06H47.4V2216.54H54.2M61.1 2164.63H40.1V2202.8H47.4M61.1 2140.2H32.8V2183.72H40.1M69 2256.24H61.1V2268.46H69M69 2244.03H54.2V2262.35H61.1M69 2292.89H63V2305.1H69M69 2280.67H54.2V2298.99H63M54.2 2253.19H47.4V2289.83H54.2M69 2341.75H63V2353.96H69M69 2329.53H53V2347.85H63M69 2317.32H47.4V2338.69H53M69 2378.39H61.1V2390.6H69M69 2366.18H54.2V2384.5H61.1M69 2402.82H61.1V2415.03H69M69 2451.68H61.1V2463.89H69M69 2439.46H54.2V2457.79H61.1M69 2427.25H47.4V2448.62H54.2M61.1 2408.93H40.1V2437.94H47.4M54.2 2375.34H32.8V2423.43H40.1M47.4 2328H28.2V2399.38H32.8M47.4 2271.51H23.1V2363.69H28.2M32.8 2161.96H17.2V2317.6H23.1M38.3 2081.42H12.7V2239.78H17.2" fill="none" stroke="#C0C0C0" stroke-width="1.45"/>
<g font-size="10.9" fill="#333" stroke="#333" stroke-width="0.28">
<text x="644.6" y="1742.8" textLength="34.01" lengthAdjust="spacingAndGlyphs">FOXM1</text>
<text x="644.6" y="1755.07" textLength="28.32" lengthAdjust="spacingAndGlyphs">ASPM</text>
<text x="644.6" y="1767.34" textLength="31.59" lengthAdjust="spacingAndGlyphs">PTTG1</text>
<text x="644.6" y="1779.61" textLength="30.47" lengthAdjust="spacingAndGlyphs">MCM2</text>
<text x="644.6" y="1791.88" textLength="39.58" lengthAdjust="spacingAndGlyphs">MAD2L1</text>
<text x="644.6" y="1804.15" textLength="33.25" lengthAdjust="spacingAndGlyphs">CCNA2</text>
<text x="644.6" y="1816.42" textLength="39.73" lengthAdjust="spacingAndGlyphs">FAM83D</text>
<text x="644.6" y="1828.69" textLength="33.04" lengthAdjust="spacingAndGlyphs">CDKN3</text>
<text x="644.6" y="1840.96" textLength="38.35" lengthAdjust="spacingAndGlyphs">DEPDC1</text>
<text x="644.6" y="1853.23" textLength="35.84" lengthAdjust="spacingAndGlyphs">MARCO</text>
<text x="644.6" y="1865.5" textLength="36.95" lengthAdjust="spacingAndGlyphs">BCL2A1</text>
<text x="644.6" y="1877.77" textLength="21.88" lengthAdjust="spacingAndGlyphs">MYC</text>
<text x="644.6" y="1890.04" textLength="23.11" lengthAdjust="spacingAndGlyphs">E2F5</text>
<text x="644.6" y="1902.31" textLength="30.47" lengthAdjust="spacingAndGlyphs">MCM3</text>
<text x="644.6" y="1914.58" textLength="31.26" lengthAdjust="spacingAndGlyphs">PSAT1</text>
<text x="644.6" y="1926.85" textLength="18.75" lengthAdjust="spacingAndGlyphs">TTK</text>
<text x="644.6" y="1939.12" textLength="31.73" lengthAdjust="spacingAndGlyphs">CDC20</text>
<text x="644.6" y="1951.39" textLength="32.37" lengthAdjust="spacingAndGlyphs">NDC80</text>
<text x="644.6" y="1963.66" textLength="27.43" lengthAdjust="spacingAndGlyphs">TYMS</text>
<text x="644.6" y="1975.93" textLength="11.48" lengthAdjust="spacingAndGlyphs">F3</text>
<text x="644.6" y="1988.2" textLength="25.55" lengthAdjust="spacingAndGlyphs">RAC3</text>
<text x="644.6" y="2000.47" textLength="32.67" lengthAdjust="spacingAndGlyphs">IL20RB</text>
<text x="644.6" y="2012.74" textLength="30.87" lengthAdjust="spacingAndGlyphs">TFDP1</text>
<text x="644.6" y="2025.01" textLength="39.76" lengthAdjust="spacingAndGlyphs">CDKN2A</text>
<text x="644.6" y="2037.28" textLength="44.06" lengthAdjust="spacingAndGlyphs">PLA2G4A</text>
<text x="644.6" y="2049.55" textLength="24.85" lengthAdjust="spacingAndGlyphs">SKP2</text>
<text x="644.6" y="2061.82" textLength="37.54" lengthAdjust="spacingAndGlyphs">SCUBE2</text>
<text x="644.6" y="2074.09" textLength="42.43" lengthAdjust="spacingAndGlyphs">SLC39A6</text>
<text x="644.6" y="2086.36" textLength="32.01" lengthAdjust="spacingAndGlyphs">AGTR1</text>
<text x="644.6" y="2098.63" textLength="29.77" lengthAdjust="spacingAndGlyphs">SYTL4</text>
<text x="644.6" y="2110.9" textLength="36.75" lengthAdjust="spacingAndGlyphs">TCEAL1</text>
<text x="644.6" y="2123.17" textLength="27.64" lengthAdjust="spacingAndGlyphs">IGF1R</text>
<text x="644.6" y="2135.44" textLength="30.52" lengthAdjust="spacingAndGlyphs">CCL21</text>
<text x="644.6" y="2147.71" textLength="32.52" lengthAdjust="spacingAndGlyphs">PTGDS</text>
<text x="644.6" y="2159.98" textLength="25.03" lengthAdjust="spacingAndGlyphs">CD19</text>
<text x="644.6" y="2172.25" textLength="25.03" lengthAdjust="spacingAndGlyphs">CD27</text>
<text x="644.6" y="2184.52" textLength="31.17" lengthAdjust="spacingAndGlyphs">GZMM</text>
<text x="644.6" y="2196.79" textLength="29.04" lengthAdjust="spacingAndGlyphs">MFNG</text>
<text x="644.6" y="2209.06" textLength="43.39" lengthAdjust="spacingAndGlyphs">RPS6KB1</text>
<text x="644.6" y="2221.33" textLength="39.2" lengthAdjust="spacingAndGlyphs">PYCARD</text>
<text x="644.6" y="2233.6" textLength="25.31" lengthAdjust="spacingAndGlyphs">BBC3</text>
<text x="644.6" y="2245.87" textLength="36.1" lengthAdjust="spacingAndGlyphs">NRCAM</text>
<text x="644.6" y="2258.14" textLength="23.16" lengthAdjust="spacingAndGlyphs">FLT3</text>
<text x="644.6" y="2270.41" textLength="46.02" lengthAdjust="spacingAndGlyphs">MAP3K12</text>
<text x="644.6" y="2282.68" textLength="22.87" lengthAdjust="spacingAndGlyphs">LEF1</text>
<text x="644.6" y="2294.95" textLength="39.13" lengthAdjust="spacingAndGlyphs">PRKACB</text>
<text x="644.6" y="2307.22" textLength="24.64" lengthAdjust="spacingAndGlyphs">JAK2</text>
<text x="644.6" y="2319.49" textLength="34.87" lengthAdjust="spacingAndGlyphs">NFKBIZ</text>
<text x="644.6" y="2331.76" textLength="30.94" lengthAdjust="spacingAndGlyphs">PLCB1</text>
<text x="644.6" y="2344.03" textLength="40.23" lengthAdjust="spacingAndGlyphs">MAP2K4</text>
<text x="644.6" y="2356.3" textLength="29.97" lengthAdjust="spacingAndGlyphs">FGF10</text>
<text x="644.6" y="2368.57" textLength="36.98" lengthAdjust="spacingAndGlyphs">CXCL12</text>
<text x="644.6" y="2380.84" textLength="26.39" lengthAdjust="spacingAndGlyphs">NGFR</text>
<text x="644.6" y="2393.11" textLength="38.6" lengthAdjust="spacingAndGlyphs">TSPAN7</text>
<text x="644.6" y="2405.38" textLength="30.52" lengthAdjust="spacingAndGlyphs">S1PR1</text>
<text x="644.6" y="2417.65" textLength="31.52" lengthAdjust="spacingAndGlyphs">KAT2B</text>
<text x="644.6" y="2429.92" textLength="28.16" lengthAdjust="spacingAndGlyphs">MUC1</text>
<text x="644.6" y="2442.19" textLength="45.83" lengthAdjust="spacingAndGlyphs">KIAA0040</text>
<text x="644.6" y="2454.46" textLength="29.1" lengthAdjust="spacingAndGlyphs">AXIN2</text>
<text x="644.6" y="2466.73" textLength="31.41" lengthAdjust="spacingAndGlyphs">SIGIRR</text>
</g>
<text x="704.8" y="1731.3" font-size="18" fill="#333" font-weight="bold" textLength="148" lengthAdjust="spacingAndGlyphs">60 genes in target</text>
<text x="704.3" y="1753.6" font-size="18.5" fill="#DB6B6B" font-weight="bold" textLength="19.9" lengthAdjust="spacingAndGlyphs">26</text>
<path d="M731.9 1750.8V1738.2M729.7 1741.4L731.9 1738.2L734.1 1741.4" fill="none" stroke="#DB6B6B" stroke-width="1.2"/>
<text x="737.5" y="1753.6" font-size="18.5" fill="#2171B5" font-weight="bold" textLength="20.2" lengthAdjust="spacingAndGlyphs">34</text>
<path d="M764.5 1738.4V1750.8M762.3 1747.6L764.5 1750.8L766.7 1747.6" fill="none" stroke="#2171B5" stroke-width="1.2"/>
<rect x="702.6" y="1763.6" width="98.2" height="42.9" fill="#fff" stroke="#444" stroke-width="1"/>
<rect x="709.5" y="1771.8" width="20" height="9.4" fill="#BC9F8E"/>
<rect x="709.5" y="1789.4" width="20" height="9.4" fill="#FA8072"/>
<text x="735.2" y="1781.1" font-size="12.4" fill="#333" textLength="51.5" lengthAdjust="spacingAndGlyphs">PABC-GS</text>
<text x="735.2" y="1797.8" font-size="12.4" fill="#333" textLength="54.8" lengthAdjust="spacingAndGlyphs">non-PABC</text>
<defs><linearGradient id="cbd" x1="0" x2="1" y1="0" y2="0"><stop offset="0" stop-color="#1B64A9"/><stop offset="0.5" stop-color="#FFFFFF"/><stop offset="1" stop-color="#C5302D"/></linearGradient></defs><rect x="86" y="2477.6" width="550.3" height="5.2" fill="url(#cbd)"/>
<text x="64.7" y="2485.6" font-size="14.3" fill="#8C8C8C" text-anchor="middle" textLength="13.8" lengthAdjust="spacingAndGlyphs">-6</text>
<text x="654.5" y="2485.6" font-size="14.3" fill="#8C8C8C" text-anchor="middle">9</text>
</g>
<g id="panel-e">
<text x="881.7" y="1651.3" font-size="32" fill="#000" font-weight="bold">e.</text>
<text x="1221.8" y="1679.5" font-size="22.4" fill="#404040" font-weight="bold" text-anchor="middle" textLength="305" lengthAdjust="spacingAndGlyphs">DEGs in PABC-PP vs non-PABC</text>
<path d="M980.98 1718.9V1717.7H993.31V1718.9M968.66 1718.9V1715H987.15V1717.7M956.34 1718.9V1712.4H977.9V1715M944.01 1718.9V1710.1H967.12V1712.4M1017.96 1718.9V1717.7H1030.28V1718.9M1005.63 1718.9V1715H1024.12V1717.7M1079.57 1718.9V1717.7H1091.9V1718.9M1067.25 1718.9V1715H1085.74V1717.7M1054.93 1718.9V1712.4H1076.49V1715M1042.6 1718.9V1710.1H1065.71V1712.4M1104.22 1718.9V1709.6H1116.55V1718.9M1153.52 1718.9V1717.7H1165.84V1718.9M1141.19 1718.9V1715H1159.68V1717.7M1128.87 1718.9V1712.4H1150.44V1715M1110.38 1709.6V1708.7H1139.65V1712.4M1054.16 1710.1V1706.2H1125.02V1708.7M1014.87 1715V1703.6H1089.59V1706.2M955.57 1710.1V1700.9H1052.23V1703.6M1178.17 1718.9V1717.7H1190.49V1718.9M1202.81 1718.9V1717.7H1215.14V1718.9M1239.78 1718.9V1717.7H1252.11V1718.9M1227.46 1718.9V1715H1245.95V1717.7M1208.97 1717.7V1712.4H1236.7V1715M1184.33 1717.7V1710.1H1222.84V1712.4M1301.4 1718.9V1717.7H1313.73V1718.9M1289.08 1718.9V1715H1307.57V1717.7M1276.76 1718.9V1712.4H1298.32V1715M1264.43 1718.9V1710.1H1287.54V1712.4M1338.38 1718.9V1717.7H1350.7V1718.9M1326.05 1718.9V1715H1344.54V1717.7M1375.35 1718.9V1717.7H1387.67V1718.9M1363.02 1718.9V1715H1381.51V1717.7M1399.99 1718.9V1717.7H1412.32V1718.9M1461.61 1718.9V1717.7H1473.94V1718.9M1449.29 1718.9V1715H1467.78V1717.7M1436.97 1718.9V1712.4H1458.53V1715M1424.64 1718.9V1710.1H1447.75V1712.4M1406.16 1717.7V1708.9H1436.2V1710.1M1372.27 1715V1706.2H1421.18V1708.9M1335.29 1715V1703.6H1396.72V1706.2M1275.99 1710.1V1700.4H1366.01V1703.6M1203.58 1710.1V1699.2H1321V1700.4M1003.9 1700.9V1696.9H1262.29V1699.2" fill="none" stroke="#C0C0C0" stroke-width="1.45"/>
<path fill="#87BFEF" d="M937.85 1719.4h12.62v9.9h-12.62zM962.5 1719.4h37.27v9.9h-37.27zM1024.12 1719.4h12.62v9.9h-12.62zM1048.76 1719.4h12.62v9.9h-12.62zM1073.41 1719.4h24.95v9.9h-24.95zM1110.38 1719.4h37.27v9.9h-37.27zM1159.68 1719.4h12.62v9.9h-12.62zM1184.33 1719.4h49.6v9.9h-49.6zM1418.48 1719.4h12.62v9.9h-12.62zM1443.13 1719.4h12.62v9.9h-12.62z"/>
<path fill="#F4847A" d="M950.17 1719.4h12.62v9.9h-12.62zM999.47 1719.4h24.95v9.9h-24.95zM1036.44 1719.4h12.62v9.9h-12.62zM1061.09 1719.4h12.62v9.9h-12.62zM1098.06 1719.4h12.62v9.9h-12.62zM1147.36 1719.4h12.62v9.9h-12.62zM1172 1719.4h12.62v9.9h-12.62zM1233.62 1719.4h185.16v9.9h-185.16zM1430.8 1719.4h12.62v9.9h-12.62zM1455.45 1719.4h24.95v9.9h-24.95z"/>
<g id="heat-e">
<clipPath id="clip-eu"><rect x="937.85" y="1731.8" width="542.25" height="120.5"/></clipPath>
<g clip-path="url(#clip-eu)"><g filter="url(#soft)">
<path fill="#E8F0F7" d="M999.47 1728.8H1012.09V1756.2H999.47zM1024.12 1728.8H1036.74V1756.2H1024.12zM1221.3 1728.8H1233.92V1756.2H1221.3zM1245.95 1728.8H1258.57V1756.2H1245.95zM1307.57 1728.8H1320.19V1756.2H1307.57zM1344.54 1728.8H1357.16V1756.2H1344.54zM1443.13 1728.8H1483.4V1756.2H1443.13zM1061.09 1755.9H1098.36V1780.3H1061.09zM1233.62 1755.9H1246.25V1780.3H1233.62zM1406.16 1755.9H1418.78V1780.3H1406.16zM1455.45 1755.9H1483.4V1780.3H1455.45zM1233.62 1780H1246.25V1804.4H1233.62zM1258.27 1780H1270.89V1804.4H1258.27zM974.82 1804.1H987.45V1828.5H974.82zM1344.54 1804.1H1357.16V1828.5H1344.54zM1406.16 1804.1H1418.78V1828.5H1406.16zM1455.45 1804.1H1468.08V1828.5H1455.45zM999.47 1828.2H1012.09V1855.6H999.47zM1085.74 1828.2H1098.36V1855.6H1085.74zM1208.97 1828.2H1221.6V1855.6H1208.97zM1443.13 1828.2H1455.75V1855.6H1443.13z"/>
<path fill="#D1E1EE" d="M1048.76 1728.8H1061.39V1756.2H1048.76zM1073.41 1728.8H1086.04V1756.2H1073.41zM1233.62 1728.8H1246.25V1756.2H1233.62zM1270.59 1728.8H1307.87V1756.2H1270.59zM1332.21 1728.8H1344.84V1756.2H1332.21zM1356.86 1728.8H1369.49V1756.2H1356.86zM1406.16 1728.8H1431.1V1756.2H1406.16zM1245.95 1755.9H1258.57V1780.3H1245.95zM1282.92 1755.9H1295.54V1780.3H1282.92zM974.82 1780H987.45V1804.4H974.82zM1061.09 1780H1073.71V1804.4H1061.09zM1172 1780H1184.63V1804.4H1172zM1332.21 1780H1344.84V1804.4H1332.21zM1061.09 1804.1H1073.71V1828.5H1061.09zM1282.92 1804.1H1295.54V1828.5H1282.92zM1061.09 1828.2H1086.04V1855.6H1061.09zM1196.65 1828.2H1209.27V1855.6H1196.65zM1233.62 1828.2H1246.25V1855.6H1233.62zM1319.89 1828.2H1332.51V1855.6H1319.89zM1344.54 1828.2H1357.16V1855.6H1344.54z"/>
<path fill="#B9D2E6" d="M1061.09 1728.8H1073.71V1756.2H1061.09zM1172 1728.8H1184.63V1756.2H1172zM1319.89 1728.8H1332.51V1756.2H1319.89zM1381.51 1728.8H1394.13V1756.2H1381.51zM1172 1755.9H1184.63V1780.3H1172zM1196.65 1755.9H1209.27V1780.3H1196.65zM1319.89 1755.9H1332.51V1780.3H1319.89zM1344.54 1755.9H1357.16V1780.3H1344.54zM1048.76 1780H1061.39V1804.4H1048.76zM1110.38 1780H1123.01V1804.4H1110.38zM1196.65 1780H1209.27V1804.4H1196.65zM1307.57 1780H1332.51V1804.4H1307.57zM1344.54 1780H1357.16V1804.4H1344.54zM1369.19 1780H1394.13V1804.4H1369.19zM1406.16 1780H1418.78V1804.4H1406.16zM1443.13 1780H1455.75V1804.4H1443.13zM1196.65 1804.1H1209.27V1828.5H1196.65zM1245.95 1804.1H1258.57V1828.5H1245.95zM1307.57 1804.1H1332.51V1828.5H1307.57zM1393.83 1804.1H1406.46V1828.5H1393.83zM1172 1828.2H1184.63V1855.6H1172zM1282.92 1828.2H1295.54V1855.6H1282.92zM1307.57 1828.2H1320.19V1855.6H1307.57zM1356.86 1828.2H1369.49V1855.6H1356.86zM1381.51 1828.2H1394.13V1855.6H1381.51zM1406.16 1828.2H1418.78V1855.6H1406.16zM1455.45 1828.2H1468.08V1855.6H1455.45z"/>
<path fill="#95B9D9" d="M1332.21 1755.9H1344.84V1780.3H1332.21zM1381.51 1755.9H1394.13V1780.3H1381.51zM1085.74 1780H1098.36V1804.4H1085.74zM1245.95 1780H1258.57V1804.4H1245.95zM1295.24 1780H1307.87V1804.4H1295.24zM1393.83 1780H1406.46V1804.4H1393.83zM1233.62 1804.1H1246.25V1828.5H1233.62zM1332.21 1804.1H1344.84V1828.5H1332.21zM1381.51 1804.1H1394.13V1828.5H1381.51zM1245.95 1828.2H1258.57V1855.6H1245.95zM1332.21 1828.2H1344.84V1855.6H1332.21zM1369.19 1828.2H1381.81V1855.6H1369.19zM1393.83 1828.2H1406.46V1855.6H1393.83z"/>
<path fill="#6A9CC9" d="M1393.83 1728.8H1406.46V1756.2H1393.83zM1393.83 1755.9H1406.46V1780.3H1393.83zM1356.86 1780H1369.49V1804.4H1356.86zM1295.24 1804.1H1307.87V1828.5H1295.24zM1356.86 1804.1H1381.81V1828.5H1356.86zM1295.24 1828.2H1307.87V1855.6H1295.24z"/>
<path fill="#3D7DB7" d="M1295.24 1755.9H1307.87V1780.3H1295.24zM1356.86 1755.9H1381.81V1780.3H1356.86z"/>
<path fill="#FBEBEB" d="M950.17 1728.8H962.8V1756.2H950.17zM974.82 1728.8H987.45V1756.2H974.82zM1011.79 1728.8H1024.42V1756.2H1011.79zM1036.44 1728.8H1049.06V1756.2H1036.44zM1085.74 1728.8H1098.36V1756.2H1085.74zM1110.38 1728.8H1123.01V1756.2H1110.38zM1159.68 1728.8H1172.3V1756.2H1159.68zM1196.65 1728.8H1209.27V1756.2H1196.65zM974.82 1755.9H987.45V1780.3H974.82zM999.47 1755.9H1012.09V1780.3H999.47zM1098.06 1755.9H1123.01V1780.3H1098.06zM1184.33 1755.9H1196.95V1780.3H1184.33zM1208.97 1755.9H1221.6V1780.3H1208.97zM1430.8 1755.9H1443.43V1780.3H1430.8zM987.15 1780H1012.09V1804.4H987.15zM1036.44 1780H1049.06V1804.4H1036.44zM1073.41 1780H1086.04V1804.4H1073.41zM1147.36 1780H1159.98V1804.4H1147.36zM1270.59 1780H1283.22V1804.4H1270.59zM1418.48 1780H1443.43V1804.4H1418.48zM1467.78 1780H1483.4V1804.4H1467.78zM962.5 1804.1H975.12V1828.5H962.5zM999.47 1804.1H1024.42V1828.5H999.47zM1073.41 1804.1H1098.36V1828.5H1073.41zM1110.38 1804.1H1123.01V1828.5H1110.38zM1184.33 1804.1H1196.95V1828.5H1184.33zM1208.97 1804.1H1233.92V1828.5H1208.97zM1258.27 1804.1H1270.89V1828.5H1258.27zM1430.8 1804.1H1443.43V1828.5H1430.8zM1467.78 1804.1H1483.4V1828.5H1467.78zM950.17 1828.2H962.8V1855.6H950.17zM1011.79 1828.2H1036.74V1855.6H1011.79zM1122.71 1828.2H1135.33V1855.6H1122.71zM1159.68 1828.2H1172.3V1855.6H1159.68zM1258.27 1828.2H1270.89V1855.6H1258.27zM1418.48 1828.2H1431.1V1855.6H1418.48z"/>
<path fill="#F6D9D9" d="M934.85 1728.8H950.47V1756.2H934.85zM962.5 1728.8H975.12V1756.2H962.5zM987.15 1728.8H999.77V1756.2H987.15zM1122.71 1728.8H1159.98V1756.2H1122.71zM934.85 1755.9H975.12V1780.3H934.85zM987.15 1755.9H999.77V1780.3H987.15zM1011.79 1755.9H1036.74V1780.3H1011.79zM1048.76 1755.9H1061.39V1780.3H1048.76zM1122.71 1755.9H1172.3V1780.3H1122.71zM950.17 1780H962.8V1804.4H950.17zM1024.12 1780H1036.74V1804.4H1024.12zM1135.03 1780H1147.66V1804.4H1135.03zM1455.45 1780H1468.08V1804.4H1455.45zM934.85 1804.1H950.47V1828.5H934.85zM987.15 1804.1H999.77V1828.5H987.15zM1024.12 1804.1H1049.06V1828.5H1024.12zM1122.71 1804.1H1172.3V1828.5H1122.71zM934.85 1828.2H950.47V1855.6H934.85zM962.5 1828.2H975.12V1855.6H962.5zM987.15 1828.2H999.77V1855.6H987.15zM1036.44 1828.2H1049.06V1855.6H1036.44zM1110.38 1828.2H1123.01V1855.6H1110.38zM1135.03 1828.2H1159.98V1855.6H1135.03zM1184.33 1828.2H1196.95V1855.6H1184.33z"/>
<path fill="#EFBFBF" d="M1122.71 1780H1135.33V1804.4H1122.71z"/>
<path fill="#E8A3A3" d="M934.85 1780H950.47V1804.4H934.85z"/>
</g></g>
<clipPath id="clip-ed"><rect x="937.85" y="1856.2" width="542.25" height="604.8"/></clipPath>
<g clip-path="url(#clip-ed)"><g filter="url(#soft)">
<path fill="#E8F0F7" d="M1085.74 1853.2H1098.36V1880.69H1085.74zM1430.8 1853.2H1443.43V1880.69H1430.8zM934.85 1880.39H950.47V1904.88H934.85zM999.47 1880.39H1024.42V1904.88H999.47zM1159.68 1880.39H1184.63V1904.88H1159.68zM974.82 1904.58H999.77V1929.08H974.82zM1196.65 1904.58H1221.6V1929.08H1196.65zM1061.09 1952.97H1073.71V1977.46H1061.09zM1098.06 1952.97H1110.68V1977.46H1098.06zM1418.48 1952.97H1431.1V1977.46H1418.48zM1467.78 1952.97H1483.4V1977.46H1467.78zM974.82 1977.16H987.45V2001.65H974.82zM1233.62 1977.16H1246.25V2001.65H1233.62zM1282.92 1977.16H1295.54V2001.65H1282.92zM1455.45 1977.16H1468.08V2001.65H1455.45zM999.47 2001.35H1024.42V2025.84H999.47zM1061.09 2001.35H1073.71V2025.84H1061.09zM1098.06 2001.35H1110.68V2025.84H1098.06zM1221.3 2001.35H1233.92V2025.84H1221.3zM1430.8 2025.54H1443.43V2050.04H1430.8zM950.17 2049.74H962.8V2074.23H950.17zM1011.79 2049.74H1024.42V2074.23H1011.79zM1073.41 2049.74H1086.04V2074.23H1073.41zM1098.06 2049.74H1123.01V2074.23H1098.06zM1147.36 2049.74H1159.98V2074.23H1147.36zM1196.65 2049.74H1209.27V2074.23H1196.65zM1455.45 2049.74H1468.08V2074.23H1455.45zM1073.41 2073.93H1086.04V2098.42H1073.41zM1098.06 2073.93H1110.68V2098.42H1098.06zM1159.68 2073.93H1172.3V2098.42H1159.68zM1196.65 2073.93H1209.27V2098.42H1196.65zM1233.62 2073.93H1246.25V2098.42H1233.62zM1418.48 2073.93H1431.1V2098.42H1418.48zM934.85 2098.12H950.47V2122.61H934.85zM987.15 2098.12H999.77V2122.61H987.15zM1147.36 2098.12H1172.3V2122.61H1147.36zM1196.65 2098.12H1209.27V2122.61H1196.65zM987.15 2122.31H999.77V2146.8H987.15zM1369.19 2122.31H1381.81V2146.8H1369.19zM934.85 2146.5H950.47V2171H934.85zM962.5 2146.5H975.12V2171H962.5zM1011.79 2146.5H1024.42V2171H1011.79zM1048.76 2146.5H1061.39V2171H1048.76zM1098.06 2146.5H1110.68V2171H1098.06zM1172 2146.5H1196.95V2171H1172zM1221.3 2146.5H1233.92V2171H1221.3zM1258.27 2146.5H1270.89V2171H1258.27zM1418.48 2146.5H1431.1V2171H1418.48zM987.15 2170.7H999.77V2195.19H987.15zM1430.8 2170.7H1443.43V2195.19H1430.8zM1036.44 2194.89H1049.06V2219.38H1036.44zM1073.41 2194.89H1086.04V2219.38H1073.41zM1221.3 2194.89H1233.92V2219.38H1221.3zM1011.79 2219.08H1024.42V2243.57H1011.79zM1147.36 2219.08H1159.98V2243.57H1147.36zM950.17 2243.27H962.8V2267.76H950.17zM1221.3 2243.27H1233.92V2267.76H1221.3zM1282.92 2243.27H1295.54V2267.76H1282.92zM1418.48 2243.27H1431.1V2267.76H1418.48zM987.15 2267.46H999.77V2291.96H987.15zM1048.76 2267.46H1061.39V2291.96H1048.76zM1122.71 2267.46H1135.33V2291.96H1122.71zM1221.3 2267.46H1233.92V2291.96H1221.3zM1430.8 2267.46H1443.43V2291.96H1430.8zM1061.09 2291.66H1073.71V2316.15H1061.09zM1184.33 2291.66H1196.95V2316.15H1184.33zM1233.62 2291.66H1246.25V2316.15H1233.62zM1048.76 2315.85H1061.39V2340.34H1048.76zM1159.68 2315.85H1172.3V2340.34H1159.68zM1245.95 2315.85H1270.89V2340.34H1245.95zM1295.24 2315.85H1307.87V2340.34H1295.24zM1467.78 2315.85H1483.4V2340.34H1467.78zM934.85 2340.04H987.45V2364.53H934.85zM1135.03 2340.04H1147.66V2364.53H1135.03zM1159.68 2340.04H1172.3V2364.53H1159.68zM962.5 2364.23H975.12V2388.72H962.5zM1011.79 2364.23H1024.42V2388.72H1011.79zM1098.06 2364.23H1110.68V2388.72H1098.06zM1147.36 2364.23H1172.3V2388.72H1147.36zM1208.97 2364.23H1221.6V2388.72H1208.97zM1467.78 2364.23H1483.4V2388.72H1467.78zM950.17 2388.42H962.8V2412.92H950.17zM987.15 2388.42H999.77V2412.92H987.15zM1024.12 2388.42H1036.74V2412.92H1024.12zM1443.13 2388.42H1455.75V2412.92H1443.13zM1061.09 2412.62H1073.71V2437.11H1061.09zM1369.19 2412.62H1381.81V2437.11H1369.19zM1406.16 2412.62H1418.78V2437.11H1406.16zM962.5 2436.81H987.45V2464.3H962.5zM1196.65 2436.81H1221.6V2464.3H1196.65zM1369.19 2436.81H1394.13V2464.3H1369.19zM1455.45 2436.81H1468.08V2464.3H1455.45z"/>
<path fill="#D1E1EE" d="M934.85 1853.2H950.47V1880.69H934.85zM974.82 1853.2H999.77V1880.69H974.82zM1011.79 1853.2H1036.74V1880.69H1011.79zM1073.41 1853.2H1086.04V1880.69H1073.41zM1135.03 1853.2H1147.66V1880.69H1135.03zM1208.97 1853.2H1221.6V1880.69H1208.97zM1258.27 1853.2H1270.89V1880.69H1258.27zM950.17 1880.39H999.77V1904.88H950.17zM1208.97 1880.39H1221.6V1904.88H1208.97zM1024.12 1904.58H1036.74V1929.08H1024.12zM1073.41 1904.58H1086.04V1929.08H1073.41zM1184.33 1904.58H1196.95V1929.08H1184.33zM1418.48 1904.58H1431.1V1929.08H1418.48zM1073.41 1928.78H1086.04V1953.27H1073.41zM1381.51 1928.78H1394.13V1953.27H1381.51zM1443.13 1928.78H1483.4V1953.27H1443.13zM934.85 1952.97H962.8V1977.46H934.85zM974.82 1952.97H987.45V1977.46H974.82zM1085.74 1952.97H1098.36V1977.46H1085.74zM1110.38 1952.97H1123.01V1977.46H1110.38zM1135.03 1952.97H1147.66V1977.46H1135.03zM1430.8 1952.97H1443.43V1977.46H1430.8zM1455.45 1952.97H1468.08V1977.46H1455.45zM934.85 1977.16H950.47V2001.65H934.85zM1135.03 1977.16H1147.66V2001.65H1135.03zM1430.8 1977.16H1443.43V2001.65H1430.8zM934.85 2001.35H950.47V2025.84H934.85zM1048.76 2001.35H1061.39V2025.84H1048.76zM1073.41 2001.35H1086.04V2025.84H1073.41zM1135.03 2001.35H1147.66V2025.84H1135.03zM1159.68 2001.35H1172.3V2025.84H1159.68zM1418.48 2001.35H1431.1V2025.84H1418.48zM1024.12 2025.54H1036.74V2050.04H1024.12zM962.5 2049.74H975.12V2074.23H962.5zM1024.12 2049.74H1036.74V2074.23H1024.12zM1147.36 2073.93H1159.98V2098.42H1147.36zM1258.27 2073.93H1270.89V2098.42H1258.27zM1024.12 2098.12H1036.74V2122.61H1024.12zM1098.06 2098.12H1110.68V2122.61H1098.06zM1135.03 2098.12H1147.66V2122.61H1135.03zM1221.3 2098.12H1233.92V2122.61H1221.3zM1258.27 2098.12H1270.89V2122.61H1258.27zM974.82 2122.31H987.45V2146.8H974.82zM1024.12 2122.31H1036.74V2146.8H1024.12zM1048.76 2122.31H1073.71V2146.8H1048.76zM987.15 2146.5H999.77V2171H987.15zM1073.41 2146.5H1086.04V2171H1073.41zM1135.03 2146.5H1147.66V2171H1135.03zM1233.62 2146.5H1246.25V2171H1233.62zM934.85 2170.7H950.47V2195.19H934.85zM999.47 2170.7H1012.09V2195.19H999.47zM1024.12 2170.7H1036.74V2195.19H1024.12zM1159.68 2170.7H1196.95V2195.19H1159.68zM1295.24 2170.7H1307.87V2195.19H1295.24zM1455.45 2170.7H1468.08V2195.19H1455.45zM962.5 2194.89H975.12V2219.38H962.5zM987.15 2194.89H999.77V2219.38H987.15zM1098.06 2194.89H1110.68V2219.38H1098.06zM1147.36 2194.89H1172.3V2219.38H1147.36zM1196.65 2194.89H1209.27V2219.38H1196.65zM962.5 2219.08H975.12V2243.57H962.5zM1073.41 2219.08H1086.04V2243.57H1073.41zM1110.38 2219.08H1123.01V2243.57H1110.38zM1418.48 2219.08H1431.1V2243.57H1418.48zM934.85 2243.27H950.47V2267.76H934.85zM1011.79 2243.27H1061.39V2267.76H1011.79zM1085.74 2243.27H1135.33V2267.76H1085.74zM1184.33 2243.27H1196.95V2267.76H1184.33zM1393.83 2243.27H1418.78V2267.76H1393.83zM1443.13 2243.27H1468.08V2267.76H1443.13zM974.82 2267.46H987.45V2291.96H974.82zM1024.12 2267.46H1036.74V2291.96H1024.12zM1061.09 2267.46H1086.04V2291.96H1061.09zM1098.06 2267.46H1110.68V2291.96H1098.06zM1135.03 2267.46H1147.66V2291.96H1135.03zM934.85 2291.66H950.47V2316.15H934.85zM962.5 2291.66H975.12V2316.15H962.5zM1024.12 2291.66H1036.74V2316.15H1024.12zM1073.41 2291.66H1086.04V2316.15H1073.41zM1172 2291.66H1184.63V2316.15H1172zM974.82 2315.85H987.45V2340.34H974.82zM1135.03 2315.85H1147.66V2340.34H1135.03zM1172 2315.85H1184.63V2340.34H1172zM1196.65 2315.85H1209.27V2340.34H1196.65zM1307.57 2315.85H1320.19V2340.34H1307.57zM1418.48 2315.85H1431.1V2340.34H1418.48zM1443.13 2315.85H1468.08V2340.34H1443.13zM999.47 2340.04H1012.09V2364.53H999.47zM1061.09 2340.04H1073.71V2364.53H1061.09zM1085.74 2340.04H1098.36V2364.53H1085.74zM1024.12 2364.23H1036.74V2388.72H1024.12zM1085.74 2364.23H1098.36V2388.72H1085.74zM1122.71 2364.23H1135.33V2388.72H1122.71zM1184.33 2364.23H1196.95V2388.72H1184.33zM1443.13 2364.23H1455.75V2388.72H1443.13zM934.85 2388.42H950.47V2412.92H934.85zM974.82 2388.42H987.45V2412.92H974.82zM1098.06 2388.42H1110.68V2412.92H1098.06zM1159.68 2388.42H1172.3V2412.92H1159.68zM934.85 2412.62H962.8V2437.11H934.85zM1073.41 2412.62H1086.04V2437.11H1073.41zM1196.65 2412.62H1209.27V2437.11H1196.65zM1418.48 2412.62H1431.1V2437.11H1418.48zM1455.45 2412.62H1468.08V2437.11H1455.45zM934.85 2436.81H950.47V2464.3H934.85zM999.47 2436.81H1012.09V2464.3H999.47zM1048.76 2436.81H1061.39V2464.3H1048.76zM1307.57 2436.81H1320.19V2464.3H1307.57z"/>
<path fill="#B9D2E6" d="M950.17 1853.2H975.12V1880.69H950.17zM1048.76 1853.2H1061.39V1880.69H1048.76zM1221.3 1853.2H1233.92V1880.69H1221.3zM1418.48 1853.2H1431.1V1880.69H1418.48zM1048.76 1880.39H1061.39V1904.88H1048.76zM1135.03 1880.39H1147.66V1904.88H1135.03zM1184.33 1880.39H1209.27V1904.88H1184.33zM962.5 1904.58H975.12V1929.08H962.5zM1098.06 1904.58H1110.68V1929.08H1098.06zM1135.03 1904.58H1147.66V1929.08H1135.03zM1221.3 1904.58H1233.92V1929.08H1221.3zM934.85 1928.78H962.8V1953.27H934.85zM1147.36 1928.78H1159.98V1953.27H1147.36zM1196.65 1928.78H1221.6V1953.27H1196.65zM1011.79 1952.97H1024.42V1977.46H1011.79zM1221.3 1952.97H1233.92V1977.46H1221.3zM962.5 1977.16H975.12V2001.65H962.5zM1024.12 1977.16H1036.74V2001.65H1024.12zM1048.76 1977.16H1061.39V2001.65H1048.76zM1073.41 1977.16H1086.04V2001.65H1073.41zM1098.06 1977.16H1135.33V2001.65H1098.06zM1159.68 1977.16H1172.3V2001.65H1159.68zM950.17 2001.35H999.77V2025.84H950.17zM1036.44 2001.35H1049.06V2025.84H1036.44zM1110.38 2001.35H1123.01V2025.84H1110.38zM1172 2001.35H1184.63V2025.84H1172zM974.82 2025.54H987.45V2050.04H974.82zM1036.44 2025.54H1049.06V2050.04H1036.44zM1443.13 2025.54H1455.75V2050.04H1443.13zM1048.76 2049.74H1061.39V2074.23H1048.76zM1135.03 2049.74H1147.66V2074.23H1135.03zM1159.68 2049.74H1172.3V2074.23H1159.68zM1443.13 2049.74H1455.75V2074.23H1443.13zM1024.12 2073.93H1036.74V2098.42H1024.12zM1208.97 2073.93H1221.6V2098.42H1208.97zM1307.57 2073.93H1320.19V2098.42H1307.57zM950.17 2098.12H962.8V2122.61H950.17zM1036.44 2098.12H1098.36V2122.61H1036.44zM934.85 2122.31H975.12V2146.8H934.85zM999.47 2122.31H1012.09V2146.8H999.47zM1085.74 2122.31H1110.68V2146.8H1085.74zM1135.03 2122.31H1172.3V2146.8H1135.03zM950.17 2146.5H962.8V2171H950.17zM974.82 2146.5H987.45V2171H974.82zM999.47 2146.5H1012.09V2171H999.47zM1147.36 2146.5H1172.3V2171H1147.36zM1135.03 2170.7H1147.66V2195.19H1135.03zM1208.97 2170.7H1233.92V2195.19H1208.97zM1319.89 2170.7H1332.51V2195.19H1319.89zM999.47 2194.89H1012.09V2219.38H999.47zM1048.76 2194.89H1061.39V2219.38H1048.76zM1135.03 2194.89H1147.66V2219.38H1135.03zM1172 2194.89H1184.63V2219.38H1172zM1418.48 2194.89H1443.43V2219.38H1418.48zM1085.74 2219.08H1098.36V2243.57H1085.74zM1393.83 2219.08H1418.78V2243.57H1393.83zM962.5 2243.27H975.12V2267.76H962.5zM999.47 2243.27H1012.09V2267.76H999.47zM1135.03 2243.27H1147.66V2267.76H1135.03zM934.85 2267.46H950.47V2291.96H934.85zM999.47 2267.46H1012.09V2291.96H999.47zM1085.74 2267.46H1098.36V2291.96H1085.74zM974.82 2291.66H1012.09V2316.15H974.82zM1036.44 2291.66H1049.06V2316.15H1036.44zM1393.83 2291.66H1406.46V2316.15H1393.83zM1085.74 2315.85H1098.36V2340.34H1085.74zM1184.33 2315.85H1196.95V2340.34H1184.33zM1208.97 2315.85H1233.92V2340.34H1208.97zM1048.76 2340.04H1061.39V2364.53H1048.76zM1110.38 2340.04H1123.01V2364.53H1110.38zM1172 2340.04H1196.95V2364.53H1172zM1221.3 2340.04H1233.92V2364.53H1221.3zM1443.13 2340.04H1483.4V2364.53H1443.13zM934.85 2364.23H950.47V2388.72H934.85zM974.82 2364.23H987.45V2388.72H974.82zM1048.76 2364.23H1061.39V2388.72H1048.76zM1110.38 2364.23H1123.01V2388.72H1110.38zM1455.45 2364.23H1468.08V2388.72H1455.45zM1011.79 2388.42H1024.42V2412.92H1011.79zM1208.97 2388.42H1246.25V2412.92H1208.97zM987.15 2412.62H999.77V2437.11H987.15zM1135.03 2412.62H1172.3V2437.11H1135.03zM1208.97 2412.62H1233.92V2437.11H1208.97zM1135.03 2436.81H1147.66V2464.3H1135.03zM1184.33 2436.81H1196.95V2464.3H1184.33zM1418.48 2436.81H1431.1V2464.3H1418.48z"/>
<path fill="#95B9D9" d="M1184.33 1853.2H1196.95V1880.69H1184.33zM1110.38 1880.39H1135.33V1904.88H1110.38zM1147.36 1880.39H1159.98V1904.88H1147.36zM1221.3 1880.39H1233.92V1904.88H1221.3zM950.17 1904.58H962.8V1929.08H950.17zM1061.09 1904.58H1073.71V1929.08H1061.09zM1110.38 1904.58H1123.01V1929.08H1110.38zM987.15 1928.78H999.77V1953.27H987.15zM1048.76 1928.78H1061.39V1953.27H1048.76zM1122.71 1928.78H1135.33V1953.27H1122.71zM1172 1928.78H1196.95V1953.27H1172zM1295.24 1928.78H1307.87V1953.27H1295.24zM1369.19 1928.78H1381.81V1953.27H1369.19zM1073.41 1952.97H1086.04V1977.46H1073.41zM950.17 1977.16H962.8V2001.65H950.17zM1147.36 1977.16H1159.98V2001.65H1147.36zM1172 1977.16H1184.63V2001.65H1172zM1221.3 1977.16H1233.92V2001.65H1221.3zM1147.36 2001.35H1159.98V2025.84H1147.36zM1073.41 2025.54H1086.04V2050.04H1073.41zM1098.06 2025.54H1110.68V2050.04H1098.06zM1172 2025.54H1184.63V2050.04H1172zM1196.65 2025.54H1209.27V2050.04H1196.65zM1221.3 2025.54H1233.92V2050.04H1221.3zM1393.83 2025.54H1406.46V2050.04H1393.83zM987.15 2049.74H999.77V2074.23H987.15zM1122.71 2049.74H1135.33V2074.23H1122.71zM987.15 2073.93H1012.09V2098.42H987.15zM1172 2098.12H1184.63V2122.61H1172zM1418.48 2098.12H1431.1V2122.61H1418.48zM1184.33 2122.31H1196.95V2146.8H1184.33zM1393.83 2122.31H1406.46V2146.8H1393.83zM1036.44 2146.5H1049.06V2171H1036.44zM1110.38 2146.5H1135.33V2171H1110.38zM962.5 2170.7H987.45V2195.19H962.5zM950.17 2194.89H962.8V2219.38H950.17zM1122.71 2194.89H1135.33V2219.38H1122.71zM1184.33 2194.89H1196.95V2219.38H1184.33zM1258.27 2194.89H1270.89V2219.38H1258.27zM987.15 2219.08H999.77V2243.57H987.15zM1061.09 2219.08H1073.71V2243.57H1061.09zM1098.06 2219.08H1110.68V2243.57H1098.06zM1122.71 2219.08H1147.66V2243.57H1122.71zM1159.68 2219.08H1172.3V2243.57H1159.68zM1443.13 2219.08H1455.75V2243.57H1443.13zM974.82 2243.27H987.45V2267.76H974.82zM1147.36 2243.27H1172.3V2267.76H1147.36zM1147.36 2267.46H1172.3V2291.96H1147.36zM950.17 2291.66H962.8V2316.15H950.17zM1085.74 2291.66H1110.68V2316.15H1085.74zM1122.71 2291.66H1172.3V2316.15H1122.71zM1110.38 2315.85H1123.01V2340.34H1110.38zM1369.19 2315.85H1381.81V2340.34H1369.19zM1122.71 2340.04H1135.33V2364.53H1122.71zM1208.97 2340.04H1221.6V2364.53H1208.97zM962.5 2388.42H975.12V2412.92H962.5zM999.47 2388.42H1012.09V2412.92H999.47zM1085.74 2388.42H1098.36V2412.92H1085.74zM1122.71 2388.42H1135.33V2412.92H1122.71zM1147.36 2388.42H1159.98V2412.92H1147.36zM962.5 2412.62H987.45V2437.11H962.5zM1184.33 2412.62H1196.95V2437.11H1184.33zM1122.71 2436.81H1135.33V2464.3H1122.71z"/>
<path fill="#6A9CC9" d="M1110.38 1853.2H1123.01V1880.69H1110.38zM1159.68 1853.2H1172.3V1880.69H1159.68zM934.85 1904.58H950.47V1929.08H934.85zM1036.44 1904.58H1061.39V1929.08H1036.44zM1122.71 1904.58H1135.33V1929.08H1122.71zM1147.36 1904.58H1159.98V1929.08H1147.36zM1172 1904.58H1184.63V1929.08H1172zM1221.3 1928.78H1233.92V1953.27H1221.3zM1258.27 1928.78H1270.89V1953.27H1258.27zM962.5 1952.97H975.12V1977.46H962.5zM1036.44 1952.97H1049.06V1977.46H1036.44zM1159.68 1952.97H1184.63V1977.46H1159.68zM1036.44 1977.16H1049.06V2001.65H1036.44zM1122.71 2001.35H1135.33V2025.84H1122.71zM1011.79 2025.54H1024.42V2050.04H1011.79zM1110.38 2025.54H1172.3V2050.04H1110.38zM974.82 2049.74H987.45V2074.23H974.82zM974.82 2073.93H987.45V2098.42H974.82zM1122.71 2073.93H1135.33V2098.42H1122.71zM1110.38 2098.12H1123.01V2122.61H1110.38zM1393.83 2098.12H1406.46V2122.61H1393.83zM1110.38 2122.31H1135.33V2146.8H1110.38zM1048.76 2170.7H1061.39V2195.19H1048.76zM1122.71 2170.7H1135.33V2195.19H1122.71zM1418.48 2170.7H1431.1V2195.19H1418.48zM974.82 2219.08H987.45V2243.57H974.82zM999.47 2219.08H1012.09V2243.57H999.47zM1048.76 2219.08H1061.39V2243.57H1048.76zM1147.36 2340.04H1159.98V2364.53H1147.36zM1418.48 2364.23H1431.1V2388.72H1418.48zM1135.03 2388.42H1147.66V2412.92H1135.03zM1048.76 2412.62H1061.39V2437.11H1048.76zM1110.38 2412.62H1123.01V2437.11H1110.38zM1110.38 2436.81H1123.01V2464.3H1110.38z"/>
<path fill="#3D7DB7" d="M1122.71 1853.2H1135.33V1880.69H1122.71zM1122.71 1952.97H1135.33V1977.46H1122.71zM962.5 2098.12H975.12V2122.61H962.5zM1122.71 2098.12H1135.33V2122.61H1122.71zM950.17 2170.7H962.8V2195.19H950.17zM1110.38 2194.89H1123.01V2219.38H1110.38zM1024.12 2219.08H1049.06V2243.57H1024.12zM987.15 2243.27H999.77V2267.76H987.15zM1036.44 2267.46H1049.06V2291.96H1036.44zM1110.38 2267.46H1123.01V2291.96H1110.38zM1110.38 2291.66H1123.01V2316.15H1110.38zM1172 2364.23H1184.63V2388.72H1172zM1122.71 2412.62H1135.33V2437.11H1122.71z"/>
<path fill="#1F68AD" d="M1036.44 1853.2H1049.06V1880.69H1036.44zM1147.36 1853.2H1159.98V1880.69H1147.36zM1036.44 1880.39H1049.06V1904.88H1036.44zM1036.44 1928.78H1049.06V1953.27H1036.44zM1110.38 1928.78H1123.01V1953.27H1110.38zM1147.36 1952.97H1159.98V1977.46H1147.36zM1110.38 2388.42H1123.01V2412.92H1110.38z"/>
<path fill="#FBEBEB" d="M1233.62 1853.2H1246.25V1880.69H1233.62zM1332.21 1853.2H1357.16V1880.69H1332.21zM1381.51 1853.2H1406.46V1880.69H1381.51zM1455.45 1853.2H1468.08V1880.69H1455.45zM1085.74 1880.39H1098.36V1904.88H1085.74zM1245.95 1880.39H1258.57V1904.88H1245.95zM1282.92 1880.39H1307.87V1904.88H1282.92zM1319.89 1880.39H1357.16V1904.88H1319.89zM1369.19 1880.39H1394.13V1904.88H1369.19zM1406.16 1880.39H1418.78V1904.88H1406.16zM1443.13 1880.39H1483.4V1904.88H1443.13zM999.47 1904.58H1024.42V1929.08H999.47zM1233.62 1904.58H1258.57V1929.08H1233.62zM1344.54 1904.58H1357.16V1929.08H1344.54zM1406.16 1904.58H1418.78V1929.08H1406.16zM1430.8 1904.58H1443.43V1929.08H1430.8zM1455.45 1904.58H1483.4V1929.08H1455.45zM962.5 1928.78H975.12V1953.27H962.5zM999.47 1928.78H1036.74V1953.27H999.47zM1098.06 1928.78H1110.68V1953.27H1098.06zM1233.62 1928.78H1258.57V1953.27H1233.62zM1319.89 1928.78H1369.49V1953.27H1319.89zM1406.16 1928.78H1418.78V1953.27H1406.16zM1184.33 1952.97H1196.95V1977.46H1184.33zM1208.97 1952.97H1221.6V1977.46H1208.97zM1233.62 1952.97H1246.25V1977.46H1233.62zM1258.27 1952.97H1270.89V1977.46H1258.27zM1332.21 1952.97H1344.84V1977.46H1332.21zM1393.83 1952.97H1406.46V1977.46H1393.83zM1443.13 1952.97H1455.75V1977.46H1443.13zM1184.33 1977.16H1209.27V2001.65H1184.33zM1258.27 1977.16H1270.89V2001.65H1258.27zM1295.24 1977.16H1320.19V2001.65H1295.24zM1406.16 1977.16H1431.1V2001.65H1406.16zM1245.95 2001.35H1258.57V2025.84H1245.95zM1282.92 2001.35H1357.16V2025.84H1282.92zM1406.16 2001.35H1418.78V2025.84H1406.16zM1443.13 2001.35H1455.75V2025.84H1443.13zM1467.78 2001.35H1483.4V2025.84H1467.78zM934.85 2025.54H950.47V2050.04H934.85zM1048.76 2025.54H1073.71V2050.04H1048.76zM1282.92 2025.54H1295.54V2050.04H1282.92zM1369.19 2025.54H1394.13V2050.04H1369.19zM1036.44 2049.74H1049.06V2074.23H1036.44zM1172 2049.74H1184.63V2074.23H1172zM1233.62 2049.74H1270.89V2074.23H1233.62zM1282.92 2049.74H1332.51V2074.23H1282.92zM1344.54 2049.74H1394.13V2074.23H1344.54zM1467.78 2049.74H1483.4V2074.23H1467.78zM950.17 2073.93H962.8V2098.42H950.17zM1061.09 2073.93H1073.71V2098.42H1061.09zM1184.33 2073.93H1196.95V2098.42H1184.33zM1221.3 2073.93H1233.92V2098.42H1221.3zM1270.59 2073.93H1307.87V2098.42H1270.59zM1319.89 2073.93H1332.51V2098.42H1319.89zM1344.54 2073.93H1357.16V2098.42H1344.54zM1369.19 2073.93H1381.81V2098.42H1369.19zM1393.83 2073.93H1418.78V2098.42H1393.83zM999.47 2098.12H1012.09V2122.61H999.47zM1184.33 2098.12H1196.95V2122.61H1184.33zM1270.59 2098.12H1283.22V2122.61H1270.59zM1307.57 2098.12H1320.19V2122.61H1307.57zM1356.86 2098.12H1369.49V2122.61H1356.86zM1430.8 2098.12H1443.43V2122.61H1430.8zM1233.62 2122.31H1246.25V2146.8H1233.62zM1406.16 2122.31H1418.78V2146.8H1406.16zM1430.8 2122.31H1443.43V2146.8H1430.8zM1061.09 2146.5H1073.71V2171H1061.09zM1196.65 2146.5H1209.27V2171H1196.65zM1245.95 2146.5H1258.57V2171H1245.95zM1270.59 2146.5H1295.54V2171H1270.59zM1307.57 2146.5H1320.19V2171H1307.57zM1332.21 2146.5H1381.81V2171H1332.21zM1393.83 2146.5H1418.78V2171H1393.83zM1430.8 2146.5H1443.43V2171H1430.8zM1455.45 2146.5H1483.4V2171H1455.45zM1061.09 2170.7H1073.71V2195.19H1061.09zM1085.74 2170.7H1123.01V2195.19H1085.74zM1233.62 2170.7H1270.89V2195.19H1233.62zM1332.21 2170.7H1357.16V2195.19H1332.21zM1024.12 2194.89H1036.74V2219.38H1024.12zM1061.09 2194.89H1073.71V2219.38H1061.09zM1208.97 2194.89H1221.6V2219.38H1208.97zM1245.95 2194.89H1258.57V2219.38H1245.95zM1282.92 2194.89H1295.54V2219.38H1282.92zM1319.89 2194.89H1344.84V2219.38H1319.89zM1369.19 2194.89H1381.81V2219.38H1369.19zM1393.83 2194.89H1418.78V2219.38H1393.83zM934.85 2219.08H950.47V2243.57H934.85zM1196.65 2219.08H1221.6V2243.57H1196.65zM1295.24 2219.08H1344.84V2243.57H1295.24zM1430.8 2219.08H1443.43V2243.57H1430.8zM1467.78 2219.08H1483.4V2243.57H1467.78zM1233.62 2243.27H1246.25V2267.76H1233.62zM1270.59 2243.27H1283.22V2267.76H1270.59zM1307.57 2243.27H1320.19V2267.76H1307.57zM1369.19 2243.27H1381.81V2267.76H1369.19zM1467.78 2243.27H1483.4V2267.76H1467.78zM1011.79 2267.46H1024.42V2291.96H1011.79zM1172 2267.46H1196.95V2291.96H1172zM1208.97 2267.46H1221.6V2291.96H1208.97zM1233.62 2267.46H1246.25V2291.96H1233.62zM1319.89 2267.46H1344.84V2291.96H1319.89zM1356.86 2267.46H1369.49V2291.96H1356.86zM1381.51 2267.46H1394.13V2291.96H1381.51zM1443.13 2267.46H1483.4V2291.96H1443.13zM1196.65 2291.66H1221.6V2316.15H1196.65zM1418.48 2291.66H1431.1V2316.15H1418.48zM950.17 2315.85H975.12V2340.34H950.17zM999.47 2315.85H1024.42V2340.34H999.47zM1122.71 2315.85H1135.33V2340.34H1122.71zM1233.62 2315.85H1246.25V2340.34H1233.62zM1270.59 2315.85H1295.54V2340.34H1270.59zM1319.89 2315.85H1344.84V2340.34H1319.89zM1393.83 2315.85H1418.78V2340.34H1393.83zM1245.95 2340.04H1258.57V2364.53H1245.95zM1282.92 2340.04H1295.54V2364.53H1282.92zM1319.89 2340.04H1344.84V2364.53H1319.89zM1356.86 2340.04H1369.49V2364.53H1356.86zM1381.51 2340.04H1394.13V2364.53H1381.51zM1406.16 2340.04H1418.78V2364.53H1406.16zM1430.8 2340.04H1443.43V2364.53H1430.8zM1221.3 2364.23H1246.25V2388.72H1221.3zM1356.86 2364.23H1394.13V2388.72H1356.86zM1430.8 2364.23H1443.43V2388.72H1430.8zM1061.09 2388.42H1086.04V2412.92H1061.09zM1184.33 2388.42H1196.95V2412.92H1184.33zM1258.27 2388.42H1307.87V2412.92H1258.27zM1393.83 2388.42H1431.1V2412.92H1393.83zM1467.78 2388.42H1483.4V2412.92H1467.78zM999.47 2412.62H1012.09V2437.11H999.47zM1024.12 2412.62H1036.74V2437.11H1024.12zM1245.95 2412.62H1258.57V2437.11H1245.95zM1282.92 2412.62H1307.87V2437.11H1282.92zM1319.89 2412.62H1357.16V2437.11H1319.89zM1011.79 2436.81H1024.42V2464.3H1011.79zM1061.09 2436.81H1073.71V2464.3H1061.09zM1270.59 2436.81H1295.54V2464.3H1270.59zM1319.89 2436.81H1344.84V2464.3H1319.89zM1356.86 2436.81H1369.49V2464.3H1356.86zM1443.13 2436.81H1455.75V2464.3H1443.13zM1467.78 2436.81H1483.4V2464.3H1467.78z"/>
<path fill="#F6D9D9" d="M1282.92 1853.2H1332.51V1880.69H1282.92zM1443.13 1853.2H1455.75V1880.69H1443.13zM1467.78 1853.2H1483.4V1880.69H1467.78zM1307.57 1880.39H1320.19V1904.88H1307.57zM1356.86 1880.39H1369.49V1904.88H1356.86zM1085.74 1904.58H1098.36V1929.08H1085.74zM1282.92 1904.58H1344.84V1929.08H1282.92zM1369.19 1904.58H1394.13V1929.08H1369.19zM974.82 1928.78H987.45V1953.27H974.82zM1135.03 1928.78H1147.66V1953.27H1135.03zM1159.68 1928.78H1172.3V1953.27H1159.68zM1430.8 1928.78H1443.43V1953.27H1430.8zM1282.92 1952.97H1332.51V1977.46H1282.92zM1356.86 1952.97H1369.49V1977.46H1356.86zM1381.51 1952.97H1394.13V1977.46H1381.51zM1245.95 1977.16H1258.57V2001.65H1245.95zM1270.59 1977.16H1283.22V2001.65H1270.59zM1356.86 1977.16H1394.13V2001.65H1356.86zM1270.59 2001.35H1283.22V2025.84H1270.59zM1356.86 2001.35H1406.46V2025.84H1356.86zM950.17 2025.54H975.12V2050.04H950.17zM1258.27 2025.54H1283.22V2050.04H1258.27zM1295.24 2025.54H1307.87V2050.04H1295.24zM1319.89 2025.54H1369.49V2050.04H1319.89zM1406.16 2025.54H1431.1V2050.04H1406.16zM1270.59 2049.74H1283.22V2074.23H1270.59zM1332.21 2049.74H1344.84V2074.23H1332.21zM1356.86 2073.93H1369.49V2098.42H1356.86zM1467.78 2073.93H1483.4V2098.42H1467.78zM1245.95 2098.12H1258.57V2122.61H1245.95zM1282.92 2098.12H1295.54V2122.61H1282.92zM1319.89 2098.12H1357.16V2122.61H1319.89zM1381.51 2098.12H1394.13V2122.61H1381.51zM1406.16 2098.12H1418.78V2122.61H1406.16zM1443.13 2098.12H1455.75V2122.61H1443.13zM1270.59 2122.31H1295.54V2146.8H1270.59zM1344.54 2122.31H1369.49V2146.8H1344.54zM1381.51 2122.31H1394.13V2146.8H1381.51zM1443.13 2122.31H1455.75V2146.8H1443.13zM1467.78 2122.31H1483.4V2146.8H1467.78zM1295.24 2146.5H1307.87V2171H1295.24zM1319.89 2146.5H1332.51V2171H1319.89zM1381.51 2146.5H1394.13V2171H1381.51zM1443.13 2146.5H1455.75V2171H1443.13zM1196.65 2170.7H1209.27V2195.19H1196.65zM1270.59 2170.7H1295.54V2195.19H1270.59zM1307.57 2170.7H1320.19V2195.19H1307.57zM1356.86 2170.7H1369.49V2195.19H1356.86zM1406.16 2170.7H1418.78V2195.19H1406.16zM1443.13 2170.7H1455.75V2195.19H1443.13zM1011.79 2194.89H1024.42V2219.38H1011.79zM1270.59 2194.89H1283.22V2219.38H1270.59zM1295.24 2194.89H1320.19V2219.38H1295.24zM1356.86 2194.89H1369.49V2219.38H1356.86zM1443.13 2194.89H1455.75V2219.38H1443.13zM1467.78 2194.89H1483.4V2219.38H1467.78zM950.17 2219.08H962.8V2243.57H950.17zM1184.33 2219.08H1196.95V2243.57H1184.33zM1221.3 2219.08H1233.92V2243.57H1221.3zM1245.95 2219.08H1258.57V2243.57H1245.95zM1282.92 2219.08H1295.54V2243.57H1282.92zM1356.86 2219.08H1394.13V2243.57H1356.86zM1319.89 2243.27H1332.51V2267.76H1319.89zM1344.54 2243.27H1369.49V2267.76H1344.54zM1245.95 2267.46H1295.54V2291.96H1245.95zM1344.54 2267.46H1357.16V2291.96H1344.54zM1369.19 2267.46H1381.81V2291.96H1369.19zM1393.83 2267.46H1431.1V2291.96H1393.83zM1245.95 2291.66H1258.57V2316.15H1245.95zM1270.59 2291.66H1320.19V2316.15H1270.59zM1356.86 2291.66H1381.81V2316.15H1356.86zM1406.16 2291.66H1418.78V2316.15H1406.16zM1430.8 2291.66H1455.75V2316.15H1430.8zM1467.78 2291.66H1483.4V2316.15H1467.78zM1344.54 2315.85H1357.16V2340.34H1344.54zM1430.8 2315.85H1443.43V2340.34H1430.8zM1098.06 2340.04H1110.68V2364.53H1098.06zM1233.62 2340.04H1246.25V2364.53H1233.62zM1258.27 2340.04H1270.89V2364.53H1258.27zM1307.57 2340.04H1320.19V2364.53H1307.57zM1344.54 2340.04H1357.16V2364.53H1344.54zM1245.95 2364.23H1283.22V2388.72H1245.95zM1295.24 2364.23H1357.16V2388.72H1295.24zM1196.65 2388.42H1209.27V2412.92H1196.65zM1332.21 2388.42H1357.16V2412.92H1332.21zM1381.51 2388.42H1394.13V2412.92H1381.51zM1430.8 2388.42H1443.43V2412.92H1430.8zM1036.44 2412.62H1049.06V2437.11H1036.44zM1233.62 2412.62H1246.25V2437.11H1233.62zM1344.54 2436.81H1357.16V2464.3H1344.54zM1393.83 2436.81H1418.78V2464.3H1393.83z"/>
<path fill="#EFBFBF" d="M1270.59 1853.2H1283.22V1880.69H1270.59zM1369.19 1853.2H1381.81V1880.69H1369.19zM1270.59 1880.39H1283.22V1904.88H1270.59zM1393.83 1880.39H1406.46V1904.88H1393.83zM1270.59 1904.58H1283.22V1929.08H1270.59zM1356.86 1904.58H1369.49V1929.08H1356.86zM1270.59 1928.78H1283.22V1953.27H1270.59zM1418.48 1928.78H1431.1V1953.27H1418.48zM1245.95 1952.97H1258.57V1977.46H1245.95zM1270.59 1952.97H1283.22V1977.46H1270.59zM1295.24 2098.12H1307.87V2122.61H1295.24zM1369.19 2098.12H1381.81V2122.61H1369.19zM1455.45 2098.12H1483.4V2122.61H1455.45zM1295.24 2122.31H1344.84V2146.8H1295.24zM1147.36 2170.7H1159.98V2195.19H1147.36zM1369.19 2170.7H1394.13V2195.19H1369.19zM1381.51 2194.89H1394.13V2219.38H1381.51zM1233.62 2219.08H1246.25V2243.57H1233.62zM1258.27 2219.08H1283.22V2243.57H1258.27zM1208.97 2243.27H1221.6V2267.76H1208.97zM1258.27 2243.27H1270.89V2267.76H1258.27zM1295.24 2243.27H1307.87V2267.76H1295.24zM1381.51 2243.27H1394.13V2267.76H1381.51zM1319.89 2291.66H1357.16V2316.15H1319.89zM1381.51 2291.66H1394.13V2316.15H1381.51zM1036.44 2315.85H1049.06V2340.34H1036.44zM1393.83 2340.04H1406.46V2364.53H1393.83zM1036.44 2388.42H1049.06V2412.92H1036.44zM1172 2388.42H1184.63V2412.92H1172zM1356.86 2388.42H1369.49V2412.92H1356.86zM1443.13 2412.62H1455.75V2437.11H1443.13z"/>
<path fill="#E8A3A3" d="M1369.19 1952.97H1381.81V1977.46H1369.19zM1393.83 1977.16H1406.46V2001.65H1393.83zM1233.62 2025.54H1258.57V2050.04H1233.62zM1172 2219.08H1184.63V2243.57H1172zM1172 2243.27H1184.63V2267.76H1172zM1369.19 2340.04H1381.81V2364.53H1369.19zM1011.79 2412.62H1024.42V2437.11H1011.79zM1172 2412.62H1184.63V2437.11H1172zM1258.27 2412.62H1283.22V2437.11H1258.27z"/>
<path fill="#DA6967" d="M1356.86 1853.2H1369.49V1880.69H1356.86z"/>
<path fill="#C9302C" d="M1393.83 1928.78H1406.46V1953.27H1393.83z"/>
</g></g>
</g>
<rect x="923.6" y="1731.8" width="11.9" height="120.5" fill="#DA6A6A"/>
<rect x="923.6" y="1856.2" width="11.9" height="604.8" fill="#2E74B0"/>
<text transform="translate(932.65 1790.2) rotate(-90)" font-size="10.5" font-weight="bold" fill="#fff" text-anchor="middle" textLength="91.3" lengthAdjust="spacingAndGlyphs">Up-regulated genes</text>
<text transform="translate(932.65 2001) rotate(-90)" font-size="10.5" font-weight="bold" fill="#fff" text-anchor="middle" textLength="104" lengthAdjust="spacingAndGlyphs">Down-regulated genes</text>
<path d="M921 1816.15H899.5V1840.25H921M921 1792.05H884.2V1828.2H899.5M921 1767.95H872.6V1810.12H884.2M921 1743.85H865.8V1789.04H872.6" fill="none" stroke="#C0C0C0" stroke-width="1.45"/>
<path d="M921 1916.68H913.3V1940.87H921M921 1892.49H901.2V1928.78H913.3M921 1868.3H895.2V1910.63H901.2M921 1965.06H913.3V1989.26H921M921 2037.64H913.3V2061.83H921M921 2013.45H905.2V2049.74H913.3M921 2086.02H913.3V2110.22H921M921 2182.79H913.3V2206.98H921M921 2158.6H904.6V2194.89H913.3M921 2134.41H896.1V2176.74H904.6M913.3 2098.12H889.1V2155.58H896.1M905.2 2031.59H882.2V2126.85H889.1M913.3 1977.16H875.8V2079.22H882.2M895.2 1889.46H871.3V2028.19H875.8M921 2231.18H911.5V2255.37H921M921 2279.56H911.5V2303.75H921M911.5 2243.27H903.3V2291.66H911.5M921 2352.14H911.5V2376.33H921M921 2327.94H904.6V2364.23H911.5M921 2424.71H911.5V2448.9H921M921 2400.52H904.6V2436.81H911.5M904.6 2346.09H896.1V2418.66H904.6M903.3 2267.46H889.1V2382.38H896.1M871.3 1958.83H865.7V2324.92H889.1" fill="none" stroke="#C0C0C0" stroke-width="1.45"/>
<g font-size="10.9" fill="#333" stroke="#333" stroke-width="0.28">
<text x="1489" y="1742.8" textLength="31.47" lengthAdjust="spacingAndGlyphs">CKS1B</text>
<text x="1489" y="1767.34" textLength="39.73" lengthAdjust="spacingAndGlyphs">FAM83D</text>
<text x="1489" y="1791.88" textLength="32.39" lengthAdjust="spacingAndGlyphs">CCNE2</text>
<text x="1489" y="1816.42" textLength="33.04" lengthAdjust="spacingAndGlyphs">CDKN3</text>
<text x="1489" y="1840.96" textLength="38.35" lengthAdjust="spacingAndGlyphs">DEPDC1</text>
<text x="1489" y="1865.5" textLength="29.97" lengthAdjust="spacingAndGlyphs">FGF10</text>
<text x="1489" y="1890.04" textLength="36.98" lengthAdjust="spacingAndGlyphs">CXCL12</text>
<text x="1489" y="1914.58" textLength="21.29" lengthAdjust="spacingAndGlyphs">IGF1</text>
<text x="1489" y="1939.12" textLength="30.52" lengthAdjust="spacingAndGlyphs">CCL21</text>
<text x="1489" y="1963.66" textLength="32.34" lengthAdjust="spacingAndGlyphs">ABCA8</text>
<text x="1489" y="1988.2" textLength="34.17" lengthAdjust="spacingAndGlyphs">MEOX2</text>
<text x="1489" y="2012.74" textLength="27.18" lengthAdjust="spacingAndGlyphs">JAM2</text>
<text x="1489" y="2037.28" textLength="32.97" lengthAdjust="spacingAndGlyphs">IL20RA</text>
<text x="1489" y="2061.82" textLength="34.36" lengthAdjust="spacingAndGlyphs">SMAD5</text>
<text x="1489" y="2086.36" textLength="25.84" lengthAdjust="spacingAndGlyphs">PTEN</text>
<text x="1489" y="2110.9" textLength="20.83" lengthAdjust="spacingAndGlyphs">TNN</text>
<text x="1489" y="2135.44" textLength="29.97" lengthAdjust="spacingAndGlyphs">FGF18</text>
<text x="1489" y="2159.98" textLength="24.22" lengthAdjust="spacingAndGlyphs">ZEB1</text>
<text x="1489" y="2184.52" textLength="17.58" lengthAdjust="spacingAndGlyphs">LPL</text>
<text x="1489" y="2209.06" textLength="52.51" lengthAdjust="spacingAndGlyphs">CACNA2D1</text>
<text x="1489" y="2233.6" textLength="29.77" lengthAdjust="spacingAndGlyphs">SYTL4</text>
<text x="1489" y="2258.14" textLength="36.75" lengthAdjust="spacingAndGlyphs">TCEAL1</text>
<text x="1489" y="2282.68" textLength="29.1" lengthAdjust="spacingAndGlyphs">AXIN2</text>
<text x="1489" y="2307.22" textLength="31.05" lengthAdjust="spacingAndGlyphs">TGFB3</text>
<text x="1489" y="2331.76" textLength="34.38" lengthAdjust="spacingAndGlyphs">SHMT2</text>
<text x="1489" y="2356.3" textLength="38.81" lengthAdjust="spacingAndGlyphs">ACVR1C</text>
<text x="1489" y="2380.84" textLength="40.23" lengthAdjust="spacingAndGlyphs">MAP2K4</text>
<text x="1489" y="2405.38" textLength="25.59" lengthAdjust="spacingAndGlyphs">LFNG</text>
<text x="1489" y="2429.92" textLength="33.38" lengthAdjust="spacingAndGlyphs">HOXA9</text>
<text x="1489" y="2454.46" textLength="20.47" lengthAdjust="spacingAndGlyphs">IL4R</text>
</g>
<text x="1549" y="1724.3" font-size="18" fill="#333" font-weight="bold" textLength="148" lengthAdjust="spacingAndGlyphs">30 genes in target</text>
<text x="1548.5" y="1746.6" font-size="18.5" fill="#DB6B6B" font-weight="bold" textLength="9" lengthAdjust="spacingAndGlyphs">5</text>
<path d="M1565.2 1743.8V1731.2M1563 1734.4L1565.2 1731.2L1567.4 1734.4" fill="none" stroke="#DB6B6B" stroke-width="1.2"/>
<text x="1570.8" y="1746.6" font-size="18.5" fill="#2171B5" font-weight="bold" textLength="20.2" lengthAdjust="spacingAndGlyphs">25</text>
<path d="M1597.8 1731.4V1743.8M1595.6 1740.6L1597.8 1743.8L1600 1740.6" fill="none" stroke="#2171B5" stroke-width="1.2"/>
<rect x="1547.9" y="1762.5" width="98.2" height="42.9" fill="#fff" stroke="#444" stroke-width="1"/>
<rect x="1554.8" y="1770.7" width="20" height="9.4" fill="#87BFEF"/>
<rect x="1554.8" y="1788.3" width="20" height="9.4" fill="#F4847A"/>
<text x="1580.5" y="1780" font-size="12.4" fill="#333" textLength="51.5" lengthAdjust="spacingAndGlyphs">PABC-PP</text>
<text x="1580.5" y="1796.7" font-size="12.4" fill="#333" textLength="54.8" lengthAdjust="spacingAndGlyphs">non-PABC</text>
<defs><linearGradient id="cbe" x1="0" x2="1" y1="0" y2="0"><stop offset="0" stop-color="#1B64A9"/><stop offset="0.5" stop-color="#FFFFFF"/><stop offset="1" stop-color="#C5302D"/></linearGradient></defs><rect x="938" y="2468.8" width="544" height="5.2" fill="url(#cbe)"/>
<text x="916.7" y="2476.8" font-size="14.3" fill="#8C8C8C" text-anchor="middle" textLength="13.8" lengthAdjust="spacingAndGlyphs">-4</text>
<text x="1500.6" y="2476.8" font-size="14.3" fill="#8C8C8C" text-anchor="middle">8</text>
</g>
</svg></body></html>
